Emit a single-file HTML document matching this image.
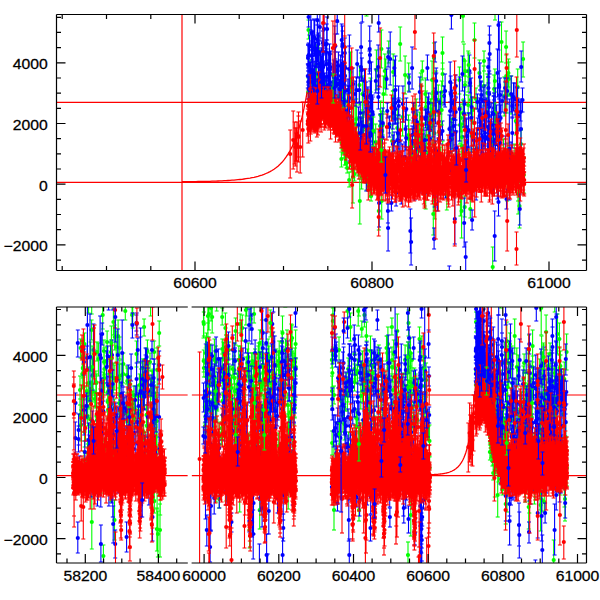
<!DOCTYPE html><html><head><meta charset="utf-8"><style>html,body{margin:0;padding:0;background:#fff;width:600px;height:600px;overflow:hidden}</style></head><body><svg width="600" height="600" viewBox="0 0 600 600" style="position:absolute;left:0;top:0">
<clipPath id="cT"><rect x="56.5" y="14.5" width="530" height="256"/></clipPath>
<clipPath id="cB1"><rect x="56.5" y="307" width="131.3" height="256"/></clipPath>
<clipPath id="cB2"><rect x="191.6" y="307" width="394.9" height="256"/></clipPath>
<g clip-path="url(#cT)" stroke="#ff0000" stroke-width="1.2" fill="none"><path d="M56.5 102.3H586.5"/><path d="M56.5 182.4H586.5"/></g>
<g clip-path="url(#cB1)" stroke="#ff0000" stroke-width="1.2" fill="none"><path d="M56.5 395H187.8"/><path d="M56.5 475.7H187.8"/></g>
<g clip-path="url(#cB2)" stroke="#ff0000" stroke-width="1.2" fill="none"><path d="M191.6 395H586.5"/><path d="M191.6 475.7H586.5"/></g>
<path d="M182 14.5V270.5" stroke="#ff0000" stroke-width="1.2"/>
<path clip-path="url(#cT)" d="M182 181.7 L184 181.7 L186 181.7 L188 181.7 L190 181.7 L192 181.6 L194 181.6 L196 181.6 L198 181.5 L200 181.5 L202 181.5 L204 181.4 L206 181.4 L208 181.3 L210 181.3 L212 181.2 L214 181.1 L216 181.1 L218 181 L220 180.9 L222 180.8 L224 180.7 L226 180.6 L228 180.5 L230 180.4 L232 180.2 L234 180.1 L236 179.9 L238 179.7 L240 179.5 L242 179.3 L244 179 L246 178.7 L248 178.4 L250 178.1 L252 177.7 L254 177.3 L256 176.8 L258 176.3 L260 175.7 L262 175.1 L264 174.4 L266 173.5 L268 172.6 L270 171.6 L272 170.5 L274 169.2 L276 167.8 L278 166.2 L280 164.3 L282 162.3 L284 159.9 L286 157.2 L288 154.2 L290 150.8 L292 146.9 L294 142.4 L296 137.3 L298 131.5 L300 124.8 L302 117.2 L304 108.4 L306 98.3 L308 86.7 L310 73.3" stroke="#ff0000" stroke-width="1.3" fill="none"/>
<path clip-path="url(#cB2)" d="M422.7 475 L423.5 475 L424.3 475 L425.2 475 L426 474.9 L426.9 474.9 L427.7 474.9 L428.6 474.9 L429.4 474.8 L430.2 474.8 L431.1 474.7 L431.9 474.7 L432.8 474.7 L433.6 474.6 L434.5 474.5 L435.3 474.5 L436.2 474.4 L437 474.4 L437.8 474.3 L438.7 474.2 L439.5 474.1 L440.4 474 L441.2 473.9 L442.1 473.8 L442.9 473.6 L443.8 473.5 L444.6 473.3 L445.4 473.2 L446.3 473 L447.1 472.8 L448 472.5 L448.8 472.3 L449.7 472 L450.5 471.7 L451.3 471.3 L452.2 471 L453 470.5 L453.9 470.1 L454.7 469.5 L455.6 469 L456.4 468.3 L457.3 467.6 L458.1 466.8 L458.9 465.9 L459.8 464.9 L460.6 463.7 L461.5 462.4 L462.3 461 L463.2 459.3 L464 457.5 L464.8 455.4 L465.7 453 L466.5 450.4 L467.4 447.3 L468.2 443.9 L469.1 439.9 L469.9 435.4 L470.8 430.3 L471.6 424.5 L472.4 417.8 L473.3 410.1 L474.1 401.2 L475 391.1 L475.8 379.4 L476.7 365.8" stroke="#ff0000" stroke-width="1.3" fill="none"/>
<defs><marker id="kg" markerWidth="8" markerHeight="4" refX="4" refY="2" markerUnits="userSpaceOnUse" orient="0" overflow="visible"><path d="M2 2h4" stroke="#00ff00" stroke-width="1.1"/></marker><marker id="kb" markerWidth="8" markerHeight="4" refX="4" refY="2" markerUnits="userSpaceOnUse" orient="0" overflow="visible"><path d="M2 2h4" stroke="#0000ff" stroke-width="1.1"/></marker><marker id="kr" markerWidth="8" markerHeight="4" refX="4" refY="2" markerUnits="userSpaceOnUse" orient="0" overflow="visible"><path d="M2 2h4" stroke="#ff0000" stroke-width="1.1"/></marker></defs>
<g clip-path="url(#cT)" fill="none"><path d="M469 150V180M483.8 66V106M362.4 76V113M425.3 78V110M311.7 72V94M325.8 76V97M420.5 137V157M434 122V143M325.4 77V113M420.8 73V99M375.7 124V160M518.2 175V214M448.6 140V165M495 1V20M491.7 130V157M417.8 132V157M425.7 169V209M366.8 113V132M370.1 108V127M380.1 115V137M392.2 125V157M328.6 61V94M405.1 56V94M457.8 152V185M470.6 86V114M481.8 120V157M414.8 105V143M506.3 55V96M439.2 114V150M511.2 76V114M508.9 62V96M397.3 109V146M356.4 99V139M465 76V95M468.2 95V115M408.5 115V154M366.5 -11V16M515.8 108V135M408.8 120V159M331.2 85V108M423.4 123V154M370.4 78V107M342.2 67V99M476 88V109M384.8 54V88M343.3 80V121M514.2 144V168M319.5 73V104M416.8 125V151M381.2 111V147M355.1 106V142M421 113V148M428.4 117V139M441.7 81V103M487.6 160V182M421.8 138V163M431.1 108V131M318.6 37V64M494.1 75V103M494.9 69V92M463.8 99V127M484 51V71M437.3 150V179M433.4 80V104M344.7 86V120M506.8 77V113M318.8 35V74M487.3 74V112M340 95V115M434.1 94V134M474.5 23V58M503.5 139V176M424.5 146V176M451.1 119V137M465.2 61V82M452 118V160M398.1 115V153M339 82V111M370.2 106V147M461.8 131V160M385.8 59V95M442.5 37V69M383.4 76V112M378.8 191V230M411.5 142V177M393.2 54V91M359.5 66V105M350.5 52V93M463 100V125M504.3 77V116M316.4 45V84M416.2 99V131M442.6 63V86M438.6 135V166M342.2 78V96M464.7 196V217M400.2 27V61M507.8 143V167M308.5 20V39M381.4 30V68M427.5 151V190M388.7 41V63M523.8 157V193M347.3 94V135M506.1 31V63M342.1 87V127M426.1 91V124M501.5 22V62M499.5 158V182M363.3 112V145M367.9 98V134M414.3 153V193M412.7 129V163M471.8 121V152M462 123V152M474.2 161V180M472.7 97V124M470.3 199V218M417.6 124V144M308.4 78V105M460 107V144M440.8 147V171M435.9 71V112M415.3 128V163M442.7 141V174M431.8 94V126M432.2 105V147M309.9 60V100M362.9 117V144M504 154V196M518 162V201M517.7 69V105M432.1 61V99M408.7 63V91M352.2 80V118M394.2 96V118M463.9 156V188M422.3 61V80M459.4 67V94M463.9 44V76M315.3 64V102M479.4 60V86M368.9 124V161M366.2 96V114M339.4 88V119M317.7 75V104M460.8 104V132M426.7 118V154M430.4 99V131M422.6 136V164M508.4 59V87M392.7 91V119M381.9 167V190M402.6 99V136M358.9 117V150M446.8 182V210M419.4 112V152M476.5 133V162M376.4 50V90M523.1 42V77M438.3 85V116M314.7 85V108M425.3 143V176M521 130V157M519.5 184V228M344.8 107V137M344.6 127V165M344.6 75V124M434.8 176V219M433.9 43V73M433.3 192V235M434.7 144V184M468.2 51V92M492.1 147V168M381.7 183V219M382.2 114V147M380.6 101V130M382.8 114V135M359.8 179V224M493 127V151M495.2 143V172M492.7 247V286M507.2 151V201M362.2 110V157M361.9 118V142M361.8 130V169M361.6 165V189M461.6 184V238M460.4 178V216M463 -10V42M352.9 150V203M352.4 159V170M351.9 160V172M339.5 111V125M364.3 163V176M366.5 174V190M368.2 180V191M347.2 163V173M358.8 163V175M342.6 123V134M341.6 138V148M349.2 172V187M362.5 159V174M345.6 152V165M344.2 146V158M358.2 164V176M346.4 157V168M368.2 169V184M354.6 167V181M345.8 129V146M366.3 162V172M339.5 122V133M342.8 144V154M350.7 132V142M366.5 166V178M341.4 152V167M371.1 191V201M343.5 112V124M340.3 119V135M342.4 132V150M370.2 181V197" stroke="#00ff00" stroke-width="1.1" marker-start="url(#kg)" marker-mid="url(#kg)" marker-end="url(#kg)"/><path d="M469 165h0M483.8 86h0M362.4 94h0M425.3 94h0M311.7 83h0M325.8 86h0M420.5 147h0M434 133h0M325.4 95h0M420.8 86h0M375.7 142h0M518.2 194h0M448.6 153h0M491.7 144h0M417.8 144h0M425.7 189h0M366.8 123h0M370.1 118h0M380.1 126h0M392.2 141h0M328.6 77h0M405.1 75h0M457.8 168h0M470.6 100h0M481.8 138h0M414.8 124h0M506.3 76h0M439.2 132h0M511.2 95h0M508.9 79h0M397.3 128h0M356.4 119h0M465 85h0M468.2 105h0M408.5 135h0M515.8 121h0M408.8 139h0M331.2 97h0M423.4 139h0M370.4 92h0M342.2 83h0M476 99h0M384.8 71h0M343.3 100h0M514.2 156h0M319.5 89h0M416.8 138h0M381.2 129h0M355.1 124h0M421 130h0M428.4 128h0M441.7 92h0M487.6 171h0M421.8 150h0M431.1 120h0M318.6 51h0M494.1 89h0M494.9 81h0M463.8 113h0M484 61h0M437.3 164h0M433.4 92h0M344.7 103h0M506.8 95h0M318.8 54h0M487.3 93h0M340 105h0M434.1 114h0M474.5 40h0M503.5 158h0M424.5 161h0M451.1 128h0M465.2 71h0M452 139h0M398.1 134h0M339 97h0M370.2 127h0M461.8 146h0M385.8 77h0M442.5 53h0M383.4 94h0M378.8 211h0M411.5 160h0M393.2 72h0M359.5 85h0M350.5 72h0M463 113h0M504.3 96h0M316.4 65h0M416.2 115h0M442.6 74h0M438.6 150h0M342.2 87h0M464.7 207h0M400.2 44h0M507.8 155h0M308.5 30h0M381.4 49h0M427.5 170h0M388.7 52h0M523.8 175h0M347.3 114h0M506.1 47h0M342.1 107h0M426.1 107h0M501.5 42h0M499.5 170h0M363.3 128h0M367.9 116h0M414.3 173h0M412.7 146h0M471.8 136h0M462 137h0M474.2 171h0M472.7 110h0M470.3 209h0M417.6 134h0M308.4 92h0M460 125h0M440.8 159h0M435.9 92h0M415.3 146h0M442.7 158h0M431.8 110h0M432.2 126h0M309.9 80h0M362.9 130h0M504 175h0M518 181h0M517.7 87h0M432.1 80h0M408.7 77h0M352.2 99h0M394.2 107h0M463.9 172h0M422.3 71h0M459.4 80h0M463.9 60h0M315.3 83h0M479.4 73h0M368.9 142h0M366.2 105h0M339.4 104h0M317.7 90h0M460.8 118h0M426.7 136h0M430.4 115h0M422.6 150h0M508.4 73h0M392.7 105h0M381.9 178h0M402.6 117h0M358.9 134h0M446.8 196h0M419.4 132h0M476.5 148h0M376.4 70h0M523.1 59h0M438.3 100h0M314.7 97h0M425.3 160h0M521 144h0M519.5 206h0M344.8 122h0M344.6 146h0M344.6 100h0M434.8 198h0M433.9 58h0M433.3 214h0M434.7 164h0M468.2 71h0M492.1 158h0M381.7 201h0M382.2 131h0M380.6 115h0M382.8 125h0M359.8 201h0M493 139h0M495.2 157h0M492.7 267h0M507.2 176h0M362.2 133h0M361.9 130h0M361.8 149h0M361.6 177h0M461.6 211h0M460.4 197h0M463 16h0M352.9 177h0M352.4 165h0M351.9 166h0M339.5 118h0M364.3 170h0M366.5 182h0M368.2 186h0M347.2 168h0M358.8 169h0M342.6 128h0M341.6 143h0M349.2 180h0M362.5 167h0M345.6 158h0M344.2 152h0M358.2 170h0M346.4 163h0M368.2 177h0M354.6 174h0M345.8 138h0M366.3 167h0M339.5 128h0M342.8 149h0M350.7 137h0M366.5 172h0M341.4 159h0M371.1 196h0M343.5 118h0M340.3 127h0M342.4 141h0M370.2 189h0" stroke="#00ff00" stroke-width="4.2" stroke-linecap="round"/><path d="M318.4 33V54M328.8 60V93M308.8 43V67M330.7 69V106M318.5 55V93M312.2 31V69M309.5 35V56M316.6 47V67M311.8 41V71M330.5 54V94M342.5 31V57M321.7 56V84M312.7 37V59M339.4 79V98M315.6 42V68M323.9 14V44M337.2 9V34M341 71V103M318.7 48V80M322.9 31V55M326.7 49V80M336 68V104M329.3 73V107M314.6 70V111M330.6 51V83M340.7 55V98M319.9 13V41M320.5 70V112M312.2 56V98M322.3 38V62M326.7 24V64M328 77V106M323.2 48V85M337.3 -1V22M321.5 66V101M317.3 25V55M328.3 52V85M328.4 64V106M308.6 77V102M315.6 72V101M318.5 36V67M322.2 67V105M340.4 64V101M329.8 69V100M314.8 66V97M326 40V64M322.1 72V113M333 64V101M326.6 63V91M317.7 21V62M338.4 52V80M324.9 73V100M310.1 77V99M320.1 52V76M330 75V109M343.7 61V101M325.6 42V61M323.3 54V79M341.7 24V56M340.6 60V102M343.9 68V106M334.7 26V67M308.3 64V99M310.6 68V97M337.3 61V80M308.1 45V68M313.1 69V107M322.6 68V104M328 81V103M345.4 47V89M310.5 62V92M308.3 44V85M329.5 44V63M313.2 70V103M319.8 75V99M345.1 81V102M318.3 67V107M342.5 47V87M320.3 70V98M335.4 66V98M308.6 6V27M310.8 -9V30M312.4 54V92M335.2 52V72M337.9 69V99M317.3 5V35M312.8 31V66M334.3 75V94M333.8 60V95M334 77V96M341.5 62V101M311.3 20V47M323.4 24V66M311.6 32V60M308 45V71M314.7 20V56M334.6 45V86M323.8 62V100M314.2 61V87M307.8 64V88M327.1 17V40M335.4 34V59M343.6 66V101M314 19V54M309.8 62V80M310.7 69V110M329.8 52V87M322.3 48V84M345 66V85M335.8 62V95M320.7 51V82M322.7 67V87M505.2 82V113M379.4 159V194M468.6 113V147M395.5 99V119M484.1 119V136M372.7 97V132M360.2 102V123M405 142V173M481.9 121V155M464.5 87V121M418.5 137V156M422.8 134V167M399.2 130V152M394.4 60V76M518.9 101V131M389.3 117V137M471.6 97V117M359.3 77V103M505.4 136V169M347.9 79V101M436.8 152V176M366.1 82V115M480 63V90M482.9 136V154M466.7 140V158M351.6 117V152M419.3 156V192M386.6 69V89M435 88V106M371.5 99V133M424.2 141V165M364 78V112M479.6 98V134M477.4 94V109M440.6 125V144M373.5 133V163M394.1 132V151M495.3 88V173M372.1 149V166M440.3 92V114M415.9 119V136M491.5 112V148M396.1 180V206M397.9 118V149M493.8 96V132M365.4 125V145M452.2 90V116M448 146V165M371.4 62V137M414.7 160V185M489.1 137V166M519 148V173M481.1 81V117M355.1 81V106M394.2 90V124M513.5 83V111M395.4 86V120M488.8 104V126M484.5 163V181M521 99V159M421.1 148V169M379.1 137V170M387.3 103V118M364.5 69V92M481 91V165M348.5 86V117M358.4 107V143M474.4 122V146M521.2 51V82M400.9 140V173M426.9 159V194M401.3 179V204M378.4 86V109M484.1 114V136M402.9 86V122M415.6 126V161M522.5 88V112M469.4 55V86M450.7 76V111M433 103V137M505.3 144V166M482.5 134V172M481.3 82V108M429.2 140V170M471.2 78V157M370.3 81V109M405.5 111V147M347.8 106V142M451.5 83V109M473.4 131V149M392.8 98V129M429 122V157M413.6 103V134M515 83V115M498 118V141M487.6 128V150M366.3 156V191M511.2 76V112M488.2 58V77M367 121V153M406.2 126V150M507.1 78V104M488.4 77V100M352.6 121V141M477.7 118V139M427.4 55V80M416.5 148V177M434.9 155V183M496.6 105V137M499.1 71V99M445.1 74V107M365.8 143V164M476.1 164V200M406.3 98V120M361.8 121V152M499.7 120V150M444 86V105M484.2 113V149M375.8 69V93M455.7 98V125M478.2 139V173M382 148V164M509.8 148V178M357.2 50V78M380.3 114V149M395.5 56V124M367.1 111V143M488.2 118V136M485 120V146M372.5 95V129M425.4 110V128M382.8 108V137M346.9 109V143M382.4 124V153M498 113V149M409.1 74V92M430.1 116V144M500.2 132V154M427.7 97V130M467.1 126V147M412.2 126V144M392.9 135V152M489.1 92V122M452.1 122V149M464 152V171M392.3 154V180M465.8 118V137M506.5 189V209M356.5 77V103M502.1 91V112M500.1 78V113M368.9 102V120M402.5 144V170M398.7 98V115M519.8 194V225M419.8 77V106M512.3 117V148M516.8 87V123M429 164V186M381.6 136V171M505.1 78V99M468.5 113V148M437.4 150V211M428.7 93V112M520.6 102V121M462.4 56V91M349.2 112V133M397.4 123V158M372.2 125V145M349.4 35V161M373.3 142V168M451.2 163V180M489.9 122V154M435.1 42V62M509.3 99V200M485.5 119V155M495.2 124V156M449.4 115V143M380 121V156M476.4 138V159M479.2 100V123M459.6 77V141M349 86V109M436.2 68V94M499.2 22V152M353 68V100M486.3 98V127M488.9 116V143M398.6 86V116M488.7 92V117M511 142V163M455.6 120V145M480.2 102V126M367.8 87V107M499.8 116V148M445.4 177V198M363.1 113V139M512.3 94V118M371.1 168V183M426 109V125M483.2 87V115M373.1 115V147M421.8 108V125M471.1 168V199M470.1 73V93M472.1 210V230M517.4 88V112M453.6 104V135M345.8 113V136M498.8 133V158M391.4 195V211M422.7 163V193M412.4 129V154M389.4 116V133M442.5 121V140M484.9 85V117M438.7 122V155M417 110V134M430.1 127V151M439 101V121M351.5 134V155M344.8 38V68M344.9 93V128M489.2 71V117M489.7 35V74M489.4 26V60M488.4 83V121M488.2 126V179M413.3 103V121M414.5 158V200M414.9 140V192M497.5 49V97M498.5 0V50M499.1 121V151M500.6 105V131M498.5 187V216M497.3 163V199M378.2 45V89M378.7 59V93M379.1 179V227M377.7 164V184M368.9 126V149M369.4 51V74M369.7 26V71M370 41V69M367.5 89V115M435.6 74V124M436.3 73V112M434.1 228V249M435 126V173M435.5 141V181M434.7 184V207M349.2 46V93M349.8 115V144M349.5 106V143M466.4 119V165M464.2 198V247M465.7 242V271M464.2 136V172M464 101V127M450.2 62V102M450.5 127V153M451.4 2V29M450.2 92V130M454.8 194V244M454.8 80V120M453.8 100V151M455.8 75V97M361.1 23V71M361.9 58V81M362.3 -13V22M361.2 118V172M361.5 148V167M360.9 53V81M491.8 103V147M494.7 211V261M493.6 141V193M494 93V122M493.9 100V124M495.5 121V167M411.1 218V265M409.7 147V187M410.4 209V253M412.1 47V89M388.1 48V67M390.2 32V85M387.9 199V223M388.1 204V251" stroke="#0000ff" stroke-width="1.1" marker-start="url(#kb)" marker-mid="url(#kb)" marker-end="url(#kb)"/><path d="M318.4 44h0M328.8 76h0M308.8 55h0M330.7 87h0M318.5 74h0M312.2 50h0M309.5 46h0M316.6 57h0M311.8 56h0M330.5 74h0M342.5 44h0M321.7 70h0M312.7 48h0M339.4 89h0M315.6 55h0M323.9 29h0M337.2 21h0M341 87h0M318.7 64h0M322.9 43h0M326.7 64h0M336 86h0M329.3 90h0M314.6 91h0M330.6 67h0M340.7 76h0M319.9 27h0M320.5 91h0M312.2 77h0M322.3 50h0M326.7 44h0M328 92h0M323.2 67h0M321.5 84h0M317.3 40h0M328.3 69h0M328.4 85h0M308.6 89h0M315.6 86h0M318.5 52h0M322.2 86h0M340.4 82h0M329.8 85h0M314.8 81h0M326 52h0M322.1 93h0M333 82h0M326.6 77h0M317.7 42h0M338.4 66h0M324.9 87h0M310.1 88h0M320.1 64h0M330 92h0M343.7 81h0M325.6 52h0M323.3 66h0M341.7 40h0M340.6 81h0M343.9 87h0M334.7 47h0M308.3 82h0M310.6 82h0M337.3 71h0M308.1 56h0M313.1 88h0M322.6 86h0M328 92h0M345.4 68h0M310.5 77h0M308.3 65h0M329.5 54h0M313.2 87h0M319.8 87h0M345.1 91h0M318.3 87h0M342.5 67h0M320.3 84h0M335.4 82h0M308.6 17h0M312.4 73h0M335.2 62h0M337.9 84h0M317.3 20h0M312.8 48h0M334.3 84h0M333.8 77h0M334 87h0M341.5 81h0M311.3 33h0M323.4 45h0M311.6 46h0M308 58h0M314.7 38h0M334.6 65h0M323.8 81h0M314.2 74h0M307.8 76h0M327.1 29h0M335.4 46h0M343.6 84h0M314 37h0M309.8 71h0M310.7 90h0M329.8 70h0M322.3 66h0M345 76h0M335.8 79h0M320.7 67h0M322.7 77h0M505.2 97h0M379.4 176h0M468.6 130h0M395.5 109h0M484.1 127h0M372.7 114h0M360.2 113h0M405 157h0M481.9 138h0M464.5 104h0M418.5 147h0M422.8 150h0M399.2 141h0M394.4 68h0M518.9 116h0M389.3 127h0M471.6 107h0M359.3 90h0M505.4 153h0M347.9 90h0M436.8 164h0M366.1 98h0M480 77h0M482.9 145h0M466.7 149h0M351.6 135h0M419.3 174h0M386.6 79h0M435 97h0M371.5 116h0M424.2 153h0M364 95h0M479.6 116h0M477.4 102h0M440.6 134h0M373.5 148h0M394.1 142h0M495.3 130h0M372.1 158h0M440.3 103h0M415.9 128h0M491.5 130h0M396.1 193h0M397.9 133h0M493.8 114h0M365.4 135h0M452.2 103h0M448 156h0M371.4 99h0M414.7 172h0M489.1 151h0M519 161h0M481.1 99h0M355.1 94h0M394.2 107h0M513.5 97h0M395.4 103h0M488.8 115h0M484.5 172h0M521 129h0M421.1 159h0M379.1 154h0M387.3 111h0M364.5 81h0M481 128h0M348.5 101h0M358.4 125h0M474.4 134h0M521.2 67h0M400.9 157h0M426.9 177h0M401.3 192h0M378.4 97h0M484.1 125h0M402.9 104h0M415.6 143h0M522.5 100h0M469.4 71h0M450.7 94h0M433 120h0M505.3 155h0M482.5 153h0M481.3 95h0M429.2 155h0M471.2 118h0M370.3 95h0M405.5 129h0M347.8 124h0M451.5 96h0M473.4 140h0M392.8 113h0M429 140h0M413.6 118h0M515 99h0M498 129h0M487.6 139h0M366.3 173h0M511.2 94h0M488.2 67h0M367 137h0M406.2 138h0M507.1 91h0M488.4 88h0M352.6 131h0M477.7 129h0M427.4 68h0M416.5 162h0M434.9 169h0M496.6 121h0M499.1 85h0M445.1 91h0M365.8 154h0M476.1 182h0M406.3 109h0M361.8 137h0M499.7 135h0M444 96h0M484.2 131h0M375.8 81h0M455.7 112h0M478.2 156h0M382 156h0M509.8 163h0M357.2 64h0M380.3 131h0M395.5 90h0M367.1 127h0M488.2 127h0M485 133h0M372.5 112h0M425.4 119h0M382.8 123h0M346.9 126h0M382.4 138h0M498 131h0M409.1 83h0M430.1 130h0M500.2 143h0M427.7 113h0M467.1 136h0M412.2 135h0M392.9 144h0M489.1 107h0M452.1 135h0M464 161h0M392.3 167h0M465.8 127h0M506.5 199h0M356.5 90h0M502.1 101h0M500.1 95h0M368.9 111h0M402.5 157h0M398.7 106h0M519.8 209h0M419.8 92h0M512.3 133h0M516.8 105h0M429 175h0M381.6 153h0M505.1 88h0M468.5 131h0M437.4 180h0M428.7 103h0M520.6 112h0M462.4 74h0M349.2 123h0M397.4 140h0M372.2 135h0M349.4 98h0M373.3 155h0M451.2 171h0M489.9 138h0M435.1 52h0M509.3 149h0M485.5 137h0M495.2 140h0M449.4 129h0M380 139h0M476.4 149h0M479.2 111h0M459.6 109h0M349 98h0M436.2 81h0M499.2 87h0M353 84h0M486.3 112h0M488.9 130h0M398.6 101h0M488.7 105h0M511 153h0M455.6 132h0M480.2 114h0M367.8 97h0M499.8 132h0M445.4 188h0M363.1 126h0M512.3 106h0M371.1 176h0M426 117h0M483.2 101h0M373.1 131h0M421.8 117h0M471.1 183h0M470.1 83h0M472.1 220h0M517.4 100h0M453.6 119h0M345.8 124h0M498.8 146h0M391.4 203h0M422.7 178h0M412.4 141h0M389.4 124h0M442.5 131h0M484.9 101h0M438.7 139h0M417 122h0M430.1 139h0M439 111h0M351.5 145h0M344.8 53h0M344.9 111h0M489.2 94h0M489.7 54h0M489.4 43h0M488.4 102h0M488.2 153h0M413.3 112h0M414.5 179h0M414.9 166h0M497.5 73h0M498.5 25h0M499.1 136h0M500.6 118h0M498.5 202h0M497.3 181h0M378.2 67h0M378.7 76h0M379.1 203h0M377.7 174h0M368.9 138h0M369.4 62h0M369.7 49h0M370 55h0M367.5 102h0M435.6 99h0M436.3 93h0M434.1 239h0M435 150h0M435.5 161h0M434.7 196h0M349.2 69h0M349.8 129h0M349.5 125h0M466.4 142h0M464.2 223h0M465.7 257h0M464.2 154h0M464 114h0M450.2 82h0M450.5 140h0M451.4 15h0M450.2 111h0M454.8 219h0M454.8 100h0M453.8 126h0M455.8 86h0M361.1 47h0M361.9 70h0M361.2 145h0M361.5 157h0M360.9 67h0M491.8 125h0M494.7 236h0M493.6 167h0M494 108h0M493.9 112h0M495.5 144h0M411.1 242h0M409.7 167h0M410.4 231h0M412.1 68h0M388.1 57h0M390.2 59h0M387.9 211h0M388.1 228h0" stroke="#0000ff" stroke-width="4.2" stroke-linecap="round"/><path d="M290.2 130V178M293.2 111V169M294.7 122V164M295.3 128V166M296.4 133V161M296.5 128V161M297 122V172M298.4 116V157M298.5 112V162M300.2 121V173M302.7 102V157M312.6 99V123M318.4 96V121M329.1 94V122M470.9 155V180M378.2 143V171M387.1 169V194M396.5 166V189M504.1 150V170M345.5 125V150M504.5 172V197M315.3 97V118M373.4 160V187M496.4 167V189M458.7 171V192M388.1 152V177M419.8 169V190M512.6 165V190M319.3 102V127M458.5 162V191M418.9 164V189M496.3 161V183M406.6 176V201M396.2 164V185M325.2 98V122M419.8 163V186M345.7 121V144M512.1 172V193M473.2 159V183M320.9 90V117M456.6 165V191M440 159V179M353.4 132V159M480.4 164V186M380.3 157V185M381.3 142V165M358.5 138V160M465.6 174V196M466.9 158V186M493.5 162V183M416.9 154V179M423.8 165V192M342.4 111V133M434.4 167V194M520.6 165V192M484.5 167V192M502.1 173V198M365.3 152V175M491.3 168V192M377.2 168V190M518.8 165V188M445.6 165V190M351.6 135V156M383.1 172V200M463.6 161V184M423.8 170V195M357.7 144V172M427.3 163V187M502.8 153V179M499.1 158V183M381.9 161V188M327.9 96V122M358.5 139V166M451.9 151V177M355.3 128V153M312.4 95V123M358.2 151V173M368.7 150V176M518.4 160V185M321 93V119M445.2 160V184M330.7 103V127M395.3 166V192M466.8 167V192M423.7 157V181M521 156V177M350.9 139V162M329.1 99V124M492.8 149V172M328.8 102V122M427.9 162V190M421.5 152V181M414.4 159V187M319.5 100V124M363.5 153V179M316.9 110V137M309.6 105V129M514.2 157V182M441.8 173V194M324.5 106V127M373.1 158V182M442.4 145V167M338.6 102V125M311.7 106V128M414.4 157V180M419.6 175V198M517 158V180M443 159V182M511.6 161V184M406.2 169V194M521.9 157V184M420 166V193M312.8 95V120M311.2 107V131M433.7 160V187M468.7 161V183M503.6 159V182M457.4 168V190M330 93V114M523.6 161V185M368.9 161V186M360.1 143V166M522.2 150V176M396.1 152V179M334 89V116M473.5 146V173M497 160V182M408.6 179V207M320.4 99V120M410.4 173V200M425.1 175V196M370.6 156V180M453.9 161V187M373 162V187M506.4 162V183M346.4 126V148M388.3 170V193M508.5 151V177M507.6 163V191M502 168V191M337.1 112V135M438.9 165V185M508.8 165V191M459.1 158V180M375.9 164V188M322 93V115M353.4 124V148M413.3 170V195M322.6 92V113M448.7 182V207M506.1 153V180M488.5 158V183M465.9 164V189M390.8 153V179M439.6 155V180M482.8 143V167M444.3 164V192M455.1 160V187M315.9 98V122M489.8 168V193M472.4 161V183M335.2 99V123M522.6 149V177M515.7 148V173M459.2 168V196M436.2 163V190M459.1 160V187M395.7 153V176M318.3 100V121M313.5 106V126M382.1 160V186M424.8 162V188M448.4 168V189M429.3 160V184M377.9 172V199M448 159V184M421.6 164V187M506.1 154V181M477.1 144V171M394.9 168V190M482.4 158V179M448.1 157V181M324.6 91V115M332.8 105V130M372.2 158V185M321.2 103V126M339.2 112V136M356.8 132V159M477.3 158V187M443.7 161V187M346.1 123V144M310.2 106V132M516.2 159V186M321 100V127M512.5 164V186M323.9 91V120M480.3 162V188M343.8 126V148M434 164V188M317.9 103V131M398 154V182M485.9 163V185M433.5 145V173M340.3 110V135M466.9 169V194M316.4 104V130M406.9 147V172M493 150V175M410.3 154V181M309 101V125M498.8 157V185M324.3 102V130M389.1 160V187M328.9 98V125M320.9 95V120M494.5 174V196M386 163V185M509.7 170V195M345.3 128V151M397.1 162V182M463.8 147V172M509.3 176V198M387.1 166V189M413.9 160V186M458.5 165V193M381.4 169V194M465 156V182M321 90V118M422.9 143V169M392.3 156V181M501.3 157V183M523.6 148V175M512.3 171V192M336.6 100V122M355.7 134V155M483 150V173M404.3 158V186M336.2 102V124M439.5 160V184M505.4 150V175M426.7 156V184M400.4 177V201M396.6 157V181M406.1 169V193M387.2 173V196M377.7 151V174M435.7 176V200M395.4 176V202M315 95V123M474.3 153V180M500.2 166V191M438.7 166V194M468.2 159V185M366.4 156V180M356 127V154M376.1 163V187M375.8 157V181M376.6 154V182M490.8 161V183M337.1 102V128M388.9 165V189M483.9 154V175M361.8 144V172M346.7 127V151M427 160V182M410.7 169V191M400.3 167V193M474.1 152V177M453.2 172V196M458.8 175V202M451.8 173V195M506 170V196M423.1 173V195M335.3 96V120M445.7 165V188M366.1 157V182M515.5 169V193M471.8 165V186M483.9 160V182M507.8 150V174M474 152V180M505.5 156V182M344.1 112V139M419.2 159V188M469.2 175V198M331.4 97V120M339.3 106V133M416.3 168V189M434.9 184V211M501.3 163V188M424 171V199M410.5 178V202M511.6 165V187M378.2 158V180M489.8 161V185M444.7 158V181M314.6 102V127M379 171V193M444.2 162V190M381.8 150V174M434.6 166V191M316.6 103V127M503.4 171V196M474.3 166V191M318.2 102V129M310.4 114V141M462.3 148V172M454.3 166V193M339.3 113V140M419 164V184M311.2 98V124M376.1 161V182M344.3 108V137M458.5 151V179M437.6 163V183M308.3 116V143M488.4 153V177M433.4 168V190M366.2 154V177M354.8 129V153M480 160V181M401.6 169V191M439 143V170M413.3 173V199M478.5 163V188M453.5 157V179M512.2 153V173M415.3 159V183M504.3 176V196M353.1 140V163M489.7 165V190M478 158V186M484.3 159V185M443.9 153V179M325.6 101V124M412.8 174V198M351.5 136V160M474.7 160V187M447 160V185M493.2 148V171M419.5 161V185M387.1 162V186M397.7 159V182M328.8 87V113M446.7 162V183M370.4 159V185M442.6 157V178M379.9 163V185M410.5 167V194M361.2 149V171M327.1 93V118M513.2 161V182M348.5 125V146M409.6 157V182M465.3 156V179M459.1 160V185M437.7 176V201M350.1 137V162M343.9 114V136M465 164V187M396.8 168V190M404.1 172V197M457.1 165V190M451.5 174V200M474.6 162V185M338.9 114V142M407.5 175V198M345.8 133V160M368.6 150V179M414.9 164V191M420.5 166V189M491.4 153V180M327.2 97V123M336.3 117V137M365 136V160M519.1 150V175M402.9 146V173M481.4 159V182M473.5 150V175M437.4 172V193M323.4 87V113M344.2 127V155M481.6 157V184M400.1 154V182M404.6 156V183M409.1 169V195M509.9 162V188M387.6 163V188M414.6 166V187M368.2 162V187M523.4 157V182M474.5 149V170M314.9 100V126M503.1 159V182M325.1 104V127M391 164V185M470.7 170V197M430.6 165V191M407.7 157V179M448.4 170V196M351.4 129V154M382.3 165V187M313.9 105V132M505 151V174M384.7 143V171M353 126V148M477.8 163V188M317.6 96V123M499.1 155V178M361.1 151V172M517.2 165V185M441 172V199M440.6 153V180M409.4 173V198M387.4 163V185M459.1 155V177M436.3 172V194M369.2 151V174M390.6 160V186M319.5 102V123M494.8 166V187M316.7 102V129M391.9 158V180M362.6 143V170M459.1 149V172M328.8 106V128M414.1 168V191M439.6 161V188M389.4 155V176M399.8 176V201M414 152V180M331.6 103V126M402.7 182V207M315.7 106V131M337.1 108V130M433.7 173V195M489.4 142V166M378.3 154V176M316.7 100V122M407.6 162V186M424.1 165V192M358.6 150V172M496.4 154V180M428.6 170V191M319 101V124M392.5 171V199M331.6 96V122M458.2 154V180M458.7 164V189M511.7 158V183M403.7 167V194M455.4 168V196M452.9 183V206M473.1 156V178M475.1 168V190M371.5 172V195M341.8 118V145M320.3 95V121M492.5 154V181M489.8 153V176M320.3 90V119M361.5 154V175M330.3 96V119M376.5 149V171M357.9 135V159M338 105V131M410.2 152V176M470.9 155V181M389.1 154V175M336.5 106V133M504.1 155V178M476.6 167V191M475.9 153V181M489.6 168V189M493.8 150V176M412.5 162V185M467.4 162V187M459.5 159V185M392.6 162V182M523.2 172V195M312.9 103V130M447.2 170V199M469 152V176M369.7 148V172M392.4 169V195M325.5 105V128M379.3 161V183M487.7 155V181M507.6 149V171M422.9 157V179M407.5 168V193M410.4 168V191M407.6 160V186M453.5 157V183M463.9 163V187M331 90V117M476.6 175V197M524 144V172M445.4 158V187M497.9 164V190M357.2 142V170M396.4 172V196M405.7 173V200M414.3 172V198M516.2 153V181M513.2 166V186M491.8 150V178M457.1 155V178M338.8 111V134M501.5 158V184M509.1 152V175M348.2 130V151M424.3 156V184M348.2 128V153M448.3 180V204M421.2 171V192M463.3 166V187M430 170V194M385.7 162V187M367.9 141V168M361.1 140V167M434 161V188M311.6 94V122M482.8 163V185M321.3 97V124M413.9 150V179M407.6 163V183M334 104V128M349.6 133V155M365.6 154V181M311.7 100V126M330 91V116M438.1 162V191M410.4 167V192M479.6 170V192M426.8 164V186M451.8 156V178M371.8 154V179M520.9 161V186M337.5 112V134M335.4 106V127M341.5 113V137M348.8 122V142M315.7 88V115M465.4 162V183M420.1 166V187M373.2 147V168M370.2 159V183M501.7 160V182M443.9 169V195M478.5 166V190M495.9 161V184M355.8 142V169M444.7 165V185M458.2 146V168M318.7 96V117M380.4 159V180M498.4 153V179M469.6 155V181M352.2 133V156M522 154V182M401.5 163V187M518.7 152V172M384.8 170V190M427.3 174V200M393.5 167V189M440 170V195M329.9 98V125M323.6 100V124M499.5 165V188M511.9 151V177M402.5 151V176M479.1 170V190M326.6 98V119M340.1 113V135M352.6 140V163M382.1 161V187M407.9 168V190M488.2 165V186M469.1 172V194M402.8 160V180M402.7 165V192M374.6 169V190M369.9 151V174M511.2 161V185M351.1 125V147M387.3 172V200M441.2 172V198M357.8 139V161M335.6 98V120M448.3 158V183M413 170V191M402.6 151V172M416.6 166V193M492.7 168V192M472.7 161V189M353.7 135V157M385.9 158V180M428.6 169V196M484.8 157V185M382.4 156V176M467.9 160V185M328.2 93V120M425.2 147V175M325.9 100V125M402.4 159V179M379.2 141V167M489.5 155V181M387.8 158V179M312.2 99V121M500 155V182M454.4 157V184M384.3 150V172M457.7 162V183M396 146V174M370.3 164V187M311.3 98V119M410.6 165V187M432.3 156V183M387.4 157V179M498.4 160V182M348.3 127V151M468.4 158V185M483.3 154V176M442.9 172V199M360.2 143V168M401.2 152V175M386.4 157V184M487.8 149V170M347.9 129V150M313.5 107V129M503 151V177M481.2 170V191M348 125V149M381 174V195M374.3 147V173M442.4 159V181M491.3 161V189M357.5 138V160M481.9 156V181M313.6 95V122M457.6 169V190M329.6 93V118M442.2 159V188M506.6 159V180M487.1 150V178M486.6 166V187M374 167V194M376.9 174V200M417.8 173V196M411.1 170V196M378.4 163V188M516.4 148V173M479.9 159V181M512 155V177M520.7 153V181M500.6 175V197M463.7 161V185M519 153V177M423.6 165V190M384.1 154V181M311.7 99V120M464.7 167V189M399.1 151V172M347.8 127V147M311.6 105V127M476 152V179M369.2 139V159M409.2 168V189M424.6 181V206M332.8 98V121M402.3 174V199M439.7 153V181M511.7 160V182M428.9 172V196M389.4 156V184M415.4 175V197M443.6 163V185M493.2 152V174M375.8 161V188M334.5 106V134M503.1 175V197M428.3 159V184M499.6 164V188M307.7 112V136M383.2 157V186M339.3 110V132M345.7 112V140M339.3 115V140M388.8 152V180M454 169V194M405.6 162V188M443.5 172V194M436.6 161V187M408.4 176V197M315.3 104V131M474.9 164V186M498.4 154V182M408.4 167V192M482.9 164V189M365 152V173M379.5 159V181M458.1 173V197M510.9 161V187M345.5 122V144M451.2 172V195M338.6 106V132M345.6 120V146M503.8 175V195M459.9 171V198M484.1 160V187M464.3 155V179M415.1 172V192M387.7 167V194M327.4 97V119M426.6 160V187M308 102V125M404.5 165V190M431.1 147V174M360 147V172M393.2 153V174M315.8 96V117M475.9 159V180M418.6 169V196M475.2 159V180M470.7 176V199M470.2 155V178M391.6 173V195M496.6 169V193M325.6 95V122M423.9 171V191M515.9 160V188M315.3 98V122M376.2 144V171M383.7 157V178M346.9 132V156M493.9 161V187M494.3 159V180M497.5 155V182M418.1 172V197M319.2 96V116M412.6 172V194M358.9 154V179M370.2 155V180M341.8 120V145M321.1 104V132M354 136V160M314.6 98V125M509.5 163V186M503.1 154V177M384.5 159V185M465.5 165V193M350 138V163M382.5 159V181M338 107V135M469.7 153V175M371.4 155V183M387.7 156V180M354.3 148V169M503.2 162V186M521.8 153V176M396.8 174V198M418.8 166V190M435.7 171V194M423.1 159V187M505.7 159V181M355.4 136V162M387.1 167V190M477.3 158V180M408.4 181V202M365 157V179M468.6 149V170M392.5 165V191M520.6 169V190M337 111V136M359 138V160M518.5 174V197M455 170V194M420.6 167V190M520.3 175V201M389.3 176V202M371.3 161V183M425.8 167V190M467.9 162V190M370.4 151V172M322.3 92V117M482.3 158V184M451.1 156V178M493 166V188M349.3 128V153M314.2 99V120M414.4 163V185M338.3 112V133M467.3 164V190M318.1 93V120M412.1 157V180M470.8 158V181M435.1 165V191M461.5 166V192M436.6 171V193M370.9 171V193M424.1 164V187M440.6 168V192M511.3 153V177M445.7 170V191M365.8 140V166M371.7 163V189M435.6 153V180M424.4 169V189M513.1 155V182M362.8 147V172M429.8 149V175M502 163V183M401.1 159V185M384 163V189M459.6 154V181M445.7 160V188M312.4 103V128M345.3 115V141M432.4 177V204M347.9 132V157M395 181V202M378.9 177V200M391.5 162V184M502.9 155V181M426.1 166V193M342.9 127V151M400.9 173V200M374.9 156V179M516.2 163V187M370.6 163V190M479.6 164V192M446.6 160V181M488.8 160V188M386.8 161V184M513 170V195M473.2 170V196M379.8 171V191M389.6 167V192M457.3 156V177M508 156V184M508.4 155V182M335.5 117V142M341 104V127M516.6 172V195M345.1 116V141M470.1 158V184M464.4 165V193M479.2 162V182M329.8 104V124M326.6 94V120M413.4 162V185M458.9 171V193M469.3 165V190M481.9 158V181M414 156V180M331.6 93V114M501.5 155V177M373.3 168V193M508.7 160V186M454.3 169V197M407.3 167V190M457.6 164V191M489.7 162V189M486.3 153V181M379.6 157V177M369.1 158V183M453.6 154V180M383.6 166V191M477.1 159V180M485.8 171V195M405.6 163V186M515.9 151V179M430.8 163V190M309 99V128M362.9 152V173M375.5 164V188M314.1 93V120M513 156V181M462.1 169V198M457.2 167V190M480.5 156V184M420 177V200M465.9 165V193M448 175V199M318.7 91V115M432.6 174V201M363.5 152V177M313.5 94V120M433.8 160V182M437.6 163V191M382.3 144V171M331.8 101V126M490.7 167V192M308.6 99V127M505.5 149V173M517.7 159V186M406.5 159V184M331.6 100V125M488.6 152V175M361.7 152V177M440.2 167V193M389.9 162V188M496.6 163V186M319.7 96V118M316.9 99V123M453.8 171V197M379 157V179M463.7 166V190M367.8 141V163M422.6 167V194M361.4 142V164M389.8 154V177M350 129V157M433.9 162V183M488.8 159V185M350.3 125V149M523.2 154V175M489.8 173V200M473.4 158V181M517.8 158V186M347.6 126V148M468.3 161V187M474.5 162V185M310.5 96V120M446.5 159V182M412.7 166V192M413.8 167V191M385.3 173V201M435.5 177V205M360.7 151V174M395.4 170V192M336.8 109V133M422.3 159V184M388.9 163V188M400.7 161V188M522.6 154V175M436.3 164V188M496.6 154V181M386.3 151V175M505.7 158V183M385.6 172V193M387.6 157V183M314.1 96V121M427.5 172V200M409.8 170V193M335.7 105V127M387.3 159V183M458.3 184V205M492.3 165V191M484.4 170V196M487.2 169V196M438.9 169V190M515 158V182M521.6 153V176M419.5 156V182M488.4 158V179M382.7 155V178M398.4 177V197M377.9 160V187M397.5 158V182M488 156V181M430.5 153V178M457.4 169V192M495.7 162V188M319.7 85V106M362.2 143V164M451.6 163V189M328 102V123M401.6 175V198M431.4 166V189M380.9 158V181M399.6 176V199M500.3 152V179M408.3 150V176M317.2 88V113M485.4 174V194M446.6 163V187M374.4 153V181M316.9 98V122M412.8 169V194M510 167V190M379.4 174V196M479.9 152V174M515.4 160V187M391.5 161V185M330.4 93V120M339.1 109V135M368.6 159V179M391.6 170V193M485.9 171V196M508.6 157V183M417.7 164V186M461.4 171V199M422.4 168V194M504.4 148V170M309 106V132M380.8 161V183M380.8 159V187M521.5 155V183M375 167V193M463.2 166V191M434.8 159V182M341.4 121V148M362.9 160V182M463.3 160V181M355.7 134V157M343.5 109V131M521.3 151V177M512.4 168V189M377.6 160V186M352.8 129V155M429 161V183M380.1 161V186M509.9 164V192M400.9 160V183M328.8 100V126M485.3 159V188M461.5 166V194M393.9 162V187M387.7 180V203M446.7 157V177M317.9 101V128M477.4 151V176M513.6 163V187M521.6 165V193M441.8 169V194M341.9 117V139M330.6 112V139M444.8 161V187M440.8 163V187M434.1 166V189M371.4 153V182M503 166V193M351.6 142V169M440.1 176V202M337.9 105V132M459.4 166V194M419.4 166V188M463 161V183M419.5 163V188M471.8 181V201M478.5 159V186M404.5 164V191M495.6 156V180M341.5 117V140M524.2 172V196M469.4 153V181M493.1 170V196M474.8 158V186M392.9 160V184M485.2 144V171M363.6 156V183M458.5 167V191M364 154V179M335.8 95V115M458.8 163V189M511.8 145V169M314.3 94V117M417.3 172V199M479.5 169V192M413.9 151V177M445.7 174V194M522.5 159V183M470.4 171V192M429.7 173V193M421 157V185M315.1 108V133M448.8 168V188M314.6 99V120M469.8 167V191M443.4 176V200M365.6 157V183M445.2 168V189M376.6 169V195M341.6 111V137M505.7 153V175M477.3 154V180M428 155V181M499.1 158V184M318.3 99V124M380.7 169V195M453.8 163V187M443.9 172V194M504.6 169V192M510.1 170V199M332.9 99V123M333.5 97V125M328.5 97V118M463.9 153V180M341.1 109V133M346.3 116V141M338.5 99V125M381.8 169V191M519.5 147V175M466.6 153V177M346.5 123V148M485.5 169V193M333.4 107V133M519.4 156V180M463.5 163V187M483.4 161V185M349.9 130V152M431.1 158V183M341.8 120V147M344.4 116V137M498.1 171V196M362.9 142V165M382.7 153V179M500.4 154V180M480 165V187M389.5 158V179M481.3 179V202M448.9 156V179M524.2 166V194M513.3 156V184M463.8 167V192M309 107V130M318.2 103V126M352 122V150M461.7 166V189M342.6 115V143M365.2 146V168M492 156V185M425.5 169V190M414.2 175V201M509.4 169V192M488.8 150V178M351.4 128V155M395.9 175V200M486.6 155V182M504.5 164V192M376.3 161V189M349.4 146V169M368.3 179V200M463.5 169V194M369.4 159V180M363.2 160V180M497.5 154V181M333.1 102V126M492.3 181V204M366 154V175M326.2 98V123M366.1 158V181M366.2 146V173M444.5 150V177M475.6 155V176M407.8 163V189M437.3 162V186M410 171V195M503.7 151V173M451.2 164V185M511 169V190M334.5 107V129M436 164V185M438.1 170V195M420.4 163V190M390.1 162V183M311 100V125M329 104V130M470.4 166V193M480.7 157V178M498.4 165V191M507.8 165V190M335.3 101V124M481.9 164V191M513.2 156V184M415.8 161V185M466.9 178V203M316.3 102V125M443.2 161V184M348 115V139M465.7 164V189M363.4 138V163M455.5 167V191M425.1 177V198M327.5 99V121M325.6 91V117M455.8 159V180M516.8 171V191M456.3 156V176M351.5 131V156M349.8 136V157M349.9 121V143M475.8 153V179M332.7 104V130M415.5 168V196M522.5 160V186M475.7 163V190M355.7 138V163M427 158V181M348.8 127V154M320.8 101V124M342.3 120V140M341.2 115V136M500.4 155V182M334.5 108V134M328.2 92V114M424.5 187V208M462.1 170V194M429.7 169V194M361.8 151V172M397.1 164V192M451.3 170V191M373.6 148V171M340.1 116V140M310.8 105V134M355.5 140V163M490.3 155V177M352.8 124V152M423.8 183V204M474.9 159V183M472.9 179V202M448.2 162V185M367.4 155V175M449 154V174M505.8 161V183M334.3 102V123M452.2 162V183M350 121V147M336.1 106V131M356.5 143V167M458.6 163V187M503.5 154V182M315.6 101V130M447.7 179V201M314.8 105V129M307.8 109V134M410.2 161V187M340.4 102V124M310.7 105V126M379.8 156V180M412.3 168V194M345.4 120V148M499.7 154V177M382.5 163V191M480 150V178M425.6 170V191M419.9 160V183M392.8 173V196M318 112V135M387 161V188M482.6 162V187M381.5 158V183M404.4 163V185M471.3 160V187M514.9 156V180M488 150V174M405.2 181V206M498.4 152V178M380.9 157V184M456.3 147V172M378.6 152V173M320.2 101V127M431.9 156V177M509.6 170V193M373.3 162V185M506.1 164V188M329.8 101V126M513.7 159V184M416.9 169V195M340.7 105V127M507.3 152V174M313.9 100V122M456.7 159V184M365.1 158V179M316.6 97V123M510.9 156V180M523.2 166V190M417.3 157V180M514 169V190M424.2 162V185M417.3 162V188M352.3 119V147M468.7 162V190M460.7 157V177M520 150V178M412.9 175V197M469.2 173V199M471 158V183M429.8 142V170M491.5 157V177M400.7 169V192M410 165V192M403.1 172V193M472.2 166V186M386.9 168V195M320.9 91V115M511.9 162V185M443.8 169V195M486 166V188M362.5 142V168M375.5 159V183M394.4 160V181M333.9 97V118M448.9 165V192M332.9 103V126M432.1 140V162M517.1 154V182M347.8 113V136M385.3 152V168M367.9 129V157M500.5 146V162M476.6 128V153M456.9 160V187M440.7 160V176M442.2 156V182M376.9 154V184M413.2 158V180M310.3 75V103M405.4 164V188M436.5 147V171M468.2 152V174M318.3 90V113M384.6 139V163M465.6 140V170M312.5 87V115M318.6 72V88M456.4 164V181M423.8 146V171M522.9 158V185M320.2 84V103M447.6 163V186M496.3 153V171M501.9 148V168M312.4 99V127M462.7 148V171M346.4 124V141M453.3 156V184M479 158V184M374.6 148V173M388.7 150V175M368 106V128M332.7 90V106M363.6 134V164M366 135V157M345.2 114V135M348.5 95V115M506.9 154V181M444.9 145V174M328.9 92V122M491.5 147V167M402.7 161V181M490.2 158V182M319.6 99V118M334.3 92V111M368.3 148V169M520.3 138V159M448.7 148V163M393.4 154V182M446.8 144V174M451.7 151V168M444 162V187M487.2 149V169M399.3 153V176M340.2 92V120M447.4 165V182M388.9 153V182M392.8 141V170M368.9 146V165M514 153V174M427.9 160V186M368.9 142V158M521.1 159V181M386.9 114V140M351.4 116V138M391.8 160V176M408.3 162V184M359.2 138V157M319 98V120M418.7 149V177M475.8 152V168M435.9 141V165M308.1 93V119M356.7 136V162M362.9 135V151M415 144V199M414.9 14V49M412.8 96V123M415.1 94V141M474.7 153V217M474.6 40V98M438.3 148V211M438.3 138V194M439 131V184M439.8 141V165M439.8 111V140M422.2 91V159M421.5 130V159M421.1 84V134M421.7 86V152M351.4 78V138M353.4 105V177M353.4 77V128M351.7 48V88M351.2 122V151M516.7 117V149M517.8 117V189M516.8 2V57M516.5 232V265M516.5 77V145M379.8 132V190M381 128V174M378.7 198V236M378.2 129V172M380.1 28V87M379.6 149V193M433.8 78V145M435.8 168V239M433.7 33V79M434.9 144V180M344.7 14V80M344.7 36V89M489.5 162V202M505.8 81V139M506.6 54V82M507.2 192V251M505.8 102V159M365.5 69V134M367.8 90V134M351.3 117V165M352.1 162V208M455.2 132V165M455 75V110M454.6 61V115M454.7 198V246M410 129V169M410.1 153V201M315.3 88V121M323.1 -5V52M324 -3V23M327 87V124M334.9 14V75M332.9 21V76M478.3 150V171M485.7 101V130M430.1 114V131M429.2 136V151M471.4 120V146M482.2 109V128M448.7 140V164M490.7 119V145M400.4 119V141M473.3 129V145M496.3 119V144M424.5 140V163M454.5 99V117M389.5 147V163M415.3 145V165M448 135V153M496.9 112V141M418.3 124V149M517.4 145V163M464.9 115V145M403.6 93V122M391.4 95V121M438.3 113V133M501.9 128V145M439.1 161V188M428.5 135V162M397.4 147V166M508.1 124V146M437.6 159V181M438.7 142V168M421 134V151M417.2 124V147M415 130V152M496.1 151V179M498.4 128V153M415.3 124V143M474.5 108V138M517.4 98V125M479.6 128V150M490.2 123V149M500.9 123V140M410.8 135V159M365.5 143V165M498.2 119V134M349.9 116V140" stroke="#ff0000" stroke-width="1.1" marker-start="url(#kr)" marker-mid="url(#kr)" marker-end="url(#kr)"/><path d="M290.2 154h0M293.2 140h0M294.7 143h0M295.3 147h0M296.4 147h0M296.5 144h0M297 147h0M298.4 136h0M298.5 137h0M300.2 147h0M302.7 130h0M312.6 111h0M318.4 109h0M329.1 108h0M470.9 167h0M378.2 157h0M387.1 181h0M396.5 178h0M504.1 160h0M345.5 138h0M504.5 184h0M315.3 108h0M373.4 173h0M496.4 178h0M458.7 181h0M388.1 164h0M419.8 180h0M512.6 178h0M319.3 115h0M458.5 176h0M418.9 177h0M496.3 172h0M406.6 188h0M396.2 174h0M325.2 110h0M419.8 174h0M345.7 132h0M512.1 182h0M473.2 171h0M320.9 104h0M456.6 178h0M440 169h0M353.4 145h0M480.4 175h0M380.3 171h0M381.3 154h0M358.5 149h0M465.6 185h0M466.9 172h0M493.5 172h0M416.9 166h0M423.8 179h0M342.4 122h0M434.4 181h0M520.6 178h0M484.5 180h0M502.1 186h0M365.3 163h0M491.3 180h0M377.2 179h0M518.8 176h0M445.6 178h0M351.6 145h0M383.1 186h0M463.6 172h0M423.8 182h0M357.7 158h0M427.3 175h0M502.8 166h0M499.1 171h0M381.9 174h0M327.9 109h0M358.5 152h0M451.9 164h0M355.3 140h0M312.4 109h0M358.2 162h0M368.7 163h0M518.4 173h0M321 106h0M445.2 172h0M330.7 115h0M395.3 179h0M466.8 179h0M423.7 169h0M521 166h0M350.9 151h0M329.1 112h0M492.8 161h0M328.8 112h0M427.9 176h0M421.5 166h0M414.4 173h0M319.5 112h0M363.5 166h0M316.9 123h0M309.6 117h0M514.2 169h0M441.8 183h0M324.5 117h0M373.1 170h0M442.4 156h0M338.6 114h0M311.7 117h0M414.4 168h0M419.6 186h0M517 169h0M443 171h0M511.6 172h0M406.2 182h0M521.9 170h0M420 179h0M312.8 107h0M311.2 119h0M433.7 174h0M468.7 172h0M503.6 170h0M457.4 179h0M330 103h0M523.6 173h0M368.9 173h0M360.1 155h0M522.2 163h0M396.1 165h0M334 102h0M473.5 160h0M497 171h0M408.6 193h0M320.4 110h0M410.4 186h0M425.1 185h0M370.6 168h0M453.9 174h0M373 174h0M506.4 172h0M346.4 137h0M388.3 181h0M508.5 164h0M507.6 177h0M502 180h0M337.1 124h0M438.9 175h0M508.8 178h0M459.1 169h0M375.9 176h0M322 104h0M353.4 136h0M413.3 182h0M322.6 102h0M448.7 194h0M506.1 166h0M488.5 171h0M465.9 177h0M390.8 166h0M439.6 167h0M482.8 155h0M444.3 178h0M455.1 173h0M315.9 110h0M489.8 180h0M472.4 172h0M335.2 111h0M522.6 163h0M515.7 160h0M459.2 182h0M436.2 177h0M459.1 174h0M395.7 165h0M318.3 110h0M313.5 116h0M382.1 173h0M424.8 175h0M448.4 178h0M429.3 172h0M377.9 186h0M448 172h0M421.6 176h0M506.1 168h0M477.1 157h0M394.9 179h0M482.4 169h0M448.1 169h0M324.6 103h0M332.8 118h0M372.2 172h0M321.2 114h0M339.2 124h0M356.8 145h0M477.3 172h0M443.7 174h0M346.1 134h0M310.2 119h0M516.2 173h0M321 113h0M512.5 175h0M323.9 105h0M480.3 175h0M343.8 137h0M434 176h0M317.9 117h0M398 168h0M485.9 174h0M433.5 159h0M340.3 122h0M466.9 182h0M316.4 117h0M406.9 159h0M493 162h0M410.3 168h0M309 113h0M498.8 171h0M324.3 116h0M389.1 174h0M328.9 112h0M320.9 107h0M494.5 185h0M386 174h0M509.7 182h0M345.3 139h0M397.1 172h0M463.8 159h0M509.3 187h0M387.1 177h0M413.9 173h0M458.5 179h0M381.4 181h0M465 169h0M321 104h0M422.9 156h0M392.3 169h0M501.3 170h0M523.6 162h0M512.3 181h0M336.6 111h0M355.7 144h0M483 162h0M404.3 172h0M336.2 113h0M439.5 172h0M505.4 162h0M426.7 170h0M400.4 189h0M396.6 169h0M406.1 181h0M387.2 185h0M377.7 162h0M435.7 188h0M395.4 189h0M315 109h0M474.3 167h0M500.2 179h0M438.7 180h0M468.2 172h0M366.4 168h0M356 140h0M376.1 175h0M375.8 169h0M376.6 168h0M490.8 172h0M337.1 115h0M388.9 177h0M483.9 165h0M361.8 158h0M346.7 139h0M427 171h0M410.7 180h0M400.3 180h0M474.1 164h0M453.2 184h0M458.8 188h0M451.8 184h0M506 183h0M423.1 184h0M335.3 108h0M445.7 176h0M366.1 169h0M515.5 181h0M471.8 176h0M483.9 171h0M507.8 162h0M474 166h0M505.5 169h0M344.1 126h0M419.2 174h0M469.2 186h0M331.4 109h0M339.3 120h0M416.3 178h0M434.9 197h0M501.3 175h0M424 185h0M410.5 190h0M511.6 176h0M378.2 169h0M489.8 173h0M444.7 170h0M314.6 114h0M379 182h0M444.2 176h0M381.8 162h0M434.6 178h0M316.6 115h0M503.4 184h0M474.3 178h0M318.2 115h0M310.4 128h0M462.3 160h0M454.3 179h0M339.3 126h0M419 174h0M311.2 111h0M376.1 171h0M344.3 122h0M458.5 165h0M437.6 173h0M308.3 129h0M488.4 165h0M433.4 179h0M366.2 166h0M354.8 141h0M480 171h0M401.6 180h0M439 157h0M413.3 186h0M478.5 176h0M453.5 168h0M512.2 163h0M415.3 171h0M504.3 186h0M353.1 152h0M489.7 177h0M478 172h0M484.3 172h0M443.9 166h0M325.6 112h0M412.8 186h0M351.5 148h0M474.7 174h0M447 173h0M493.2 159h0M419.5 173h0M387.1 174h0M397.7 171h0M328.8 100h0M446.7 172h0M370.4 172h0M442.6 168h0M379.9 174h0M410.5 180h0M361.2 160h0M327.1 106h0M513.2 171h0M348.5 135h0M409.6 170h0M465.3 167h0M459.1 172h0M437.7 188h0M350.1 150h0M343.9 125h0M465 176h0M396.8 179h0M404.1 185h0M457.1 177h0M451.5 187h0M474.6 173h0M338.9 128h0M407.5 187h0M345.8 146h0M368.6 164h0M414.9 178h0M420.5 177h0M491.4 166h0M327.2 110h0M336.3 127h0M365 148h0M519.1 162h0M402.9 159h0M481.4 170h0M473.5 162h0M437.4 182h0M323.4 100h0M344.2 141h0M481.6 171h0M400.1 168h0M404.6 169h0M409.1 182h0M509.9 175h0M387.6 176h0M414.6 177h0M368.2 175h0M523.4 169h0M474.5 160h0M314.9 113h0M503.1 170h0M325.1 116h0M391 175h0M470.7 184h0M430.6 178h0M407.7 168h0M448.4 183h0M351.4 142h0M382.3 176h0M313.9 118h0M505 163h0M384.7 157h0M353 137h0M477.8 175h0M317.6 110h0M499.1 167h0M361.1 161h0M517.2 175h0M441 186h0M440.6 167h0M409.4 186h0M387.4 174h0M459.1 166h0M436.3 183h0M369.2 162h0M390.6 173h0M319.5 112h0M494.8 176h0M316.7 116h0M391.9 169h0M362.6 157h0M459.1 160h0M328.8 117h0M414.1 180h0M439.6 175h0M389.4 165h0M399.8 189h0M414 166h0M331.6 114h0M402.7 195h0M315.7 119h0M337.1 119h0M433.7 184h0M489.4 154h0M378.3 165h0M316.7 111h0M407.6 174h0M424.1 179h0M358.6 161h0M496.4 167h0M428.6 181h0M319 113h0M392.5 185h0M331.6 109h0M458.2 167h0M458.7 176h0M511.7 171h0M403.7 181h0M455.4 182h0M452.9 195h0M473.1 167h0M475.1 179h0M371.5 184h0M341.8 132h0M320.3 108h0M492.5 167h0M489.8 165h0M320.3 105h0M361.5 165h0M330.3 107h0M376.5 160h0M357.9 147h0M338 118h0M410.2 164h0M470.9 168h0M389.1 165h0M336.5 120h0M504.1 167h0M476.6 179h0M475.9 167h0M489.6 178h0M493.8 163h0M412.5 174h0M467.4 175h0M459.5 172h0M392.6 172h0M523.2 183h0M312.9 117h0M447.2 185h0M469 164h0M369.7 160h0M392.4 182h0M325.5 117h0M379.3 172h0M487.7 168h0M507.6 160h0M422.9 168h0M407.5 180h0M410.4 180h0M407.6 173h0M453.5 170h0M463.9 175h0M331 103h0M476.6 186h0M524 158h0M445.4 172h0M497.9 177h0M357.2 156h0M396.4 184h0M405.7 186h0M414.3 185h0M516.2 167h0M513.2 176h0M491.8 164h0M457.1 167h0M338.8 123h0M501.5 171h0M509.1 164h0M348.2 141h0M424.3 170h0M348.2 140h0M448.3 192h0M421.2 181h0M463.3 176h0M430 182h0M385.7 175h0M367.9 154h0M361.1 153h0M434 174h0M311.6 108h0M482.8 174h0M321.3 110h0M413.9 164h0M407.6 173h0M334 116h0M349.6 144h0M365.6 168h0M311.7 113h0M330 103h0M438.1 177h0M410.4 179h0M479.6 181h0M426.8 175h0M451.8 167h0M371.8 167h0M520.9 173h0M337.5 123h0M335.4 117h0M341.5 125h0M348.8 132h0M315.7 101h0M465.4 173h0M420.1 177h0M373.2 158h0M370.2 171h0M501.7 171h0M443.9 182h0M478.5 178h0M495.9 172h0M355.8 156h0M444.7 175h0M458.2 157h0M318.7 107h0M380.4 169h0M498.4 166h0M469.6 168h0M352.2 144h0M522 168h0M401.5 175h0M518.7 162h0M384.8 180h0M427.3 187h0M393.5 178h0M440 183h0M329.9 111h0M323.6 112h0M499.5 177h0M511.9 164h0M402.5 164h0M479.1 180h0M326.6 108h0M340.1 124h0M352.6 151h0M382.1 174h0M407.9 179h0M488.2 175h0M469.1 183h0M402.8 170h0M402.7 178h0M374.6 179h0M369.9 163h0M511.2 173h0M351.1 136h0M387.3 186h0M441.2 185h0M357.8 150h0M335.6 109h0M448.3 170h0M413 181h0M402.6 161h0M416.6 180h0M492.7 180h0M472.7 175h0M353.7 146h0M385.9 169h0M428.6 182h0M484.8 171h0M382.4 166h0M467.9 172h0M328.2 106h0M425.2 161h0M325.9 112h0M402.4 169h0M379.2 154h0M489.5 168h0M387.8 169h0M312.2 110h0M500 168h0M454.4 170h0M384.3 161h0M457.7 173h0M396 160h0M370.3 175h0M311.3 108h0M410.6 176h0M432.3 169h0M387.4 168h0M498.4 171h0M348.3 139h0M468.4 171h0M483.3 165h0M442.9 185h0M360.2 156h0M401.2 163h0M386.4 170h0M487.8 159h0M347.9 140h0M313.5 118h0M503 164h0M481.2 180h0M348 137h0M381 184h0M374.3 160h0M442.4 170h0M491.3 175h0M357.5 149h0M481.9 169h0M313.6 108h0M457.6 180h0M329.6 106h0M442.2 174h0M506.6 170h0M487.1 164h0M486.6 177h0M374 181h0M376.9 187h0M417.8 185h0M411.1 183h0M378.4 175h0M516.4 160h0M479.9 170h0M512 166h0M520.7 167h0M500.6 186h0M463.7 173h0M519 165h0M423.6 177h0M384.1 167h0M311.7 110h0M464.7 178h0M399.1 162h0M347.8 137h0M311.6 116h0M476 165h0M369.2 149h0M409.2 179h0M424.6 193h0M332.8 109h0M402.3 186h0M439.7 167h0M511.7 171h0M428.9 184h0M389.4 170h0M415.4 186h0M443.6 174h0M493.2 163h0M375.8 175h0M334.5 120h0M503.1 186h0M428.3 171h0M499.6 176h0M307.7 124h0M383.2 171h0M339.3 121h0M345.7 126h0M339.3 128h0M388.8 166h0M454 181h0M405.6 175h0M443.5 183h0M436.6 174h0M408.4 187h0M315.3 117h0M474.9 175h0M498.4 168h0M408.4 180h0M482.9 177h0M365 162h0M379.5 170h0M458.1 185h0M510.9 174h0M345.5 133h0M451.2 184h0M338.6 119h0M345.6 133h0M503.8 185h0M459.9 185h0M484.1 173h0M464.3 167h0M415.1 182h0M387.7 180h0M327.4 108h0M426.6 173h0M308 114h0M404.5 178h0M431.1 161h0M360 160h0M393.2 164h0M315.8 106h0M475.9 170h0M418.6 183h0M475.2 169h0M470.7 188h0M470.2 166h0M391.6 184h0M496.6 181h0M325.6 109h0M423.9 181h0M515.9 174h0M315.3 110h0M376.2 158h0M383.7 168h0M346.9 144h0M493.9 174h0M494.3 170h0M497.5 168h0M418.1 185h0M319.2 106h0M412.6 183h0M358.9 167h0M370.2 167h0M341.8 132h0M321.1 118h0M354 148h0M314.6 111h0M509.5 175h0M503.1 165h0M384.5 172h0M465.5 179h0M350 151h0M382.5 170h0M338 121h0M469.7 164h0M371.4 169h0M387.7 168h0M354.3 158h0M503.2 174h0M521.8 165h0M396.8 186h0M418.8 178h0M435.7 183h0M423.1 173h0M505.7 170h0M355.4 149h0M387.1 179h0M477.3 169h0M408.4 192h0M365 168h0M468.6 160h0M392.5 178h0M520.6 180h0M337 123h0M359 149h0M518.5 186h0M455 182h0M420.6 178h0M520.3 188h0M389.3 189h0M371.3 172h0M425.8 178h0M467.9 176h0M370.4 162h0M322.3 104h0M482.3 171h0M451.1 167h0M493 177h0M349.3 140h0M314.2 110h0M414.4 174h0M338.3 122h0M467.3 177h0M318.1 107h0M412.1 168h0M470.8 169h0M435.1 178h0M461.5 179h0M436.6 182h0M370.9 182h0M424.1 176h0M440.6 180h0M511.3 165h0M445.7 181h0M365.8 153h0M371.7 176h0M435.6 167h0M424.4 179h0M513.1 169h0M362.8 160h0M429.8 162h0M502 173h0M401.1 172h0M384 176h0M459.6 167h0M445.7 174h0M312.4 116h0M345.3 128h0M432.4 191h0M347.9 144h0M395 192h0M378.9 189h0M391.5 173h0M502.9 168h0M426.1 179h0M342.9 139h0M400.9 187h0M374.9 168h0M516.2 175h0M370.6 177h0M479.6 178h0M446.6 171h0M488.8 174h0M386.8 172h0M513 182h0M473.2 183h0M379.8 181h0M389.6 180h0M457.3 167h0M508 170h0M508.4 168h0M335.5 130h0M341 115h0M516.6 184h0M345.1 128h0M470.1 171h0M464.4 179h0M479.2 172h0M329.8 114h0M326.6 107h0M413.4 174h0M458.9 182h0M469.3 178h0M481.9 169h0M414 168h0M331.6 103h0M501.5 166h0M373.3 180h0M508.7 173h0M454.3 183h0M407.3 179h0M457.6 177h0M489.7 175h0M486.3 167h0M379.6 167h0M369.1 171h0M453.6 167h0M383.6 179h0M477.1 170h0M485.8 183h0M405.6 174h0M515.9 165h0M430.8 176h0M309 113h0M362.9 163h0M375.5 176h0M314.1 107h0M513 168h0M462.1 183h0M457.2 178h0M480.5 170h0M420 188h0M465.9 179h0M448 187h0M318.7 103h0M432.6 187h0M363.5 164h0M313.5 107h0M433.8 171h0M437.6 177h0M382.3 158h0M331.8 114h0M490.7 179h0M308.6 113h0M505.5 161h0M517.7 173h0M406.5 171h0M331.6 113h0M488.6 164h0M361.7 165h0M440.2 180h0M389.9 175h0M496.6 174h0M319.7 107h0M316.9 111h0M453.8 184h0M379 168h0M463.7 178h0M367.8 152h0M422.6 181h0M361.4 153h0M389.8 165h0M350 143h0M433.9 172h0M488.8 172h0M350.3 137h0M523.2 165h0M489.8 187h0M473.4 170h0M517.8 172h0M347.6 137h0M468.3 174h0M474.5 174h0M310.5 108h0M446.5 171h0M412.7 179h0M413.8 179h0M385.3 187h0M435.5 191h0M360.7 163h0M395.4 181h0M336.8 121h0M422.3 172h0M388.9 176h0M400.7 175h0M522.6 164h0M436.3 176h0M496.6 168h0M386.3 163h0M505.7 171h0M385.6 182h0M387.6 170h0M314.1 109h0M427.5 186h0M409.8 181h0M335.7 116h0M387.3 171h0M458.3 195h0M492.3 178h0M484.4 183h0M487.2 183h0M438.9 179h0M515 170h0M521.6 165h0M419.5 169h0M488.4 169h0M382.7 167h0M398.4 187h0M377.9 174h0M397.5 170h0M488 169h0M430.5 166h0M457.4 180h0M495.7 175h0M319.7 95h0M362.2 154h0M451.6 176h0M328 112h0M401.6 187h0M431.4 177h0M380.9 170h0M399.6 187h0M500.3 165h0M408.3 163h0M317.2 101h0M485.4 184h0M446.6 175h0M374.4 167h0M316.9 110h0M412.8 182h0M510 178h0M379.4 185h0M479.9 163h0M515.4 174h0M391.5 173h0M330.4 106h0M339.1 122h0M368.6 169h0M391.6 181h0M485.9 184h0M508.6 170h0M417.7 175h0M461.4 185h0M422.4 181h0M504.4 159h0M309 119h0M380.8 172h0M380.8 173h0M521.5 169h0M375 180h0M463.2 179h0M434.8 171h0M341.4 134h0M362.9 171h0M463.3 171h0M355.7 146h0M343.5 120h0M521.3 164h0M512.4 179h0M377.6 173h0M352.8 142h0M429 172h0M380.1 173h0M509.9 178h0M400.9 171h0M328.8 113h0M485.3 174h0M461.5 180h0M393.9 174h0M387.7 191h0M446.7 167h0M317.9 115h0M477.4 164h0M513.6 175h0M521.6 179h0M441.8 182h0M341.9 128h0M330.6 126h0M444.8 174h0M440.8 175h0M434.1 178h0M371.4 167h0M503 180h0M351.6 156h0M440.1 189h0M337.9 119h0M459.4 180h0M419.4 177h0M463 172h0M419.5 176h0M471.8 191h0M478.5 173h0M404.5 178h0M495.6 168h0M341.5 129h0M524.2 184h0M469.4 167h0M493.1 183h0M474.8 172h0M392.9 172h0M485.2 158h0M363.6 170h0M458.5 179h0M364 166h0M335.8 105h0M458.8 176h0M511.8 157h0M314.3 106h0M417.3 186h0M479.5 180h0M413.9 164h0M445.7 184h0M522.5 171h0M470.4 182h0M429.7 183h0M421 171h0M315.1 121h0M448.8 178h0M314.6 109h0M469.8 179h0M443.4 188h0M365.6 170h0M445.2 179h0M376.6 182h0M341.6 124h0M505.7 164h0M477.3 167h0M428 168h0M499.1 171h0M318.3 111h0M380.7 182h0M453.8 175h0M443.9 183h0M504.6 180h0M510.1 184h0M332.9 111h0M333.5 111h0M328.5 108h0M463.9 166h0M341.1 121h0M346.3 129h0M338.5 112h0M381.8 180h0M519.5 161h0M466.6 165h0M346.5 135h0M485.5 181h0M333.4 120h0M519.4 168h0M463.5 175h0M483.4 173h0M349.9 141h0M431.1 171h0M341.8 133h0M344.4 126h0M498.1 183h0M362.9 154h0M382.7 166h0M500.4 167h0M480 176h0M389.5 168h0M481.3 191h0M448.9 168h0M524.2 180h0M513.3 170h0M463.8 180h0M309 118h0M318.2 115h0M352 136h0M461.7 177h0M342.6 129h0M365.2 157h0M492 171h0M425.5 180h0M414.2 188h0M509.4 181h0M488.8 164h0M351.4 141h0M395.9 187h0M486.6 169h0M504.5 178h0M376.3 175h0M349.4 157h0M368.3 190h0M463.5 182h0M369.4 170h0M363.2 170h0M497.5 167h0M333.1 114h0M492.3 193h0M366 164h0M326.2 111h0M366.1 169h0M366.2 160h0M444.5 163h0M475.6 165h0M407.8 176h0M437.3 174h0M410 183h0M503.7 162h0M451.2 174h0M511 180h0M334.5 118h0M436 174h0M438.1 182h0M420.4 177h0M390.1 173h0M311 112h0M329 117h0M470.4 179h0M480.7 167h0M498.4 178h0M507.8 178h0M335.3 112h0M481.9 177h0M513.2 170h0M415.8 173h0M466.9 190h0M316.3 114h0M443.2 172h0M348 127h0M465.7 176h0M363.4 150h0M455.5 179h0M425.1 188h0M327.5 110h0M325.6 104h0M455.8 169h0M516.8 181h0M456.3 166h0M351.5 143h0M349.8 146h0M349.9 132h0M475.8 166h0M332.7 117h0M415.5 182h0M522.5 173h0M475.7 176h0M355.7 151h0M427 169h0M348.8 140h0M320.8 112h0M342.3 130h0M341.2 125h0M500.4 169h0M334.5 121h0M328.2 103h0M424.5 198h0M462.1 182h0M429.7 181h0M361.8 162h0M397.1 178h0M451.3 181h0M373.6 160h0M340.1 128h0M310.8 119h0M355.5 151h0M490.3 166h0M352.8 138h0M423.8 193h0M474.9 171h0M472.9 191h0M448.2 173h0M367.4 165h0M449 164h0M505.8 172h0M334.3 112h0M452.2 173h0M350 134h0M336.1 119h0M356.5 155h0M458.6 175h0M503.5 168h0M315.6 116h0M447.7 190h0M314.8 117h0M307.8 121h0M410.2 174h0M340.4 113h0M310.7 116h0M379.8 168h0M412.3 181h0M345.4 134h0M499.7 165h0M382.5 177h0M480 164h0M425.6 180h0M419.9 171h0M392.8 185h0M318 124h0M387 174h0M482.6 175h0M381.5 170h0M404.4 174h0M471.3 173h0M514.9 168h0M488 162h0M405.2 194h0M498.4 165h0M380.9 171h0M456.3 160h0M378.6 162h0M320.2 114h0M431.9 167h0M509.6 182h0M373.3 174h0M506.1 176h0M329.8 113h0M513.7 172h0M416.9 182h0M340.7 116h0M507.3 163h0M313.9 111h0M456.7 172h0M365.1 169h0M316.6 110h0M510.9 168h0M523.2 178h0M417.3 168h0M514 180h0M424.2 174h0M417.3 175h0M352.3 133h0M468.7 176h0M460.7 167h0M520 164h0M412.9 186h0M469.2 186h0M471 171h0M429.8 156h0M491.5 167h0M400.7 181h0M410 179h0M403.1 183h0M472.2 176h0M386.9 182h0M320.9 103h0M511.9 174h0M443.8 182h0M486 177h0M362.5 155h0M375.5 171h0M394.4 171h0M333.9 108h0M448.9 179h0M332.9 115h0M432.1 151h0M517.1 168h0M347.8 124h0M385.3 160h0M367.9 143h0M500.5 154h0M476.6 141h0M456.9 173h0M440.7 168h0M442.2 169h0M376.9 169h0M413.2 169h0M310.3 89h0M405.4 176h0M436.5 159h0M468.2 163h0M318.3 101h0M384.6 151h0M465.6 155h0M312.5 101h0M318.6 80h0M456.4 172h0M423.8 159h0M522.9 172h0M320.2 94h0M447.6 174h0M496.3 162h0M501.9 158h0M312.4 113h0M462.7 160h0M346.4 133h0M453.3 170h0M479 171h0M374.6 160h0M388.7 162h0M368 117h0M332.7 98h0M363.6 149h0M366 146h0M345.2 124h0M348.5 105h0M506.9 168h0M444.9 160h0M328.9 107h0M491.5 157h0M402.7 171h0M490.2 170h0M319.6 108h0M334.3 101h0M368.3 158h0M520.3 148h0M448.7 155h0M393.4 168h0M446.8 159h0M451.7 160h0M444 174h0M487.2 159h0M399.3 165h0M340.2 106h0M447.4 173h0M388.9 168h0M392.8 156h0M368.9 155h0M514 163h0M427.9 173h0M368.9 150h0M521.1 170h0M386.9 127h0M351.4 127h0M391.8 168h0M408.3 173h0M359.2 147h0M319 109h0M418.7 163h0M475.8 160h0M435.9 153h0M308.1 106h0M356.7 149h0M362.9 143h0M415 171h0M414.9 32h0M412.8 109h0M415.1 117h0M474.7 185h0M474.6 69h0M438.3 179h0M438.3 166h0M439 158h0M439.8 153h0M439.8 126h0M422.2 125h0M421.5 144h0M421.1 109h0M421.7 119h0M351.4 108h0M353.4 141h0M353.4 102h0M351.7 68h0M351.2 137h0M516.7 133h0M517.8 153h0M516.8 30h0M516.5 249h0M516.5 111h0M379.8 161h0M381 151h0M378.7 217h0M378.2 150h0M380.1 58h0M379.6 171h0M433.8 112h0M435.8 204h0M433.7 56h0M434.9 162h0M344.7 47h0M344.7 63h0M489.5 182h0M505.8 110h0M506.6 68h0M507.2 221h0M505.8 130h0M365.5 102h0M367.8 112h0M351.3 141h0M352.1 185h0M455.2 149h0M455 93h0M454.6 88h0M454.7 222h0M410 149h0M410.1 177h0M315.3 105h0M323.1 23h0M327 105h0M334.9 45h0M332.9 48h0M478.3 161h0M485.7 116h0M430.1 123h0M429.2 144h0M471.4 133h0M482.2 118h0M448.7 152h0M490.7 132h0M400.4 130h0M473.3 137h0M496.3 132h0M424.5 151h0M454.5 108h0M389.5 155h0M415.3 155h0M448 144h0M496.9 126h0M418.3 136h0M517.4 154h0M464.9 130h0M403.6 108h0M391.4 108h0M438.3 123h0M501.9 136h0M439.1 174h0M428.5 148h0M397.4 157h0M508.1 135h0M437.6 170h0M438.7 155h0M421 143h0M417.2 135h0M415 141h0M496.1 165h0M498.4 140h0M415.3 134h0M474.5 123h0M517.4 112h0M479.6 139h0M490.2 136h0M500.9 131h0M410.8 147h0M365.5 154h0M498.2 126h0M349.9 128h0" stroke="#ff0000" stroke-width="4.2" stroke-linecap="round"/><path d="M381.3 139V162M468.7 53V77M494.8 103V123M441.7 96V125M333.2 74V103M373.4 117V146" stroke="#00ff00" stroke-width="1.1" marker-start="url(#kg)" marker-mid="url(#kg)" marker-end="url(#kg)"/><path d="M381.3 150h0M468.7 65h0M494.8 113h0M441.7 110h0M333.2 88h0M373.4 131h0" stroke="#00ff00" stroke-width="4.2" stroke-linecap="round"/><path d="M321.5 66V98M317.3 79V104M343.5 63V104M312.8 62V89M334.3 78V98M342.4 26V66M493.5 125V142M425 130V151M360.3 117V150M385.4 157V193M493.6 96V132M370.3 124V141M456.3 131V165M466.1 159V182M366.3 108V144M378.7 14V32M370.3 118V152M449.3 266V295" stroke="#0000ff" stroke-width="1.1" marker-start="url(#kb)" marker-mid="url(#kb)" marker-end="url(#kb)"/><path d="M321.5 82h0M317.3 91h0M343.5 84h0M312.8 76h0M334.3 88h0M342.4 46h0M493.5 134h0M425 140h0M360.3 133h0M385.4 175h0M493.6 114h0M370.3 133h0M456.3 148h0M466.1 170h0M366.3 126h0M378.7 23h0M370.3 135h0" stroke="#0000ff" stroke-width="4.2" stroke-linecap="round"/></g>
<g clip-path="url(#cB1)" fill="none"><path d="M84.1 451V468M84.9 405V430M137.6 409V436M128.5 403V434M130.7 445V469M111.9 419V439M147 414V437M144.5 359V390M152.8 370V389M107.8 384V400M87.4 392V419M83.7 375V400M140.3 405V423M95.9 382V408M91.1 427V456M133.9 386V405M144.7 437V471M87.5 439V468M82.8 359V378M143.7 422V442M126.1 405V422M143.6 375V407M103.9 340V362M106.6 347V374M155.6 409V425M104.4 360V378M118.1 320V353M91.5 381V398M114.5 399V418M123.6 403V423M86.4 289V306M119.9 396V427M140 410V426M84.6 418V447M152.6 383V408M140.9 369V400M132.2 392V408M154.2 401V422M153.4 386V412M125.3 302V320M119.4 423V441M105.6 428V451M139.7 374V397M105 439V471M134.6 396V421M154.8 388V404M119.2 388V417M150.5 428V459M90.5 420V445M130.6 434V458M94.8 391V407M101.3 437V465M122 364V385M110.9 340V364M155.8 427V446M90.6 342V371M111.6 388V421M107.5 444V463M154.2 341V364M119.8 360V393M109.7 359V388M102.7 300V329M116.2 331V363M92.7 383V402M116.1 441V473M108.1 400V420M148.4 364V391M83.2 340V372M99.9 433V455M100.2 389V409M80 376V405M123.7 398V426M80.6 339V358M112.4 437V458M128.1 428V451M113.4 309V335M114.8 365V390M147.2 373V390M132.1 307V324M109.7 406V424M126.9 366V384M154.4 400V429M82.3 359V389M108.4 383V399M83 343V369M150.6 286V316M127.3 368V393M110.6 363V387M122.8 452V482M84.5 333V356M114.7 325V350M110.5 461V491M151.5 432V452M139.4 422V441M144.4 381V409M137.8 385V407M142.7 359V378M140.6 363V392M132.7 300V328M147.4 340V363M145.8 370V397M132.5 407V427M104.2 348V375M119 364V395M144.1 319V336M88.4 367V399M92.5 357V384M141 424V454M151.9 371V396M87.7 444V477M130 376V392M150.5 378V408M123.3 353V375M86.7 383V399M88.6 282V313M120.9 425V441M146.5 405V425M110.7 365V385M132.1 391V417M90 391V408M96.4 406V426M110.7 477V502M81 410V441M96.9 407V433M123.2 364V383M91.7 297V314M90.3 409V428M106.5 461V488M113.7 448V472M92.4 368V384M154.3 489V513M107.1 331V353M111 453V482M98.4 343V376M101 472V493M95.3 429V462M134.1 407V429M153.4 369V394M112.4 435V454M97.6 418V444M98.3 445V469M152.6 461V482M140.8 362V391M128 429V451M146.4 348V379M87.7 407V426M111.1 346V369M98.1 430V455M152.5 429V455M140.7 460V494M153.3 388V405M91.6 320V340M90 382V402M154.3 385V400M83.5 356V377M136.5 341V367M112.1 376V397M129.7 407V440M82.5 341V358M119.7 337V359M99.2 403V422M150 353V371M95.9 371V393M107.7 387V418M97 342V361M80.1 399V431M104.6 364V393M102.6 381V399M142 380V410M96.4 374V393M88.3 461V478M151.2 417V443M113.2 363V393M111.2 413V445M103.2 372V395M82.4 397V417M153.6 463V502M159.8 452V493M160 504V557M160.2 476V515M115.3 467V489M114.5 500V540M115 441V481M157.1 447V472M157.9 511V557M157.1 465V509M156.9 508V551M157.2 348V393M156.9 397V445M103.4 545V567M103 441V461M91.8 496V549" stroke="#00ff00" stroke-width="1.1" marker-start="url(#kg)" marker-mid="url(#kg)" marker-end="url(#kg)"/><path d="M84.1 460h0M84.9 418h0M137.6 422h0M128.5 418h0M130.7 457h0M111.9 429h0M147 426h0M144.5 374h0M152.8 380h0M107.8 392h0M87.4 406h0M83.7 387h0M140.3 414h0M95.9 395h0M91.1 441h0M133.9 395h0M144.7 454h0M87.5 453h0M82.8 368h0M143.7 432h0M126.1 413h0M143.6 391h0M103.9 351h0M106.6 361h0M155.6 417h0M104.4 369h0M118.1 336h0M91.5 389h0M114.5 408h0M123.6 413h0M119.9 411h0M140 418h0M84.6 432h0M152.6 396h0M140.9 385h0M132.2 400h0M154.2 412h0M153.4 399h0M125.3 311h0M119.4 432h0M105.6 439h0M139.7 385h0M105 455h0M134.6 409h0M154.8 396h0M119.2 403h0M150.5 444h0M90.5 432h0M130.6 446h0M94.8 399h0M101.3 451h0M122 375h0M110.9 352h0M155.8 437h0M90.6 357h0M111.6 404h0M107.5 454h0M154.2 352h0M119.8 376h0M109.7 374h0M102.7 315h0M116.2 347h0M92.7 392h0M116.1 457h0M108.1 410h0M148.4 377h0M83.2 356h0M99.9 444h0M100.2 399h0M80 390h0M123.7 412h0M80.6 348h0M112.4 447h0M128.1 440h0M113.4 322h0M114.8 378h0M147.2 381h0M132.1 315h0M109.7 415h0M126.9 375h0M154.4 415h0M82.3 374h0M108.4 391h0M83 356h0M127.3 381h0M110.6 375h0M122.8 467h0M84.5 344h0M114.7 337h0M110.5 476h0M151.5 442h0M139.4 432h0M144.4 395h0M137.8 396h0M142.7 368h0M140.6 378h0M132.7 314h0M147.4 351h0M145.8 383h0M132.5 417h0M104.2 362h0M119 379h0M144.1 327h0M88.4 383h0M92.5 370h0M141 439h0M151.9 384h0M87.7 461h0M130 384h0M150.5 393h0M123.3 364h0M86.7 391h0M120.9 433h0M146.5 415h0M110.7 375h0M132.1 404h0M90 400h0M96.4 416h0M110.7 490h0M81 425h0M96.9 420h0M123.2 374h0M91.7 305h0M90.3 419h0M106.5 474h0M113.7 460h0M92.4 376h0M154.3 501h0M107.1 342h0M111 467h0M98.4 359h0M101 482h0M95.3 445h0M134.1 418h0M153.4 382h0M112.4 445h0M97.6 431h0M98.3 457h0M152.6 471h0M140.8 376h0M128 440h0M146.4 364h0M87.7 416h0M111.1 357h0M98.1 442h0M152.5 442h0M140.7 477h0M153.3 396h0M91.6 330h0M90 392h0M154.3 393h0M83.5 367h0M136.5 354h0M112.1 387h0M129.7 423h0M82.5 350h0M119.7 348h0M99.2 412h0M150 362h0M95.9 382h0M107.7 402h0M97 352h0M80.1 415h0M104.6 378h0M102.6 390h0M142 395h0M96.4 383h0M88.3 470h0M151.2 430h0M113.2 378h0M111.2 429h0M103.2 383h0M82.4 407h0M153.6 482h0M159.8 472h0M160 530h0M160.2 495h0M115.3 478h0M114.5 520h0M115 461h0M157.1 460h0M157.9 534h0M157.1 487h0M156.9 529h0M157.2 370h0M156.9 421h0M103.4 556h0M103 451h0M91.8 522h0" stroke="#00ff00" stroke-width="4.2" stroke-linecap="round"/><path d="M136.4 315V331M130.1 387V410M84 396V424M153.6 386V420M130.9 432V463M110.6 342V373M147.2 375V405M159.9 437V462M152.5 419V449M145.6 355V389M154.2 359V480M137.8 338V362M123.7 433V460M121.1 382V409M137 412V432M159.2 351V380M86.8 396V416M156.5 449V479M120.9 409V426M103.3 401V420M78.5 426V452M102.5 422V445M147.8 361V472M92.8 359V390M140.5 337V450M117.8 407V475M98 429V448M148.9 479V505M96.2 429V446M135.3 386V414M124.9 397V419M151.1 375V396M79.5 456V472M147.5 437V464M97.5 421V506M106.7 351V383M141.6 411V439M144.2 386V409M97.9 413V440M143.5 463V494M89.4 435V457M148.3 379V403M120.1 400V418M124 444V469M152.5 492V541M131.1 354V381M101.1 433V459M88.5 423V456M81.9 469V489M126.6 522V552M77.9 464V492M152.9 382V437M156 399V432M115.8 403V428M152 341V359M107.6 346V366M108.6 294V310M96.2 430V446M132.4 313V338M87.4 281V369M128.2 456V477M145.5 348V372M121.2 383V404M133.7 433V465M136.7 313V335M75.3 422V454M96.5 456V484M108.9 436V506M101.5 437V453M147.9 368V389M91.1 425V497M102.2 323V345M131.3 439V469M78.6 414V445M100.1 316V394M83.9 349V375M84.8 441V464M127.7 427V445M126.2 428V459M87.1 346V370M92.4 411V431M112.6 370V397M101.8 378V404M140.6 328V453M122.2 443V462M111.6 479V503M144.7 435V458M153.6 364V393M109.7 377V405M84.3 406V435M75.5 393V413M134.2 423V443M108 376V394M126.7 396V427M159.1 379V454M144.1 380V410M136.6 363V395M152.1 414V433M135.8 432V480M101.2 391V415M128.3 365V389M86.3 393V418M142.8 367V392M115.2 530V558M138.5 393V419M138.1 421V466M113.1 396V443M113.2 506V543M113.5 420V450M113.1 283V310M112 340V370M112.8 464V517M123 420V456M123.2 392V415M122.7 459V480M122.7 429V461M77.8 522V553M77.8 330V357M143 361V409M100.8 454V507M100.9 432V480M100.9 525V562M100 421V455M101 334V383M117.8 329V380M117.4 441V485M118.1 470V493M117.8 457V490M94.3 458V486M93.5 324V376M110.1 387V429M111.4 390V430" stroke="#0000ff" stroke-width="1.1" marker-start="url(#kb)" marker-mid="url(#kb)" marker-end="url(#kb)"/><path d="M136.4 323h0M130.1 398h0M84 410h0M153.6 403h0M130.9 448h0M110.6 357h0M147.2 390h0M159.9 449h0M152.5 434h0M145.6 372h0M154.2 419h0M137.8 350h0M123.7 447h0M121.1 396h0M137 422h0M159.2 365h0M86.8 406h0M156.5 464h0M120.9 417h0M103.3 411h0M78.5 439h0M102.5 434h0M147.8 417h0M92.8 375h0M140.5 393h0M117.8 441h0M98 439h0M148.9 492h0M96.2 437h0M135.3 400h0M124.9 408h0M151.1 385h0M79.5 464h0M147.5 451h0M97.5 464h0M106.7 367h0M141.6 425h0M144.2 397h0M97.9 427h0M143.5 478h0M89.4 446h0M148.3 391h0M120.1 409h0M124 456h0M152.5 517h0M131.1 368h0M101.1 446h0M88.5 440h0M81.9 479h0M126.6 537h0M77.9 478h0M152.9 409h0M156 416h0M115.8 416h0M152 350h0M107.6 356h0M96.2 438h0M132.4 325h0M87.4 325h0M128.2 466h0M145.5 360h0M121.2 394h0M133.7 449h0M136.7 324h0M75.3 438h0M96.5 470h0M108.9 471h0M101.5 445h0M147.9 379h0M91.1 461h0M102.2 334h0M131.3 454h0M78.6 430h0M100.1 355h0M83.9 362h0M84.8 452h0M127.7 436h0M126.2 444h0M87.1 358h0M92.4 421h0M112.6 384h0M101.8 391h0M140.6 391h0M122.2 452h0M111.6 491h0M144.7 446h0M153.6 378h0M109.7 391h0M84.3 421h0M75.5 403h0M134.2 433h0M108 385h0M126.7 411h0M159.1 417h0M144.1 395h0M136.6 379h0M152.1 423h0M135.8 456h0M101.2 403h0M128.3 377h0M86.3 406h0M142.8 379h0M115.2 544h0M138.5 406h0M138.1 444h0M113.1 419h0M113.2 524h0M113.5 435h0M112 355h0M112.8 490h0M123 438h0M123.2 404h0M122.7 469h0M122.7 445h0M77.8 538h0M77.8 343h0M143 385h0M100.8 480h0M100.9 456h0M100.9 544h0M100 438h0M101 358h0M117.8 355h0M117.4 463h0M118.1 482h0M117.8 473h0M94.3 472h0M93.5 350h0M110.1 408h0M111.4 410h0" stroke="#0000ff" stroke-width="4.2" stroke-linecap="round"/><path d="M120 467V487M128.6 467V485M115.3 451V473M108.2 467V484M127.4 468V488M162.2 456V479M130.1 468V487M140.1 454V477M89.9 470V487M160.6 453V474M162.5 463V485M123 461V481M130.7 465V490M162.6 470V487M156.3 472V488M141.1 468V489M97.1 459V483M88.9 461V477M98.5 471V496M162.1 479V497M157.6 459V480M156.6 458V476M84.8 458V478M79.8 464V480M143.6 467V490M131.8 458V477M104.4 470V490M93.7 461V478M98.3 480V500M133.4 467V484M102.6 463V485M155.1 464V481M145.1 462V478M83.2 464V485M92.7 457V474M92.2 462V481M126.7 466V489M74.6 459V482M158.4 460V485M121.6 458V477M102.4 470V485M79.1 457V476M76.8 458V481M102.5 468V486M154.7 450V475M111 470V488M93.5 461V482M99 470V489M126.9 471V488M95.6 475V493M83.4 472V491M120.2 458V481M86.6 465V484M108.8 461V484M120.7 466V485M160.4 464V483M130.7 465V486M109 476V493M75.5 468V484M132.2 474V493M115.3 462V485M144.6 481V501M75.4 474V495M126.3 462V482M142.9 469V485M132.7 460V483M97.9 446V471M104.3 470V488M146.1 472V490M129.3 468V486M95.8 463V480M134 461V485M91.7 459V479M79.6 462V478M76 460V476M160.8 451V468M134.7 466V486M139.7 453V478M141.2 472V488M155.5 467V484M97 459V479M132.4 472V492M159.3 457V483M96.7 459V483M123.7 455V479M142.3 485V503M127.7 468V492M95.8 464V490M113.7 473V490M120.8 458V482M163.8 471V496M98.2 470V492M123 469V495M137.8 471V488M152.9 464V480M137.6 466V488M98.5 481V497M84.5 466V485M84.6 460V481M124.4 456V475M122.3 468V489M130.3 474V491M125.5 478V499M151.1 470V488M162.4 459V477M79.9 464V481M127.5 459V481M150.2 463V479M75.1 464V484M164.8 458V481M131.2 466V489M92.3 470V492M158.9 461V486M136.5 461V485M76.6 469V490M121.1 475V492M158.2 462V478M73.7 459V483M93.9 465V485M77 465V484M76.5 458V483M122.3 459V478M105.8 467V492M134.8 470V487M161.5 462V486M82 456V482M125.4 464V482M88.5 469V486M93.9 471V493M74.6 461V485M154.8 461V479M95.5 479V496M83.9 474V495M154.5 464V484M120.6 466V488M91.5 469V489M77.1 454V479M119.8 464V485M143.9 461V483M163.6 470V486M95.1 468V492M128 466V488M150.6 452V474M137.1 463V484M97.2 467V488M152.7 456V478M86.7 466V490M83.1 475V497M94.1 465V483M116.1 450V474M143 467V483M78.9 472V494M101.2 464V483M128.6 457V478M161.4 472V496M149 472V493M136.1 455V475M108 462V488M145.7 476V493M74.4 472V492M136.7 455V480M105.6 473V490M117 461V485M147 477V493M161.3 460V478M154.6 466V487M139 466V487M134.2 458V476M120.4 461V481M86.5 463V486M73.1 468V486M82.3 462V488M87.9 453V476M112.8 473V492M74.5 465V484M96.1 469V493M108 466V483M125.2 464V487M145.8 466V487M82.5 466V482M164.5 474V493M135.3 462V482M111.9 475V493M91.4 465V487M147.9 460V485M149.3 462V484M156.5 454V474M77.3 471V492M107.8 471V494M126.5 466V486M160.4 476V500M91.3 471V489M162.8 452V473M151.5 467V489M135.7 458V481M91 459V478M87.6 473V491M154.8 462V484M97.5 465V487M103.1 462V487M146.1 480V498M116.6 454V477M148.9 465V488M75.3 460V477M93.3 466V488M125.2 478V498M118.9 454V475M101.6 470V492M77.2 467V486M121.2 476V493M102.5 468V483M104.1 445V465M120 467V488M114.7 471V487M84.3 476V494M79.9 463V479M85.7 477V502M73 462V485M111.5 470V492M114.4 472V496M97.5 464V488M76.9 469V490M113.1 465V482M128.6 465V488M142.5 463V483M153.3 468V489M95.7 474V494M99.9 464V481M77 468V488M157.7 458V480M164.4 449V473M77.7 464V484M101.3 463V479M76.1 465V486M87.4 456V473M160.8 457V480M84.9 471V490M91.9 469V491M132.7 469V494M133.2 470V491M80.1 474V493M87.6 467V491M108.5 464V482M131.1 465V486M155.7 467V488M161.2 474V493M98 474V493M75 476V495M112 461V484M87.5 462V478M143.4 466V491M118.8 462V487M94 463V484M108.3 462V483M124.7 470V488M87.6 484V500M114.7 464V488M152.2 462V482M85.1 469V492M106.6 459V484M141.7 452V477M107.9 459V477M123.7 469V494M115.9 463V487M116.2 469V490M126.4 465V485M102.9 471V490M81.2 473V492M107.2 469V493M125.4 466V482M118.6 471V491M82.3 472V490M115.5 467V483M128.2 461V481M97.2 474V492M125.4 452V472M92.8 470V495M126 452V477M99.5 472V492M102.8 453V472M146.6 466V482M101.6 470V488M119.4 468V493M129.2 466V485M84.8 460V483M139.1 470V488M81.9 475V497M161.3 452V473M95.4 467V491M111.1 467V491M131.1 468V489M142.8 477V496M138.8 458V480M162.7 462V481M139.3 467V487M135.9 474V495M143.2 466V489M113 464V489M73.1 467V488M142.9 460V481M138.1 459V481M135.6 469V485M91.4 468V487M105.3 476V494M161.1 474V492M117.5 461V486M83 464V485M81 464V488M114 461V478M119.7 472V489M97.4 471V493M157.8 472V493M127.4 453V477M129.5 471V495M157.3 463V482M98.7 470V488M151.8 459V479M123.8 472V489M164.7 458V483M145.7 467V488M127.8 473V490M118.2 458V480M106.7 461V486M118.1 460V479M73.8 460V480M136.4 453V468M94.3 472V494M132.7 467V490M118.9 463V480M134.2 459V478M96.4 465V483M160.1 462V480M75.1 461V483M89.9 451V471M75.9 462V483M136.9 476V494M103.8 474V494M114.2 464V489M131.7 458V478M81.5 460V484M90.3 464V482M108.9 475V492M147.4 466V483M104.3 465V485M114.8 476V494M149 470V494M74.6 466V483M127.7 462V484M121.6 467V485M159.2 472V489M132.7 468V484M78 472V495M75.2 471V491M108.9 471V496M161 462V484M161.7 475V491M148.4 467V493M124.8 473V493M147.6 464V483M102.2 459V482M76.8 459V480M79.3 466V483M94.6 458V480M113.4 458V483M124.8 469V492M144.9 464V482M82.4 468V488M160.5 456V472M125.9 456V479M110.7 472V492M107.4 464V484M100.8 452V474M138.1 453V478M98.9 467V487M100 462V480M156 464V489M131.8 470V490M73.7 470V494M73.9 462V482M114.1 467V489M127 470V488M121.2 463V485M147.2 464V480M113.5 472V489M80.5 470V488M106 459V476M146.5 473V496M111.3 473V498M161.4 454V478M74.9 462V483M157.8 457V479M125.9 473V495M143.6 451V474M91.9 470V488M136.1 465V486M144.3 466V482M82.9 469V495M107.4 471V489M124.4 477V493M113.6 470V486M159.5 464V486M110.6 463V488M151.2 467V485M77 471V494M151.1 456V478M116.3 452V478M81.3 459V484M99.9 470V488M143.2 463V484M89 472V490M140.5 460V479M96.3 466V490M99 471V490M118.9 466V485M108.9 467V488M123.4 458V482M129.4 466V488M110.2 468V489M110.4 466V488M89.7 475V494M86.4 467V487M126.7 466V487M151.1 476V499M77.3 467V491M83.7 471V488M147.1 464V487M159 459V483M106.1 479V503M76.5 471V491M160.3 462V484M75.9 474V492M124.5 460V483M123.5 463V485M146.9 460V481M147.4 469V495M85.9 462V478M162.3 474V499M99.2 470V495M135 466V481M75.9 471V490M130.3 471V492M161.3 462V481M123.9 453V471M124.5 461V480M88.1 458V482M103.2 456V478M107.7 457V474M119.6 460V485M76.4 471V488M94.5 470V491M73.2 462V488M137.3 472V494M89.1 463V485M151.8 468V489M78.1 464V488M131.4 461V479M140 462V485M147.9 474V497M144.7 461V486M126.6 471V490M161 474V492M131.3 462V478M98.3 476V494M156.4 471V489M108 454V474M74.2 465V485M150.5 456V478M80.6 461V479M115.1 455V476M84.1 460V480M103.4 477V497M141.4 469V490M106.4 466V486M149.8 466V490M147.5 448V470M137.8 455V477M157.3 469V487M136.4 459V478M162.1 471V489M158.2 459V476M87.8 477V495M110.4 456V480M135.7 457V481M119.7 467V488M128.5 469V492M76.2 462V480M141.7 466V485M156.3 459V484M160.2 467V488M74.7 452V470M160.6 459V479M90.2 464V483M138 467V485M141.7 474V490M118.1 454V479M133.6 467V489M151.5 455V471M86 470V493M73.2 454V479M131.4 459V475M88.6 472V498M108.4 466V485M147 472V492M124.3 459V480M110.7 464V486M117 472V487M108.3 461V486M112.1 451V477M139.8 461V480M153.9 468V492M115.7 468V487M102.5 461V482M88.3 459V480M139 459V482M87 465V482M82 462V481M131.3 465V480M150.7 474V489M106.9 464V489M75 467V490M75.2 456V476M111.8 464V488M138.7 461V485M151.5 477V502M138.7 476V492M115.8 469V489M75 471V493M164.1 466V482M130.6 474V496M158.1 468V488M163.5 469V491M153.9 455V476M95 480V504M159 472V496M80.1 464V483M144.9 457V482M120.7 460V481M114.5 468V486M91 463V478M136.2 467V487M164.7 473V496M106.3 465V482M130.7 458V483M111.6 461V480M76.7 458V482M100 472V495M137 463V485M143.6 454V479M161.8 461V487M128.8 468V493M136.8 463V480M125 462V478M80.5 462V479M154.9 474V491M123.1 462V482M112 462V487M159.2 476V496M119.4 452V477M153.4 451V474M164.5 457V473M90.8 467V491M73.4 480V495M148.1 481V498M149 473V492M145.7 465V488M117.9 469V490M119.6 470V492M88.8 459V477M78.2 460V485M157.3 468V485M79.1 470V491M159 462V478M141.4 467V483M119.9 447V472M150.6 470V493M89.1 465V490M158.4 465V486M127.5 461V476M132.8 465V487M132.6 466V483M97.3 456V473M133.9 466V482M110.7 455V471M160 468V485M92.2 455V480M83.4 466V486M99.7 467V488M93.1 472V488M151.5 468V486M88 469V493M91.3 456V478M74.7 468V486M156.8 466V488M100 461V480M128 468V485M74.3 459V482M95.2 464V488M157.7 470V491M114 467V490M126.3 467V483M80.7 464V484M82.1 469V492M108 474V495M155.8 464V482M156.2 466V489M113.8 467V484M146.8 463V480M127.2 456V479M110.2 463V484M75.8 474V500M156.4 455V477M118.5 473V492M162.2 468V489M85.3 469V486M83.5 464V482M116.9 473V491M150.8 468V488M93.2 475V492M122.2 466V482M121.9 466V491M130.6 463V481M112.5 465V490M140.8 462V486M76 465V481M101.1 456V478M76.2 459V477M91.1 466V485M146.1 455V475M133.8 469V492M96.5 468V485M87.9 466V485M111.5 464V484M157.8 465V482M114 463V480M144.1 467V484M116 477V494M84 469V495M96.2 457V482M129.7 464V480M95.8 469V485M161.9 457V477M102.1 456V481M152.9 467V487M77.9 462V478M115.4 457V479M148.9 459V481M154.5 458V475M153.2 457V478M111.9 457V479M157.3 462V478M102.1 460V484M160.6 464V486M138.5 450V468M152.8 458V481M113.3 468V490M99 465V485M128.3 480V502M148.1 462V485M143 464V480M135.8 479V501M97.1 469V489M86.5 480V500M76.8 454V473M136.4 464V486M104 469V488M155.2 463V484M73.5 465V487M152.9 468V489M112.6 471V496M154.3 468V492M97.1 463V484M136.1 474V490M101 473V491M79.1 469V489M83.6 466V488M97.1 465V489M129.1 461V484M90 472V487M114.6 463V484M127.2 469V489M108.2 474V490M101.8 460V485M154.8 467V484M84 473V498M94.2 466V490M99.5 465V482M152 462V484M81.6 473V489M131.2 468V488M74.1 462V485M127.3 475V492M115.4 468V488M98 467V492M92 469V493M82.8 468V487M108.6 464V488M83.3 466V490M146.8 456V482M155.4 460V484M110.2 476V500M91.1 458V480M92.7 457V486M93.6 429V459M94.2 464V484M92.4 434V469M94.1 439V468M94.4 451V486M94.2 464V491M93.5 465V484M92.1 443V472M91.3 451V483M92 439V473M92.3 441V477M92.3 464V484M93 446V476M92.5 453V480M92.9 433V455M92.5 450V474M91.2 453V487M94.4 447V479M91.7 449V473M92.6 433V457M93.7 446V466M92.2 463V481M94 433V458M93.8 446V477M94.2 457V485M93.1 406V438M93.2 463V499M94.2 460V485M92.4 430V449M94.5 466V494M92.4 458V489M93.4 443V474M94.1 424V452M100.9 443V473M98.5 432V468M98.8 432V468M100.5 400V430M99 453V484M100.2 413V442M98.6 452V475M100.3 448V475M100 431V462M99.4 415V450M99.5 431V466M101.2 466V496M98.6 450V470M100 437V472M99.8 407V442M99.9 382V407M98.8 452V484M98.9 449V485M100.8 414V446M99.6 424V447M99.8 412V446M99.4 422V453M100.6 407V439M99.5 447V470M99.7 395V431M99.5 403V427M99.3 398V430M99.1 427V456M99.6 399V433M100.2 422V451M101.5 455V479M98.7 429V457M100.9 442V478M100.4 460V488M99.6 404V431M99.7 463V486M99.6 393V422M99.1 420V442M99.6 448V467M101 464V485M101.4 452V484M100.9 429V455M100.5 419V448M100.2 441V472M99.8 458V491M102.6 462V487M99.4 443V470M100.1 434V466M99.5 407V442M111.6 419V443M110 454V489M108.2 461V494M110.2 425V446M113.6 460V489M109.2 419V454M110.6 398V427M111.8 450V476M111.4 441V465M111.5 467V492M109.9 447V475M110 453V473M111.2 453V486M109.5 431V457M110.8 442V476M109.9 454V485M109.8 449V480M109.7 446V475M110.7 432V463M111.5 450V484M109.2 418V442M110.6 415V436M108.7 462V491M108.5 456V476M109.3 436V462M110.8 446V470M110.6 402V439M109.4 433V459M110.1 460V483M111.4 416V436M110.5 472V494M111.5 463V498M111.4 415V441M109 434V459M112.1 450V486M111.1 444V474M109.5 418V452M110.1 417V436M110.9 456V489M109.4 454V474M112.1 415V435M109.1 449V473M110.9 448V469M110.3 404V423M109.6 409V432M111.4 453V486M110.5 414V450M111.7 453V489M111.7 437V470M111.6 454V476M109.7 463V491M111.4 424V452M107.3 469V492M109.9 397V424M111.7 427V446M109.6 415V435M110.9 459V490M110.2 381V415M111.1 437V457M110.3 388V411M109.8 461V491M110.5 463V494M109.8 436V456M119.4 428V460M120.2 443V469M122.7 463V483M120.2 430V461M120.6 446V473M120.5 449V476M122.2 418V441M120.6 447V482M123.4 458V487M123.5 468V495M119.6 446V477M119.7 466V489M120.3 411V443M122.9 443V463M119.7 419V455M120.9 408V433M119 456V490M120.9 456V493M120.8 457V481M122 417V443M120.9 395V422M120.9 418V442M120.3 430V461M120.6 460V491M120.4 458V481M120.2 457V481M120.6 450V471M122.5 425V450M119.4 463V484M120.7 463V486M119.2 458V489M121.7 464V497M121.4 462V485M120.2 467V502M117.7 454V473M121 458V489M120.8 425V460M120.5 437V455M121.7 422V445M120.3 435V465M122.9 449V472M121.2 460V488M122.6 453V475M121.1 426V457M121.9 425V453M121 408V436M121.2 424V454M120.1 437V462M123.8 456V493M121.3 453V479M120.9 446V473M118.6 454V473M121.2 425V455M121.5 439V463M121.1 456V476M120 452V484M129.3 444V469M130.1 380V400M130.7 441V472M129.2 462V497M130.7 414V448M130.4 441V467M129 394V429M129.6 459V478M130.7 442V463M129 437V472M129.5 421V455M127.8 465V490M129.8 408V438M130.2 455V488M130.3 437V469M130.4 428V461M131.6 452V478M128.1 436V465M128.3 435V463M129.9 416V448M130.3 434V463M128.8 406V434M130.8 417V452M130.3 458V487M128.9 418V450M130.4 463V487M130.8 428V450M129.5 415V438M132.3 463V496M130.2 441V471M131.6 430V452M127.6 470V491M132.1 461V495M128.9 438V467M127.9 451V482M127.2 462V493M130.6 398V422M129.1 406V439M128.1 437V459M129 451V476M129.7 422V454M130.7 448V480M132.9 450V482M129.5 457V488M129.7 462V491M131.9 458V487M130 385V413M129.7 426V461M129 449V479M129.6 420V444M130.2 384V406M129.1 456V475M129.4 396V431M127.1 460V491M128.7 422V446M129.1 443V477M129.6 425V460M129.2 453V474M128 448V479M129.9 393V415M130.5 451V487M129.3 401V437M129.1 461V484M139.1 451V486M142 466V490M141.4 445V470M137.2 469V491M138.4 467V499M140.3 443V464M140.2 460V486M140.7 457V489M139.3 456V488M140.6 429V460M139.1 435V460M140.7 447V479M139 453V487M139.9 436V460M140.7 453V487M140.9 431V452M141 456V485M142.5 459V483M141.4 460V483M140 469V491M138.5 456V475M139.5 444V464M138.4 451V474M137.2 464V484M139.6 461V488M142.2 464V492M143.6 462V495M136.6 455V488M137.3 454V483M141.6 464V494M136 462V483M140.7 461V493M135.4 471V494M141.4 458V494M140.9 441V461M140.1 458V477M136.4 459V494M143.2 461V484M141.2 444V474M140.7 463V484M136.5 467V491M140.7 436V463M151.4 459V481M150.7 412V443M150.8 406V427M150.8 404V425M151.4 434V462M151.4 443V474M151.1 452V473M151.1 405V426M150.4 453V478M150.6 412V441M151.5 459V482M152 457V483M152 463V483M152.4 448V475M150.4 454V490M150.8 453V488M149.2 456V482M152.2 456V489M152 461V492M150.9 425V460M151.3 440V469M151.9 425V451M151.3 454V479M151.2 402V435M148.5 462V492M150.7 436V456M151.4 436V465M151.1 430V464M150.2 459V484M150.6 423V459M149.5 460V480M150.7 471V494M150.7 411V439M151 407V427M149.9 455V491M160.1 434V467M161.8 449V467M160.9 433V464M162.3 456V490M159.9 443V473M159.6 450V485M160.5 452V477M162.3 451V487M161.9 449V476M160.1 463V491M161.6 459V479M160.8 447V469M162 451V477M160.2 458V477M161.8 461V482M161.9 446V475M160.5 470V500M161.3 431V453M160.4 436V469M161.1 419V452M161.4 451V470M159.9 465V495M160.9 458V483M160.1 430V461M160.8 447V478M160.5 456V478M158.9 460V491M160.7 440V462M121.9 490V510M121.2 520V540M120.4 470V492M120.6 469V490M120.1 467V486M121.4 476V502M120.4 499V523M121 473V492M122.2 469V494M120.7 502V522M120.1 478V500M121 504V526M121.6 478V505M122.5 467V503M120.9 460V496M121.5 466V492M120.8 504V538M120.8 477V512M122.3 463V488M120.9 487V517M120.8 459V495M129.4 471V502M130 473V493M130.6 470V490M130.4 473V504M129.9 497V532M130.6 482V517M130.5 478V510M131.1 461V495M128.8 469V500M129.7 488V516M130.4 467V498M129.2 458V490M128.9 465V485M130.5 469V495M128.7 467V495M129.6 485V509M130.9 470V497M130.2 473V501M129.9 533V561M129.8 506V537M129.5 515V548M129.6 513V532M129.9 493V525M129.3 493V512M129 480V498M130.8 463V498M130.1 511V534M130.1 476V506M140.1 509V528M140.1 464V495M140.3 488V515M140 499V522M139.5 489V511M140.4 503V531M139.7 488V508M139.4 501V521M140 473V505M140.1 482V510M140.7 474V497M140.3 488V515M139.3 477V500M141.1 478V505M140.3 467V501M140 495V518M140.7 493V516M139.8 502V524M139.7 478V514M139.7 503V538M140.5 471V506M151.6 487V516M152.4 493V528M152.1 470V502M151.1 468V490M151.3 478V506M151.8 474V498M151.9 508V542M152.2 476V510M151.2 468V495M150.9 470V492M151.2 484V518M151.9 459V488M152 479V513M151.6 477V507M151.2 487V520M151.8 514V534M151.3 490V508M152.2 484V509M152.5 468V497M151.4 488V519M151.4 465V486M105.6 458V481M136.2 457V482M145.4 440V475M148.1 397V430M139.8 443V470M152.7 464V484M114.1 444V476M123.3 430V451M155.6 449V485M128.2 426V455M145.4 439V473M152.7 455V482M97.7 442V467M123.9 420V455M143.9 464V485M122.9 451V479M94.6 427V458M90.7 458V485M118.9 442V475M94.3 460V485M116.4 431V466M130.2 440V460M99.2 400V426M107.6 442V466M155.2 458V487M132.7 421V447M89.4 450V485M88.6 447V473M114 441V464M122.3 421V443M131.9 455V490M100.5 435V461M95.7 424V446M154.2 458V491M91.5 435V470M110.7 447V466M149.4 453V474M108.4 442V464M141.7 399V431M126.8 426V448M132.1 452V483M124.4 420V440M91.3 453V473M150.5 447V469M150.4 447V475M91.3 430V463M132.4 456V481M149.8 435V459M122.8 432V451M109.7 460V481M99.9 459V485M143.1 407V437M104.4 459V490M111.5 437V465M155 450V469M116.4 444V479M103.9 438V466M129.7 460V487M138.4 458V486M140.2 441V462M145.3 436V465M102.3 437V456M143.1 457V475M156.4 465V484M142.4 452V487M133.3 434V454M104.9 412V444M105.1 434V459M153.3 431V454M136.7 453V478M110.6 454V479M124.1 426V447M90.9 450V479M145.2 432V453M104.8 448V477M141.5 438V472M155.5 435V458M106.4 454V477M104.1 444V480M98.9 424V447M131.2 421V444M124.3 433V469M140.4 423V459M107 416V450M133.8 439V474M110.3 427V451M143.3 445V469M99.7 420V445M143.3 458V478M140.1 432V468M100.9 410V441M152.4 430V454M87.5 448V469M89.6 451V483M97.4 432V468M141.1 454V482M155.5 450V483M154.3 455V483M148.3 428V462M132 437V458M110 440V472M147.3 441V474M130.8 416V450M114.1 443V477M148 459V485M95.3 448V475M128 446V476M100.7 428V461M106.6 442V477M106.2 423V442M136.1 456V489M127.6 454V476M125.7 440V477M151.1 457V480M152.6 444V474M106.2 457V487M109.9 462V483M118.3 422V455M150 460V491M103.4 457V477M113.9 441V477M116.6 406V438M88.7 458V487M94.4 447V469M93.2 424V443M91.2 424V452M118.2 456V484M92.6 448V478M118.3 433V453M148.7 454V477M142.9 454V486M153.7 428V449M151.4 434V455M147.1 451V476M94.2 457V485M148.1 430V452M130.3 448V483M141.5 438V466M119.8 443V470M142.7 459V491M147.3 462V481M132 452V484M136.6 456V478M145.2 451V480M100.6 440V473M138 429V456M125.2 436V469M90.7 459V490M120.1 450V471M153.7 461V481M91.9 451V486M135.9 410V443M125.9 449V484M151.7 455V486M87.5 457V482M124.6 453V479M115.8 443V467M128.5 445V466M114.6 402V426M130.1 411V447M95.7 424V448M108.7 423V443M132.9 399V434M142.6 430V457M149.3 450V475M119.6 435V460M122.4 397V432M145.4 448V475M137.1 449V481M100.5 461V486M90.2 446V509M84.3 352V395M83.3 474V539M83.8 360V432M83.4 329V364M98.1 418V460M98.5 407V445M97.9 412V462M103 446V477M103.4 380V434M103.9 440V470M81.2 491V521M81.3 385V451M152.5 307V340M97.2 411V466M96.7 452V480M97.3 463V488M96.7 393V435M115.5 532V598M115.5 436V497M115.6 433V500M115.1 293V328M74 454V516M73.9 377V450M73.8 371V402M74.1 459V527M94 328V379M94.6 325V384M94 451V509M111.8 345V370M81.9 341V360M147.7 361V394M161.5 441V461M73.9 384V418M162.4 365V389M114.2 413V442M145.1 360V390M108.6 448V481M136.9 308V337M108.4 409V430M82 335V358M116.5 363V398M94.9 445V466M111.8 420V443M119.8 419V446M147.4 373V405M122.3 446V469M86.8 354V386M157 387V415M116.6 362V393M127.2 387V420M159.2 356V384M158.2 347V369M109.8 359V384M85.4 415V441M101.5 419V452M139.7 418V439M103.3 397V430M91.1 388V420" stroke="#ff0000" stroke-width="1.1" marker-start="url(#kr)" marker-mid="url(#kr)" marker-end="url(#kr)"/><path d="M120 477h0M128.6 476h0M115.3 462h0M108.2 476h0M127.4 478h0M162.2 467h0M130.1 478h0M140.1 466h0M89.9 478h0M160.6 463h0M162.5 474h0M123 471h0M130.7 478h0M162.6 478h0M156.3 480h0M141.1 479h0M97.1 471h0M88.9 469h0M98.5 484h0M162.1 488h0M157.6 470h0M156.6 467h0M84.8 468h0M79.8 472h0M143.6 478h0M131.8 468h0M104.4 480h0M93.7 470h0M98.3 490h0M133.4 476h0M102.6 474h0M155.1 472h0M145.1 470h0M83.2 474h0M92.7 465h0M92.2 472h0M126.7 478h0M74.6 471h0M158.4 472h0M121.6 467h0M102.4 478h0M79.1 466h0M76.8 470h0M102.5 477h0M154.7 463h0M111 479h0M93.5 472h0M99 480h0M126.9 479h0M95.6 484h0M83.4 482h0M120.2 469h0M86.6 474h0M108.8 472h0M120.7 476h0M160.4 473h0M130.7 475h0M109 484h0M75.5 476h0M132.2 483h0M115.3 474h0M144.6 491h0M75.4 484h0M126.3 472h0M142.9 477h0M132.7 472h0M97.9 459h0M104.3 479h0M146.1 481h0M129.3 477h0M95.8 471h0M134 473h0M91.7 469h0M79.6 470h0M76 468h0M160.8 459h0M134.7 476h0M139.7 466h0M141.2 480h0M155.5 476h0M97 469h0M132.4 482h0M159.3 470h0M96.7 471h0M123.7 467h0M142.3 494h0M127.7 480h0M95.8 477h0M113.7 482h0M120.8 470h0M163.8 483h0M98.2 481h0M123 482h0M137.8 480h0M152.9 472h0M137.6 477h0M98.5 489h0M84.5 475h0M84.6 470h0M124.4 466h0M122.3 478h0M130.3 482h0M125.5 488h0M151.1 479h0M162.4 468h0M79.9 473h0M127.5 470h0M150.2 471h0M75.1 474h0M164.8 469h0M131.2 478h0M92.3 481h0M158.9 474h0M136.5 473h0M76.6 480h0M121.1 484h0M158.2 470h0M73.7 471h0M93.9 475h0M77 474h0M76.5 470h0M122.3 469h0M105.8 480h0M134.8 479h0M161.5 474h0M82 469h0M125.4 473h0M88.5 478h0M93.9 482h0M74.6 473h0M154.8 470h0M95.5 487h0M83.9 484h0M154.5 474h0M120.6 477h0M91.5 479h0M77.1 467h0M119.8 474h0M143.9 472h0M163.6 478h0M95.1 480h0M128 477h0M150.6 463h0M137.1 473h0M97.2 477h0M152.7 467h0M86.7 478h0M83.1 486h0M94.1 474h0M116.1 462h0M143 475h0M78.9 483h0M101.2 473h0M128.6 468h0M161.4 484h0M149 483h0M136.1 465h0M108 475h0M145.7 484h0M74.4 482h0M136.7 467h0M105.6 482h0M117 473h0M147 485h0M161.3 469h0M154.6 477h0M139 476h0M134.2 467h0M120.4 471h0M86.5 475h0M73.1 477h0M82.3 475h0M87.9 465h0M112.8 483h0M74.5 475h0M96.1 481h0M108 475h0M125.2 475h0M145.8 476h0M82.5 474h0M164.5 484h0M135.3 472h0M111.9 484h0M91.4 476h0M147.9 473h0M149.3 473h0M156.5 464h0M77.3 481h0M107.8 483h0M126.5 476h0M160.4 488h0M91.3 480h0M162.8 462h0M151.5 478h0M135.7 469h0M91 468h0M87.6 482h0M154.8 473h0M97.5 476h0M103.1 475h0M146.1 489h0M116.6 465h0M148.9 477h0M75.3 469h0M93.3 477h0M125.2 488h0M118.9 464h0M101.6 481h0M77.2 476h0M121.2 484h0M102.5 475h0M104.1 455h0M120 477h0M114.7 479h0M84.3 485h0M79.9 471h0M85.7 489h0M73 473h0M111.5 481h0M114.4 484h0M97.5 476h0M76.9 480h0M113.1 473h0M128.6 477h0M142.5 473h0M153.3 479h0M95.7 484h0M99.9 472h0M77 478h0M157.7 469h0M164.4 461h0M77.7 474h0M101.3 471h0M76.1 476h0M87.4 464h0M160.8 468h0M84.9 480h0M91.9 480h0M132.7 482h0M133.2 480h0M80.1 483h0M87.6 479h0M108.5 473h0M131.1 476h0M155.7 478h0M161.2 483h0M98 483h0M75 486h0M112 472h0M87.5 470h0M143.4 478h0M118.8 475h0M94 474h0M108.3 473h0M124.7 479h0M87.6 492h0M114.7 476h0M152.2 472h0M85.1 481h0M106.6 472h0M141.7 465h0M107.9 468h0M123.7 481h0M115.9 475h0M116.2 479h0M126.4 475h0M102.9 481h0M81.2 483h0M107.2 481h0M125.4 474h0M118.6 481h0M82.3 481h0M115.5 475h0M128.2 471h0M97.2 483h0M125.4 462h0M92.8 482h0M126 464h0M99.5 482h0M102.8 462h0M146.6 474h0M101.6 479h0M119.4 481h0M129.2 475h0M84.8 471h0M139.1 479h0M81.9 486h0M161.3 462h0M95.4 479h0M111.1 479h0M131.1 479h0M142.8 486h0M138.8 469h0M162.7 471h0M139.3 477h0M135.9 485h0M143.2 478h0M113 476h0M73.1 477h0M142.9 470h0M138.1 470h0M135.6 477h0M91.4 477h0M105.3 485h0M161.1 483h0M117.5 473h0M83 474h0M81 476h0M114 470h0M119.7 480h0M97.4 482h0M157.8 483h0M127.4 465h0M129.5 483h0M157.3 472h0M98.7 479h0M151.8 469h0M123.8 481h0M164.7 471h0M145.7 477h0M127.8 482h0M118.2 469h0M106.7 473h0M118.1 470h0M73.8 470h0M136.4 461h0M94.3 483h0M132.7 478h0M118.9 472h0M134.2 468h0M96.4 474h0M160.1 471h0M75.1 472h0M89.9 461h0M75.9 473h0M136.9 485h0M103.8 484h0M114.2 477h0M131.7 468h0M81.5 472h0M90.3 473h0M108.9 483h0M147.4 475h0M104.3 475h0M114.8 485h0M149 482h0M74.6 475h0M127.7 473h0M121.6 476h0M159.2 480h0M132.7 476h0M78 484h0M75.2 481h0M108.9 483h0M161 473h0M161.7 483h0M148.4 480h0M124.8 483h0M147.6 474h0M102.2 471h0M76.8 469h0M79.3 475h0M94.6 469h0M113.4 470h0M124.8 480h0M144.9 473h0M82.4 478h0M160.5 464h0M125.9 468h0M110.7 482h0M107.4 474h0M100.8 463h0M138.1 466h0M98.9 477h0M100 471h0M156 476h0M131.8 480h0M73.7 482h0M73.9 472h0M114.1 478h0M127 479h0M121.2 474h0M147.2 472h0M113.5 481h0M80.5 479h0M106 468h0M146.5 484h0M111.3 486h0M161.4 466h0M74.9 473h0M157.8 468h0M125.9 484h0M143.6 463h0M91.9 479h0M136.1 476h0M144.3 474h0M82.9 482h0M107.4 480h0M124.4 485h0M113.6 478h0M159.5 475h0M110.6 476h0M151.2 476h0M77 483h0M151.1 467h0M116.3 465h0M81.3 471h0M99.9 479h0M143.2 473h0M89 481h0M140.5 470h0M96.3 478h0M99 480h0M118.9 476h0M108.9 477h0M123.4 470h0M129.4 477h0M110.2 478h0M110.4 477h0M89.7 485h0M86.4 477h0M126.7 476h0M151.1 487h0M77.3 479h0M83.7 480h0M147.1 476h0M159 471h0M106.1 491h0M76.5 481h0M160.3 473h0M75.9 483h0M124.5 471h0M123.5 474h0M146.9 470h0M147.4 482h0M85.9 470h0M162.3 486h0M99.2 482h0M135 474h0M75.9 481h0M130.3 481h0M161.3 472h0M123.9 462h0M124.5 471h0M88.1 470h0M103.2 467h0M107.7 465h0M119.6 473h0M76.4 479h0M94.5 480h0M73.2 475h0M137.3 483h0M89.1 474h0M151.8 478h0M78.1 476h0M131.4 470h0M140 473h0M147.9 486h0M144.7 474h0M126.6 481h0M161 483h0M131.3 470h0M98.3 485h0M156.4 480h0M108 464h0M74.2 475h0M150.5 467h0M80.6 470h0M115.1 465h0M84.1 470h0M103.4 487h0M141.4 479h0M106.4 476h0M149.8 478h0M147.5 459h0M137.8 466h0M157.3 478h0M136.4 469h0M162.1 480h0M158.2 468h0M87.8 486h0M110.4 468h0M135.7 469h0M119.7 478h0M128.5 481h0M76.2 471h0M141.7 475h0M156.3 472h0M160.2 478h0M74.7 461h0M160.6 469h0M90.2 473h0M138 476h0M141.7 482h0M118.1 466h0M133.6 478h0M151.5 463h0M86 482h0M73.2 466h0M131.4 467h0M88.6 485h0M108.4 476h0M147 482h0M124.3 470h0M110.7 475h0M117 479h0M108.3 473h0M112.1 464h0M139.8 471h0M153.9 480h0M115.7 478h0M102.5 471h0M88.3 470h0M139 471h0M87 474h0M82 471h0M131.3 472h0M150.7 481h0M106.9 476h0M75 478h0M75.2 466h0M111.8 476h0M138.7 473h0M151.5 489h0M138.7 484h0M115.8 479h0M75 482h0M164.1 474h0M130.6 485h0M158.1 478h0M163.5 480h0M153.9 466h0M95 492h0M159 484h0M80.1 473h0M144.9 469h0M120.7 470h0M114.5 477h0M91 471h0M136.2 477h0M164.7 485h0M106.3 474h0M130.7 471h0M111.6 471h0M76.7 470h0M100 483h0M137 474h0M143.6 467h0M161.8 474h0M128.8 481h0M136.8 472h0M125 470h0M80.5 470h0M154.9 483h0M123.1 472h0M112 475h0M159.2 486h0M119.4 465h0M153.4 462h0M164.5 465h0M90.8 479h0M73.4 488h0M148.1 490h0M149 483h0M145.7 477h0M117.9 479h0M119.6 481h0M88.8 468h0M78.2 472h0M157.3 477h0M79.1 480h0M159 470h0M141.4 475h0M119.9 460h0M150.6 481h0M89.1 478h0M158.4 476h0M127.5 469h0M132.8 476h0M132.6 474h0M97.3 465h0M133.9 474h0M110.7 463h0M160 476h0M92.2 468h0M83.4 476h0M99.7 477h0M93.1 480h0M151.5 477h0M88 481h0M91.3 467h0M74.7 477h0M156.8 477h0M100 471h0M128 477h0M74.3 471h0M95.2 476h0M157.7 481h0M114 478h0M126.3 475h0M80.7 474h0M82.1 481h0M108 485h0M155.8 473h0M156.2 477h0M113.8 475h0M146.8 472h0M127.2 467h0M110.2 473h0M75.8 487h0M156.4 466h0M118.5 483h0M162.2 478h0M85.3 478h0M83.5 473h0M116.9 482h0M150.8 478h0M93.2 483h0M122.2 474h0M121.9 478h0M130.6 472h0M112.5 478h0M140.8 474h0M76 473h0M101.1 467h0M76.2 468h0M91.1 475h0M146.1 465h0M133.8 481h0M96.5 477h0M87.9 475h0M111.5 474h0M157.8 473h0M114 472h0M144.1 475h0M116 486h0M84 482h0M96.2 470h0M129.7 472h0M95.8 477h0M161.9 467h0M102.1 468h0M152.9 477h0M77.9 470h0M115.4 468h0M148.9 470h0M154.5 467h0M153.2 467h0M111.9 468h0M157.3 470h0M102.1 472h0M160.6 475h0M138.5 459h0M152.8 470h0M113.3 479h0M99 475h0M128.3 491h0M148.1 474h0M143 472h0M135.8 490h0M97.1 479h0M86.5 490h0M76.8 463h0M136.4 475h0M104 478h0M155.2 473h0M73.5 476h0M152.9 479h0M112.6 483h0M154.3 480h0M97.1 474h0M136.1 482h0M101 482h0M79.1 479h0M83.6 477h0M97.1 477h0M129.1 472h0M90 479h0M114.6 473h0M127.2 479h0M108.2 482h0M101.8 472h0M154.8 476h0M84 485h0M94.2 478h0M99.5 473h0M152 473h0M81.6 481h0M131.2 478h0M74.1 474h0M127.3 483h0M115.4 478h0M98 479h0M92 481h0M82.8 478h0M108.6 476h0M83.3 478h0M146.8 469h0M155.4 472h0M110.2 488h0M91.1 469h0M92.7 472h0M93.6 444h0M94.2 474h0M92.4 451h0M94.1 454h0M94.4 469h0M94.2 477h0M93.5 474h0M92.1 457h0M91.3 467h0M92 456h0M92.3 459h0M92.3 474h0M93 461h0M92.5 466h0M92.9 444h0M92.5 462h0M91.2 470h0M94.4 463h0M91.7 461h0M92.6 445h0M93.7 456h0M92.2 472h0M94 446h0M93.8 461h0M94.2 471h0M93.1 422h0M93.2 481h0M94.2 472h0M92.4 440h0M94.5 480h0M92.4 473h0M93.4 459h0M94.1 438h0M100.9 458h0M98.5 450h0M98.8 450h0M100.5 415h0M99 469h0M100.2 428h0M98.6 463h0M100.3 462h0M100 447h0M99.4 432h0M99.5 449h0M101.2 481h0M98.6 460h0M100 454h0M99.8 425h0M99.9 394h0M98.8 468h0M98.9 467h0M100.8 430h0M99.6 435h0M99.8 429h0M99.4 438h0M100.6 423h0M99.5 459h0M99.7 413h0M99.5 415h0M99.3 414h0M99.1 441h0M99.6 416h0M100.2 437h0M101.5 467h0M98.7 443h0M100.9 460h0M100.4 474h0M99.6 418h0M99.7 474h0M99.6 408h0M99.1 431h0M99.6 458h0M101 474h0M101.4 468h0M100.9 442h0M100.5 434h0M100.2 456h0M99.8 474h0M102.6 475h0M99.4 456h0M100.1 450h0M99.5 424h0M111.6 431h0M110 472h0M108.2 477h0M110.2 435h0M113.6 474h0M109.2 436h0M110.6 413h0M111.8 463h0M111.4 453h0M111.5 480h0M109.9 461h0M110 463h0M111.2 469h0M109.5 444h0M110.8 459h0M109.9 470h0M109.8 464h0M109.7 461h0M110.7 448h0M111.5 467h0M109.2 430h0M110.6 426h0M108.7 477h0M108.5 466h0M109.3 449h0M110.8 458h0M110.6 420h0M109.4 446h0M110.1 471h0M111.4 426h0M110.5 483h0M111.5 480h0M111.4 428h0M109 446h0M112.1 468h0M111.1 459h0M109.5 435h0M110.1 426h0M110.9 472h0M109.4 464h0M112.1 425h0M109.1 461h0M110.9 458h0M110.3 414h0M109.6 421h0M111.4 470h0M110.5 432h0M111.7 471h0M111.7 454h0M111.6 465h0M109.7 477h0M111.4 438h0M107.3 481h0M109.9 410h0M111.7 437h0M109.6 425h0M110.9 474h0M110.2 398h0M111.1 447h0M110.3 400h0M109.8 476h0M110.5 479h0M109.8 446h0M119.4 444h0M120.2 456h0M122.7 473h0M120.2 446h0M120.6 460h0M120.5 463h0M122.2 429h0M120.6 465h0M123.4 472h0M123.5 482h0M119.6 462h0M119.7 478h0M120.3 427h0M122.9 453h0M119.7 437h0M120.9 420h0M119 473h0M120.9 475h0M120.8 469h0M122 430h0M120.9 409h0M120.9 430h0M120.3 446h0M120.6 475h0M120.4 470h0M120.2 469h0M120.6 460h0M122.5 438h0M119.4 473h0M120.7 475h0M119.2 474h0M121.7 480h0M121.4 474h0M120.2 484h0M117.7 463h0M121 474h0M120.8 442h0M120.5 446h0M121.7 434h0M120.3 450h0M122.9 460h0M121.2 474h0M122.6 464h0M121.1 441h0M121.9 439h0M121 422h0M121.2 439h0M120.1 449h0M123.8 474h0M121.3 466h0M120.9 459h0M118.6 463h0M121.2 440h0M121.5 451h0M121.1 466h0M120 468h0M129.3 456h0M130.1 390h0M130.7 456h0M129.2 479h0M130.7 431h0M130.4 454h0M129 412h0M129.6 468h0M130.7 452h0M129 455h0M129.5 438h0M127.8 478h0M129.8 423h0M130.2 471h0M130.3 453h0M130.4 445h0M131.6 465h0M128.1 450h0M128.3 449h0M129.9 432h0M130.3 449h0M128.8 420h0M130.8 434h0M130.3 473h0M128.9 434h0M130.4 475h0M130.8 439h0M129.5 426h0M132.3 479h0M130.2 456h0M131.6 441h0M127.6 481h0M132.1 478h0M128.9 453h0M127.9 467h0M127.2 478h0M130.6 410h0M129.1 422h0M128.1 448h0M129 463h0M129.7 438h0M130.7 464h0M132.9 466h0M129.5 472h0M129.7 476h0M131.9 473h0M130 399h0M129.7 443h0M129 464h0M129.6 432h0M130.2 395h0M129.1 465h0M129.4 413h0M127.1 475h0M128.7 434h0M129.1 460h0M129.6 442h0M129.2 463h0M128 463h0M129.9 404h0M130.5 469h0M129.3 419h0M129.1 473h0M139.1 468h0M142 478h0M141.4 458h0M137.2 480h0M138.4 483h0M140.3 454h0M140.2 473h0M140.7 473h0M139.3 472h0M140.6 444h0M139.1 447h0M140.7 463h0M139 470h0M139.9 448h0M140.7 470h0M140.9 442h0M141 470h0M142.5 471h0M141.4 472h0M140 480h0M138.5 466h0M139.5 454h0M138.4 463h0M137.2 474h0M139.6 474h0M142.2 478h0M143.6 479h0M136.6 472h0M137.3 468h0M141.6 479h0M136 473h0M140.7 477h0M135.4 482h0M141.4 476h0M140.9 451h0M140.1 467h0M136.4 476h0M143.2 473h0M141.2 459h0M140.7 474h0M136.5 479h0M140.7 450h0M151.4 470h0M150.7 427h0M150.8 416h0M150.8 414h0M151.4 448h0M151.4 459h0M151.1 463h0M151.1 416h0M150.4 465h0M150.6 427h0M151.5 471h0M152 470h0M152 473h0M152.4 462h0M150.4 472h0M150.8 471h0M149.2 469h0M152.2 472h0M152 477h0M150.9 442h0M151.3 455h0M151.9 438h0M151.3 467h0M151.2 418h0M148.5 477h0M150.7 446h0M151.4 450h0M151.1 447h0M150.2 472h0M150.6 441h0M149.5 470h0M150.7 483h0M150.7 425h0M151 417h0M149.9 473h0M160.1 451h0M161.8 458h0M160.9 449h0M162.3 473h0M159.9 458h0M159.6 468h0M160.5 465h0M162.3 469h0M161.9 463h0M160.1 477h0M161.6 469h0M160.8 458h0M162 464h0M160.2 468h0M161.8 472h0M161.9 460h0M160.5 485h0M161.3 442h0M160.4 452h0M161.1 435h0M161.4 461h0M159.9 480h0M160.9 471h0M160.1 445h0M160.8 462h0M160.5 467h0M158.9 476h0M160.7 451h0M121.9 500h0M121.2 530h0M120.4 481h0M120.6 480h0M120.1 476h0M121.4 489h0M120.4 511h0M121 482h0M122.2 481h0M120.7 512h0M120.1 489h0M121 515h0M121.6 491h0M122.5 485h0M120.9 478h0M121.5 479h0M120.8 521h0M120.8 495h0M122.3 475h0M120.9 502h0M120.8 477h0M129.4 487h0M130 483h0M130.6 480h0M130.4 489h0M129.9 515h0M130.6 500h0M130.5 494h0M131.1 478h0M128.8 484h0M129.7 502h0M130.4 483h0M129.2 474h0M128.9 475h0M130.5 482h0M128.7 481h0M129.6 497h0M130.9 484h0M130.2 487h0M129.9 547h0M129.8 521h0M129.5 531h0M129.6 523h0M129.9 509h0M129.3 502h0M129 489h0M130.8 481h0M130.1 523h0M130.1 491h0M140.1 518h0M140.1 479h0M140.3 502h0M140 511h0M139.5 500h0M140.4 517h0M139.7 498h0M139.4 511h0M140 489h0M140.1 496h0M140.7 485h0M140.3 502h0M139.3 489h0M141.1 491h0M140.3 484h0M140 507h0M140.7 505h0M139.8 513h0M139.7 496h0M139.7 521h0M140.5 489h0M151.6 501h0M152.4 511h0M152.1 486h0M151.1 479h0M151.3 492h0M151.8 486h0M151.9 525h0M152.2 493h0M151.2 481h0M150.9 481h0M151.2 501h0M151.9 474h0M152 496h0M151.6 492h0M151.2 503h0M151.8 524h0M151.3 499h0M152.2 497h0M152.5 483h0M151.4 503h0M151.4 475h0M105.6 470h0M136.2 469h0M145.4 458h0M148.1 413h0M139.8 456h0M152.7 474h0M114.1 460h0M123.3 440h0M155.6 467h0M128.2 441h0M145.4 456h0M152.7 469h0M97.7 454h0M123.9 438h0M143.9 475h0M122.9 465h0M94.6 442h0M90.7 472h0M118.9 458h0M94.3 472h0M116.4 449h0M130.2 450h0M99.2 413h0M107.6 454h0M155.2 472h0M132.7 434h0M89.4 468h0M88.6 460h0M114 452h0M122.3 432h0M131.9 473h0M100.5 448h0M95.7 435h0M154.2 474h0M91.5 453h0M110.7 457h0M149.4 463h0M108.4 453h0M141.7 415h0M126.8 437h0M132.1 468h0M124.4 430h0M91.3 463h0M150.5 458h0M150.4 461h0M91.3 446h0M132.4 469h0M149.8 447h0M122.8 442h0M109.7 471h0M99.9 472h0M143.1 422h0M104.4 475h0M111.5 451h0M155 460h0M116.4 461h0M103.9 452h0M129.7 473h0M138.4 472h0M140.2 452h0M145.3 450h0M102.3 447h0M143.1 466h0M156.4 475h0M142.4 470h0M133.3 444h0M104.9 428h0M105.1 446h0M153.3 443h0M136.7 465h0M110.6 466h0M124.1 436h0M90.9 464h0M145.2 443h0M104.8 463h0M141.5 455h0M155.5 447h0M106.4 466h0M104.1 462h0M98.9 435h0M131.2 433h0M124.3 451h0M140.4 441h0M107 433h0M133.8 456h0M110.3 439h0M143.3 457h0M99.7 432h0M143.3 468h0M140.1 450h0M100.9 425h0M152.4 442h0M87.5 459h0M89.6 467h0M97.4 450h0M141.1 468h0M155.5 467h0M154.3 469h0M148.3 445h0M132 448h0M110 456h0M147.3 458h0M130.8 433h0M114.1 460h0M148 472h0M95.3 462h0M128 461h0M100.7 445h0M106.6 460h0M106.2 433h0M136.1 473h0M127.6 465h0M125.7 459h0M151.1 469h0M152.6 459h0M106.2 472h0M109.9 472h0M118.3 439h0M150 475h0M103.4 467h0M113.9 459h0M116.6 422h0M88.7 472h0M94.4 458h0M93.2 433h0M91.2 438h0M118.2 470h0M92.6 463h0M118.3 443h0M148.7 466h0M142.9 470h0M153.7 439h0M151.4 445h0M147.1 464h0M94.2 471h0M148.1 441h0M130.3 466h0M141.5 452h0M119.8 456h0M142.7 475h0M147.3 471h0M132 468h0M136.6 467h0M145.2 465h0M100.6 457h0M138 442h0M125.2 453h0M90.7 474h0M120.1 461h0M153.7 471h0M91.9 468h0M135.9 427h0M125.9 466h0M151.7 471h0M87.5 470h0M124.6 466h0M115.8 455h0M128.5 455h0M114.6 414h0M130.1 429h0M95.7 436h0M108.7 433h0M132.9 416h0M142.6 443h0M149.3 463h0M119.6 448h0M122.4 415h0M145.4 462h0M137.1 465h0M100.5 473h0M90.2 477h0M84.3 373h0M83.3 507h0M83.8 396h0M83.4 347h0M98.1 439h0M98.5 426h0M97.9 437h0M103 461h0M103.4 407h0M103.9 455h0M81.2 506h0M81.3 418h0M152.5 324h0M97.2 438h0M96.7 466h0M97.3 475h0M96.7 414h0M115.5 565h0M115.5 466h0M115.6 467h0M115.1 310h0M74 485h0M73.9 414h0M73.8 386h0M74.1 493h0M94 354h0M94.6 354h0M94 480h0M111.8 358h0M81.9 351h0M147.7 378h0M161.5 451h0M73.9 401h0M162.4 377h0M114.2 427h0M145.1 375h0M108.6 464h0M136.9 323h0M108.4 419h0M82 347h0M116.5 381h0M94.9 455h0M111.8 431h0M119.8 433h0M147.4 389h0M122.3 457h0M86.8 370h0M157 401h0M116.6 378h0M127.2 403h0M159.2 370h0M158.2 358h0M109.8 371h0M85.4 428h0M101.5 436h0M139.7 428h0M103.3 414h0M91.1 404h0" stroke="#ff0000" stroke-width="4.2" stroke-linecap="round"/><path d="M111.4 326V359M128.7 407V424M159.2 321V346M92.1 346V389" stroke="#00ff00" stroke-width="1.1" marker-start="url(#kg)" marker-mid="url(#kg)" marker-end="url(#kg)"/><path d="M111.4 343h0M128.7 415h0M159.2 333h0M92.1 367h0" stroke="#00ff00" stroke-width="4.2" stroke-linecap="round"/><path d="M145.4 368V393M123 387V419M146.6 349V365M90 314V401M129.3 409V425M122.2 320V386M115.3 292V342M142.2 483V517M116.7 414V448M93.6 427V454" stroke="#0000ff" stroke-width="1.1" marker-start="url(#kb)" marker-mid="url(#kb)" marker-end="url(#kb)"/><path d="M145.4 381h0M123 403h0M146.6 357h0M90 357h0M129.3 417h0M122.2 353h0M115.3 317h0M142.2 500h0M116.7 431h0M93.6 441h0" stroke="#0000ff" stroke-width="4.2" stroke-linecap="round"/></g>
<g clip-path="url(#cB2)" fill="none"><path d="M223 417V440M291.6 365V390M221.3 429V445M291.3 324V356M263.2 429V447M225.4 313V343M282.4 343V359M237.5 424V448M226 335V358M295 348V375M234.8 389V419M294.7 398V418M233 417V433M261.9 345V361M217.2 385V411M236.2 401V432M270.1 375V392M282.1 331V354M287.6 345V376M292.1 325V352M234 343V359M205 417V436M259.8 330V357M203.7 350V372M255 349V382M259.8 393V426M203.9 359V377M252.8 388V406M261.9 404V422M261.3 405V424M205.6 337V369M283.1 381V410M285.4 371V397M239 359V378M227.4 374V400M237.8 381V410M256.1 385V409M238.8 346V373M268.9 355V377M261.9 320V342M208.9 391V412M261.4 424V456M260.3 412V429M276.3 349V382M236 403V427M209 297V330M258.1 409V436M289.9 412V443M270 420V447M213.4 391V408M279.9 357V385M212.1 461V483M234.6 377V405M282.5 316V349M205.7 348V377M254.4 390V407M215.8 382V398M215.1 385V407M294.6 387V417M222.3 354V383M273.6 362V390M225.5 369V393M278.7 355V376M250.6 308V330M237 414V435M249 435V468M251.7 353V378M292.4 351V368M226.3 474V501M228.6 354V384M215.2 426V444M278.3 433V458M254 353V375M254.1 305V323M255.7 425V457M287.8 356V378M295.6 330V359M244.4 403V424M252.2 353V369M226.1 376V394M285.4 452V475M247.4 349V377M252.3 383V414M268.4 394V425M215.9 346V379M284.7 382V414M213.6 436V469M223.3 416V433M275.5 398V420M228.8 342V359M256.4 438V463M203.5 306V338M256.9 392V424M239.2 397V431M237.8 388V419M260.5 373V396M241.9 445V461M216.7 399V420M206.5 333V360M204.8 391V423M213.1 405V434M248 359V381M222.2 308V325M264.6 395V414M270.4 416V448M207.9 368V391M221.8 415V440M228 426V452M280.6 371V400M294 400V425M237.4 374V407M268.1 362V395M249.7 364V389M267.5 362V394M236.8 385V418M227.1 336V358M243.9 379V412M225.4 347V371M244.9 387V420M243.8 425V442M262.5 374V391M233.8 408V427M285.3 279V307M206.5 396V420M253.7 385V409M222.5 393V409M230.5 425V442M292.7 439V465M248.3 343V372M234.5 370V387M293.1 371V403M206.1 404V434M265.9 371V393M293.8 353V379M229.9 366V394M268.6 390V412M270.3 386V418M245.9 295V325M291.6 397V420M228 358V389M242.3 315V341M262.6 344V368M290.8 406V430M255.1 386V402M225.5 376V405M273.9 358V388M232 407V431M224.1 399V425M234.4 393V423M262.6 349V381M207.9 482V501M258.6 367V385M209.4 393V411M244.1 384V417M210.4 362V387M211.6 399V415M290.5 402V422M222.8 366V388M271.6 362V391M253.6 368V388M263.5 359V386M272.8 333V359M212.6 403V433M240.2 314V333M211 294V321M219.2 491V508M215.9 474V502M216.7 285V311M234 356V384M285.5 339V362M229.9 367V397M263 461V490M295.8 358V376M278.3 351V370M246.1 357V382M283.8 383V407M264.4 380V412M223.4 342V361M258.5 343V365M251.5 455V477M212.2 301V333M214.6 442V460M240.5 346V368M251 376V406M269 346V373M268.1 339V370M210.6 344V364M287 330V358M262.5 452V476M288 350V369M219 422V444M256.5 453V469M289.6 365V390M246.7 298V316M279.2 341V363M239.3 359V384M263.1 485V506M293.2 478V511M287.8 393V417M261.9 415V437M214.6 351V366M232.8 359V378M248.6 433V464M258.7 434V451M273.3 417V436M222.3 339V359M272.1 372V394M235.6 318V345M258.2 346V371M266 453V473M282.8 404V428M208.9 337V362M207 372V401M259.7 368V396M212.9 392V410M212.9 370V395M227 342V364M261.8 379V395M215.3 390V422M229.7 379V412M237.4 373V394M207.9 294V337M208 465V486M207.9 280V323M207.6 453V480M214.5 382V409M213.6 449V476M214.4 419V456M214.4 339V381M288.5 414V442M288.2 465V509M288.3 405V455M249.6 511V548M250.2 441V493M260.4 473V498M260.4 431V482M259.7 491V529M239.7 457V512M398.1 454V482M363.6 424V455M374.7 416V432M360.8 384V409M380.1 410V426M331.9 352V368M426.1 363V397M366.4 322V350M332.1 431V455M392 352V382M403.3 436V458M424.6 372V399M387.9 327V360M373.7 351V368M415.7 374V394M403.3 394V411M344.4 407V440M419.5 327V352M399.7 409V435M397.3 314V347M372.3 367V392M396.8 383V405M339 337V363M345.4 381V411M387.2 336V370M420.4 391V411M384 462V492M365.8 419V443M373.5 420V436M346.1 373V392M427.2 471V493M403.1 373V398M363.8 365V393M364.4 303V327M334 386V404M372.4 366V390M369.2 361V390M362.4 381V402M414.3 368V387M358.2 296V326M362.4 351V377M350.5 313V341M411.5 408V438M405.1 345V375M341 389V413M368.2 403V429M388.5 368V387M382.1 361V389M332.8 308V335M384.8 388V414M410.3 396V429M374 406V436M367.1 389V413M361.8 321V337M408.5 310V336M354.5 373V391M355.5 425V450M400.1 391V406M355.7 365V383M421.8 336V360M356.7 439V469M353.9 274V307M365.4 366V384M363 368V395M423 396V426M418.5 378V407M357.5 359V384M422.6 427V451M367.8 387V411M360.2 354V378M348.2 358V381M332 376V406M384.2 425V454M354.4 359V379M415.1 378V408M343 399V432M408.2 380V397M386.5 336V361M409.2 345V367M347.4 378V411M424.7 392V417M369.7 388V408M404.5 432V448M410.3 381V413M392.7 402V417M370.5 336V366M394.7 444V464M347.9 382V402M382.9 412V443M380.9 430V461M411.1 370V402M411.5 395V417M396.5 367V398M366.7 363V382M398.8 364V392M429.5 425V457M362.5 420V450M391.9 318V335M413.3 402V432M364.5 372V393M407.4 374V399M367.9 372V402M423.3 448V475M378.8 345V363M382.5 415V434M369.5 386V419M359.5 423V443M397.4 437V463M332.4 359V387M366.1 387V417M349.4 361V385M366.6 341V360M429.6 456V481M392 347V374M356.1 409V427M414.3 419V436M365.5 442V461M398.7 416V434M378.7 350V369M347.5 295V326M384.2 372V405M411.9 353V368M333 305V326M378 376V406M428.4 412V440M420.6 374V401M332.9 347V363M357.2 411V428M388.1 365V391M348.6 432V458M409.8 366V399M354.5 345V364M417.6 413V428M381.6 377V410M368.3 435V467M389.4 423V450M334 489V530M333.9 445V474M359.3 472V501M358.9 261V316M359 499V521M393 376V404M392.6 405V457M393 411V442M393.7 340V369M425.8 480V500M426.1 393V428M408.5 420V443M408 542V567M407.8 346V398M410.8 493V536M410.5 338V369M410.2 433V456M410.9 416V436M543.8 443V474M550 359V399M498.8 368V406M525.3 370V403M477.4 365V387M483.3 369V389M523.3 430V450M529 415V436M483.2 369V405M523.4 366V392M504.4 417V453M564.5 468V507M535.1 433V459M554.7 293V312M553.3 423V451M522.1 425V450M525.5 462V502M500.6 406V425M502 400V420M506.2 408V430M511.3 418V450M484.5 353V386M516.8 348V387M539 445V478M544.4 379V407M549.1 413V450M520.9 398V436M559.5 348V389M531.2 407V443M561.6 369V407M560.6 355V389M513.5 402V439M496.3 392V432M542.1 369V387M543.4 387V408M518.2 408V447M500.5 281V308M563.5 400V428M518.4 413V452M485.6 378V401M524.5 416V447M502.1 370V400M490.3 359V392M546.7 380V402M508.2 346V381M490.7 372V413M562.8 437V462M480.7 366V397M521.7 418V444M506.7 404V440M495.7 398V435M523.5 406V441M526.6 410V432M532.2 374V396M551.6 453V476M523.8 431V457M527.8 401V424M480.3 329V357M554.3 368V396M554.7 362V384M541.5 392V420M550.1 343V364M530.4 443V472M528.7 373V397M491.3 378V413M559.7 370V406M480.4 327V366M551.5 367V405M489.3 387V408M529 387V427M546.1 315V350M558.3 432V470M525 439V470M536.2 412V430M542.1 354V374M536.6 410V453M513.8 408V447M488.9 375V404M502.1 399V440M540.7 424V453M508.6 352V388M532.6 330V362M507.6 369V405M505.7 485V524M519.5 435V471M511.8 346V384M497.6 358V398M493.7 344V385M541.2 393V418M558.6 370V408M479.4 337V377M521.5 392V424M532.6 356V378M530.9 428V459M490.2 370V389M541.9 490V511M514.7 319V354M560.1 436V460M476 312V332M506.8 322V361M526.2 444V483M509.9 333V355M566.9 450V486M492.4 386V428M559.4 323V355M490.2 380V420M525.7 383V417M557.5 314V354M556.6 451V475M499.2 404V438M501.1 390V427M520.7 446V486M520 422V456M544.9 414V445M540.8 415V445M545.9 455V474M545.3 390V417M544.3 493V512M522 417V437M476 371V398M539.9 400V437M531.9 440V464M529.8 364V405M521.1 421V457M532.6 434V467M528.1 387V418M528.2 398V440M476.6 352V393M499 410V437M558.5 447V489M564.4 455V495M564.3 362V397M528.2 353V392M518.3 355V384M494.5 372V411M512.2 389V411M541.6 449V481M524.1 354V373M539.7 359V386M541.6 336V369M478.9 356V395M548.1 353V379M501.5 416V454M500.4 389V407M489.1 381V412M479.9 368V397M540.3 397V425M525.9 411V448M527.4 392V424M524.2 429V457M560.4 351V380M511.5 383V412M507 460V483M515.7 391V429M497.3 410V443M534.4 476V504M522.8 405V445M546.9 426V455M504.7 342V383M566.6 334V370M530.8 378V409M478.7 378V401M525.3 436V470M565.7 423V450M565 477V521M491.3 399V430M491.3 419V458M491.3 368V417M529.3 470V513M529 335V365M528.7 485V529M529.3 437V478M543.4 343V385M553.5 440V462M506.9 476V512M507.1 407V441M506.5 393V423M507.4 407V428M497.7 472V517M553.9 420V444M554.8 436V465M553.7 540V580M559.9 444V495M498.7 403V450M498.6 411V435M498.5 423V462M498.4 458V482M540.6 478V531M540.1 471V510M541.2 282V335M494.8 443V497M494.6 452V464M494.3 453V465M489.1 404V418M499.6 456V469M500.5 467V483M501.2 473V485M492.4 456V466M497.3 456V469M490.4 415V427M490 431V441M493.2 465V480M498.8 452V467M491.7 445V458M491.1 439V451M497 457V469M492 451V461M501.2 462V478M495.5 460V474M491.8 422V439M500.4 455V465M489.1 415V426M490.5 437V448M493.8 425V435M500.5 459V472M489.9 445V460M502.4 484V495M490.8 405V417M489.5 412V428M490.3 425V443M502 474V490" stroke="#00ff00" stroke-width="1.1" marker-start="url(#kg)" marker-mid="url(#kg)" marker-end="url(#kg)"/><path d="M223 429h0M291.6 378h0M221.3 437h0M291.3 340h0M263.2 438h0M225.4 328h0M282.4 351h0M237.5 436h0M226 347h0M295 362h0M234.8 404h0M294.7 408h0M233 425h0M261.9 353h0M217.2 398h0M236.2 417h0M270.1 383h0M282.1 342h0M287.6 361h0M292.1 338h0M234 351h0M205 426h0M259.8 343h0M203.7 361h0M255 366h0M259.8 410h0M203.9 368h0M252.8 397h0M261.9 413h0M261.3 414h0M205.6 353h0M283.1 396h0M285.4 384h0M239 368h0M227.4 387h0M237.8 395h0M256.1 397h0M238.8 360h0M268.9 366h0M261.9 331h0M208.9 401h0M261.4 440h0M260.3 421h0M276.3 365h0M236 415h0M209 314h0M258.1 422h0M289.9 427h0M270 433h0M213.4 400h0M279.9 371h0M212.1 472h0M234.6 391h0M282.5 333h0M205.7 363h0M254.4 398h0M215.8 390h0M215.1 396h0M294.6 402h0M222.3 368h0M273.6 376h0M225.5 381h0M278.7 366h0M250.6 319h0M237 424h0M249 452h0M251.7 365h0M292.4 360h0M226.3 487h0M228.6 369h0M215.2 435h0M278.3 446h0M254 364h0M254.1 314h0M255.7 441h0M287.8 367h0M295.6 344h0M244.4 414h0M252.2 361h0M226.1 385h0M285.4 464h0M247.4 363h0M252.3 399h0M268.4 409h0M215.9 362h0M284.7 398h0M213.6 452h0M223.3 424h0M275.5 409h0M228.8 350h0M256.4 450h0M203.5 322h0M256.9 408h0M239.2 414h0M237.8 404h0M260.5 385h0M241.9 453h0M216.7 409h0M206.5 346h0M204.8 407h0M213.1 420h0M248 370h0M222.2 317h0M264.6 404h0M270.4 432h0M207.9 380h0M221.8 428h0M228 439h0M280.6 385h0M294 412h0M237.4 391h0M268.1 379h0M249.7 377h0M267.5 378h0M236.8 402h0M227.1 347h0M243.9 395h0M225.4 359h0M244.9 404h0M243.8 434h0M262.5 382h0M233.8 417h0M206.5 408h0M253.7 397h0M222.5 401h0M230.5 433h0M292.7 452h0M248.3 357h0M234.5 378h0M293.1 387h0M206.1 419h0M265.9 382h0M293.8 366h0M229.9 380h0M268.6 401h0M270.3 402h0M245.9 310h0M291.6 409h0M228 373h0M242.3 328h0M262.6 356h0M290.8 418h0M255.1 394h0M225.5 390h0M273.9 373h0M232 419h0M224.1 412h0M234.4 408h0M262.6 365h0M207.9 491h0M258.6 376h0M209.4 402h0M244.1 400h0M210.4 375h0M211.6 407h0M290.5 412h0M222.8 377h0M271.6 377h0M253.6 378h0M263.5 372h0M272.8 346h0M212.6 418h0M240.2 324h0M211 308h0M219.2 499h0M215.9 488h0M234 370h0M285.5 350h0M229.9 382h0M263 475h0M295.8 367h0M278.3 361h0M246.1 369h0M283.8 395h0M264.4 396h0M223.4 352h0M258.5 354h0M251.5 466h0M212.2 317h0M214.6 451h0M240.5 357h0M251 391h0M269 359h0M268.1 355h0M210.6 354h0M287 344h0M262.5 464h0M288 359h0M219 433h0M256.5 461h0M289.6 377h0M246.7 307h0M279.2 352h0M239.3 371h0M263.1 496h0M293.2 494h0M287.8 405h0M261.9 426h0M214.6 359h0M232.8 369h0M248.6 449h0M258.7 442h0M273.3 427h0M222.3 349h0M272.1 383h0M235.6 331h0M258.2 358h0M266 463h0M282.8 416h0M208.9 349h0M207 386h0M259.7 382h0M212.9 401h0M212.9 383h0M227 353h0M261.8 387h0M215.3 406h0M229.7 395h0M237.4 384h0M207.9 316h0M208 475h0M207.6 466h0M214.5 395h0M213.6 462h0M214.4 437h0M214.4 360h0M288.5 428h0M288.2 487h0M288.3 430h0M249.6 530h0M250.2 467h0M260.4 485h0M260.4 457h0M259.7 510h0M239.7 485h0M398.1 468h0M363.6 439h0M374.7 424h0M360.8 396h0M380.1 418h0M331.9 360h0M426.1 380h0M366.4 336h0M332.1 443h0M392 367h0M403.3 447h0M424.6 386h0M387.9 344h0M373.7 360h0M415.7 384h0M403.3 402h0M344.4 424h0M419.5 339h0M399.7 422h0M397.3 331h0M372.3 379h0M396.8 394h0M339 350h0M345.4 396h0M387.2 353h0M420.4 401h0M384 477h0M365.8 431h0M373.5 428h0M346.1 383h0M427.2 482h0M403.1 385h0M363.8 379h0M364.4 315h0M334 395h0M372.4 378h0M369.2 375h0M362.4 391h0M414.3 378h0M358.2 311h0M362.4 364h0M350.5 327h0M411.5 423h0M405.1 360h0M341 401h0M368.2 416h0M388.5 378h0M382.1 375h0M332.8 321h0M384.8 401h0M410.3 413h0M374 421h0M367.1 401h0M361.8 329h0M408.5 323h0M354.5 382h0M355.5 438h0M400.1 398h0M355.7 374h0M421.8 348h0M356.7 454h0M365.4 375h0M363 381h0M423 411h0M418.5 392h0M357.5 371h0M422.6 439h0M367.8 399h0M360.2 366h0M348.2 369h0M332 391h0M384.2 440h0M354.4 369h0M415.1 393h0M343 416h0M408.2 389h0M386.5 348h0M409.2 356h0M347.4 395h0M424.7 405h0M369.7 398h0M404.5 440h0M410.3 397h0M392.7 409h0M370.5 351h0M394.7 454h0M347.9 392h0M382.9 428h0M380.9 446h0M411.1 386h0M411.5 406h0M396.5 382h0M366.7 372h0M398.8 378h0M429.5 441h0M362.5 435h0M391.9 327h0M413.3 417h0M364.5 383h0M407.4 386h0M367.9 387h0M423.3 462h0M378.8 354h0M382.5 425h0M369.5 402h0M359.5 433h0M397.4 450h0M332.4 373h0M366.1 402h0M349.4 373h0M366.6 350h0M429.6 468h0M392 360h0M356.1 418h0M414.3 428h0M365.5 452h0M398.7 425h0M378.7 360h0M347.5 311h0M384.2 388h0M411.9 360h0M333 315h0M378 391h0M428.4 426h0M420.6 387h0M332.9 355h0M357.2 419h0M388.1 378h0M348.6 445h0M409.8 382h0M354.5 354h0M417.6 420h0M381.6 394h0M368.3 451h0M389.4 437h0M334 510h0M333.9 460h0M359.3 487h0M359 510h0M393 390h0M392.6 431h0M393 427h0M393.7 354h0M425.8 490h0M426.1 410h0M408.5 432h0M408 555h0M407.8 372h0M410.8 515h0M410.5 353h0M410.2 444h0M410.9 426h0M543.8 459h0M550 379h0M498.8 387h0M525.3 387h0M477.4 376h0M483.3 379h0M523.3 440h0M529 426h0M483.2 387h0M523.4 379h0M504.4 435h0M564.5 488h0M535.1 446h0M553.3 437h0M522.1 437h0M525.5 482h0M500.6 416h0M502 410h0M506.2 419h0M511.3 434h0M484.5 370h0M516.8 367h0M539 462h0M544.4 393h0M549.1 431h0M520.9 417h0M559.5 368h0M531.2 425h0M561.6 388h0M560.6 372h0M513.5 420h0M496.3 412h0M542.1 378h0M543.4 398h0M518.2 428h0M563.5 414h0M518.4 432h0M485.6 389h0M524.5 432h0M502.1 385h0M490.3 375h0M546.7 391h0M508.2 363h0M490.7 393h0M562.8 449h0M480.7 381h0M521.7 431h0M506.7 422h0M495.7 417h0M523.5 423h0M526.6 421h0M532.2 385h0M551.6 464h0M523.8 444h0M527.8 413h0M480.3 343h0M554.3 382h0M554.7 373h0M541.5 406h0M550.1 354h0M530.4 458h0M528.7 385h0M491.3 395h0M559.7 388h0M480.4 347h0M551.5 386h0M489.3 398h0M529 407h0M546.1 332h0M558.3 451h0M525 454h0M536.2 421h0M542.1 364h0M536.6 432h0M513.8 427h0M488.9 389h0M502.1 419h0M540.7 439h0M508.6 370h0M532.6 346h0M507.6 387h0M505.7 504h0M519.5 453h0M511.8 365h0M497.6 378h0M493.7 365h0M541.2 405h0M558.6 389h0M479.4 357h0M521.5 408h0M532.6 367h0M530.9 444h0M490.2 380h0M541.9 500h0M514.7 336h0M560.1 448h0M476 322h0M506.8 341h0M526.2 464h0M509.9 344h0M566.9 468h0M492.4 407h0M559.4 339h0M490.2 400h0M525.7 400h0M557.5 334h0M556.6 463h0M499.2 421h0M501.1 409h0M520.7 466h0M520 439h0M544.9 429h0M540.8 430h0M545.9 464h0M545.3 403h0M544.3 502h0M522 427h0M476 385h0M539.9 418h0M531.9 452h0M529.8 385h0M521.1 439h0M532.6 451h0M528.1 403h0M528.2 419h0M476.6 372h0M499 423h0M558.5 468h0M564.4 475h0M564.3 379h0M528.2 373h0M518.3 370h0M494.5 392h0M512.2 400h0M541.6 465h0M524.1 363h0M539.7 373h0M541.6 353h0M478.9 376h0M548.1 366h0M501.5 435h0M500.4 398h0M489.1 396h0M479.9 383h0M540.3 411h0M525.9 429h0M527.4 408h0M524.2 443h0M560.4 366h0M511.5 398h0M507 472h0M515.7 410h0M497.3 427h0M534.4 490h0M522.8 425h0M546.9 441h0M504.7 363h0M566.6 352h0M530.8 393h0M478.7 389h0M525.3 453h0M565.7 437h0M565 499h0M491.3 415h0M491.3 439h0M491.3 393h0M529.3 491h0M529 350h0M528.7 507h0M529.3 457h0M543.4 364h0M553.5 451h0M506.9 494h0M507.1 424h0M506.5 408h0M507.4 418h0M497.7 495h0M553.9 432h0M554.8 450h0M553.7 560h0M559.9 469h0M498.7 426h0M498.6 423h0M498.5 442h0M498.4 470h0M540.6 505h0M540.1 491h0M541.2 308h0M494.8 470h0M494.6 458h0M494.3 459h0M489.1 411h0M499.6 463h0M500.5 475h0M501.2 479h0M492.4 461h0M497.3 462h0M490.4 421h0M490 436h0M493.2 473h0M498.8 460h0M491.7 451h0M491.1 445h0M497 463h0M492 456h0M501.2 470h0M495.5 467h0M491.8 431h0M500.4 460h0M489.1 420h0M490.5 442h0M493.8 430h0M500.5 465h0M489.9 452h0M502.4 489h0M490.8 411h0M489.5 420h0M490.3 434h0M502 482h0" stroke="#00ff00" stroke-width="4.2" stroke-linecap="round"/><path d="M290.8 420V445M295.5 358V379M260 352V381M211.2 353V386M224.7 424V441M285.3 362V388M246.4 411V426M268.4 412V430M219.9 358V386M234.8 343V359M248.9 371V403M257.4 410V431M224.8 384V408M218.3 349V369M283.2 372V405M281.6 346V377M267.2 397V429M250.7 450V476M273.4 290V312M232.6 420V441M295.5 298V327M216.1 337V366M253.5 471V534M246.7 405V438M224.6 353V377M232.3 443V475M272.3 313V336M271.8 395V412M284.1 353V369M290.9 349V371M205.8 344V439M240.4 351V377M207.8 401V418M205.6 401V432M218.7 382V405M274.3 385V417M252.1 506V537M226.1 477V505M260.3 447V474M293.8 422V451M293.9 380V410M285.9 350V380M232.8 335V365M283.3 367V384M226.3 397V416M295.1 367V400M214.9 438V469M240.9 435V454M223.6 367V392M260.2 406V431M275.3 374V395M273.9 426V450M262.8 332V364M244.7 368V385M264.6 402V424M209.4 379V406M214.4 364V390M262.5 411V427M212.3 404V433M292.4 450V467M266.6 349V381M210.6 420V530M273.9 381V408M249.1 309V341M214.2 482V514M254.4 401V432M226.9 454V485M213.2 368V386M257.9 437V467M250.9 380V402M266.3 393V411M210.8 430V458M251.8 314V344M243 348V370M230.9 402V420M235 348V374M226.4 374V395M277.5 484V513M240.9 374V398M220.9 358V381M241 355V379M238.1 393V425M245.6 328V353M294.7 396V413M256.9 446V475M257.5 433V462M225.6 401V423M281.9 388V404M237.4 389V409M289.3 374V401M222.7 406V423M274.4 366V390M251.1 285V316M259.6 460V480M282.6 347V375M252.5 485V504M292.6 480V505M229 443V468M217.2 391V407M257.2 395V419M225.5 401V421M282 341V457M274.6 352V378M282.5 379V412M243.1 407V428M244.7 411V432M251.2 366V396M269.7 388V418M212.1 345V367M229.7 380V401M294 394V423M273.2 332V352M232.6 398V419M289.1 445V466M219.2 440V456M277.1 406V426M288.9 374V401M203.6 383V412M228.7 364V385M248.5 353V371M268 379V408M208.4 346V377M269.5 360V382M243.3 466V488M278.2 378V400M275.1 438V469M219 370V397M249.4 510V532M224.3 373V405M274.7 336V367M235.5 464V486M243.3 394V424M239.2 419V440M267.4 353V372M288.1 364V380M208.2 416V445M230.8 418V442M282.2 338V368M290.4 447V471M215.8 395V422M255.1 340V367M288.7 354V385M260.3 402V421M281.9 401V417M241 401V462M207.3 342V414M295.7 369V397M257.2 388V419M270.7 389V453M238.8 371V397M228.4 332V360M223.7 389V417M218 384V404M217.6 372V401M235.8 453V481M231.5 513V532M239.3 376V404M212.7 370V435M258.9 407V422M287.6 341V357M242.6 377V406M213.1 393V417M203.4 427V444M280.1 375V405M240.5 393V410M290 422V452M266.2 333V353M287.5 449V470M219.3 444V508M255.7 429V450M277.7 387V420M262.9 408V450M262.1 405V433M262.6 308V358M262.1 488V527M266.1 296V345M267.6 554V583M266.6 534V575M253.2 510V559M253.7 402V456M253.8 453V477M210.3 401V435M211 480V531M210.1 531V562M209.5 461V494M282.6 538V572M283.6 396V437M283.2 470V520M283.3 514V541M282.7 386V438M260.2 485V511M260 470V500M259.4 544V595M205.8 402V437M206.8 515V546M205.5 477V519M206.1 382V410M268.8 488V534M269 429V477M388.2 335V392M374 396V424M346.1 418V435M345.1 421V444M365.4 437V462M336.3 342V360M332.3 388V410M421.6 299V318M336.5 456V481M409.8 408V435M335.6 345V367M366.7 342V366M365.3 417V437M391.9 399V419M332.4 337V364M383.2 437V455M403.7 413V434M410.2 417V444M419.9 391V411M411.5 451V470M428.6 330V358M415.6 417V436M340.8 360V389M398.6 417V434M385.8 400V421M400.7 434V467M337.5 494V511M359.8 365V381M424 431V463M340.5 380V400M367.2 474V505M425.6 430V461M399.3 357V382M366.1 362V452M355.2 431V459M364 298V322M401.2 386V418M423.4 453V473M375.6 432V458M348.3 438V455M352.4 370V403M342.7 395V415M343.6 347V378M401.7 422V454M415.3 379V402M379.9 348V373M409.7 447V475M331.9 479V495M425.3 392V413M389.5 348V379M390.9 380V409M348 409V426M415.5 370V401M371.6 350V380M359.6 485V516M398.7 397V424M368.3 442V468M399.9 398V415M340.4 423V454M332.3 399V420M345.3 432V462M357.8 392V413M350.1 413V440M398.8 424V455M395.2 397V419M400.6 415V444M354.5 401V417M402.8 388V406M375 371V394M382.2 419V445M374 411V428M401.4 414V440M413.5 464V496M344 376V407M353.3 435V458M359.1 459V484M425.1 444V468M351.3 374V392M429.2 407V423M383.7 381V402M395.1 304V401M363.2 403V436M413.7 440V461M420.7 370V403M351.6 346V371M392.5 421V450M414.8 522V545M368 358V392M415 410V426M403.7 445V469M349.4 344V366M403.8 493V523M403.1 481V499M413.4 371V394M428.9 367V386M371.4 371V452M374 339V368M389.7 376V398M339.3 380V397M421.2 414V441M401.2 363V394M382 369V400M339.2 419V447M400.8 426V458M405.7 412V438M387.3 415V448M375.8 430V463M376.3 374V407M384 364V390M406.4 397V419M375 341V377M381.2 358V377M343 352V384M347.5 318V338M385.1 375V409M335.2 415V442M387 378V405M347.4 465V488M396 412V445M339.9 406V437M420.1 373V401M402.7 395V420M370.2 418V435M379.7 444V464M396.4 331V358M356.7 486V507M423.5 491V509M403.1 392V417M346.1 377V396M424.7 450V478M413 464V482M366.2 389V419M427.7 409V437M410.7 390V413M401.9 374V390M366.1 345V377M417.2 379V409M383.1 399V419M424.7 306V407M384.7 476V494M349.3 301V317M337.7 408V437M419.7 343V376M347 436V452M339.4 362V381M377.1 347V365M373.3 378V395M413.7 337V359M378.5 380V414M335.8 334V361M362.7 367V391M354.2 325V352M403.4 399V516M406.4 440V471M338.9 369V395M411.1 420V444M402.9 431V453M409.1 327V348M367.5 380V401M401.2 430V451M425.1 349V394M360.7 435V456M377.4 310V330M389.9 508V527M420.4 368V388M395.1 461V494M375.6 363V394M346 372V394M395.8 374V401M386.4 450V471M366.4 345V374M394.8 403V421M336.1 422V449M334.5 296V360M420.3 341V372M405.8 359V380M392.5 445V470M359 402V426M414.2 380V406M371.5 360V391M350.6 378V459M411.2 433V456M389.5 435V467M367.2 410V436M411 410V436M348.7 369V392M401.5 384V413M361.1 361V385M335.9 446V476M397.6 433V451M411.9 464V487M405.3 355V374M398.4 399V419M387.4 417V435M423.3 408V431M425 456V486M402 440V466M357.7 383V412M389.7 405V507M359.6 346V362M401.9 460V482M336.4 441V464M338.1 367V388M352.8 397V424M377.9 425V443M342.4 403V421M355 335V355M367.6 390V414M415 385V403M344.3 404V435M397.6 402V418M340.5 366V382M411.4 427V457M333.7 415V447M364.6 409V434M357.7 448V468M401.3 344V423M354.7 345V375M408.3 342V373M395 428V450M410.3 461V482M424.4 421V479M422 407V431M421.2 397V421M341.5 466V498M345.6 457V491M349.3 539V570M349 457V500M348.8 499V541M421.8 520V561M405.8 385V437M405.8 430V461M406.4 450V500M405.7 467V508M370.5 515V541M370.7 480V514M369.8 439V472M422.2 507V526M421.3 519V553M420.8 365V405M421.1 450V500M421.4 477V524M421.4 513V544M421.7 548V582M421.3 433V453M420.7 526V578M420.3 486V526M420.4 356V395M420.8 502V547M408.5 506V533M407.8 399V427M408.4 416V448M407.9 296V330M480.2 325V347M484.6 353V385M476.2 336V360M485.4 361V399M480.3 347V386M477.6 323V361M476.4 328V348M479.5 339V360M477.4 333V363M485.3 347V387M490.4 323V350M481.6 348V377M477.8 330V351M489.1 371V391M479 334V360M482.5 306V336M488.1 301V326M489.7 364V396M480.3 341V373M482.1 324V347M483.7 342V372M487.6 361V397M484.8 366V400M478.6 363V404M485.3 344V376M489.6 348V390M480.8 305V333M481.1 362V405M477.6 348V391M481.9 331V354M483.7 316V356M484.3 370V399M482.2 340V378M488.2 291V315M481.5 359V394M479.7 317V347M484.4 345V377M484.4 356V398M476.1 370V394M479 365V394M480.2 328V360M481.8 359V398M489.5 356V393M485 362V393M478.7 358V389M483.4 332V356M481.7 365V406M486.4 356V393M483.7 355V384M479.9 313V354M488.7 345V372M483 366V393M476.7 369V392M480.9 345V368M485.1 367V402M490.9 353V394M483.2 334V354M482.3 346V371M490.1 316V348M489.6 353V395M491 360V398M487.1 319V360M475.9 356V392M476.9 360V390M488.2 354V373M475.9 337V360M478 361V400M482 361V397M484.2 374V396M491.6 340V382M476.9 355V384M475.9 336V378M484.9 336V356M478 363V396M480.8 368V392M491.5 374V394M480.2 360V400M490.4 340V380M481 363V390M487.4 358V391M476.1 298V319M477 283V323M477.7 346V385M487.3 345V364M488.4 361V392M479.7 298V327M477.8 323V358M486.9 368V387M486.7 353V387M486.8 370V389M490 354V394M477.2 312V339M482.3 316V358M477.3 324V353M475.8 338V363M478.7 312V349M487.1 337V379M482.5 355V392M478.4 353V380M475.7 357V381M483.9 309V332M487.4 326V351M490.8 359V394M478.3 312V346M476.6 354V373M477 362V403M485 345V380M481.8 340V376M491.4 359V377M487.6 355V388M481.2 344V375M482 360V379M559 374V406M506 452V487M543.6 406V440M512.7 392V412M550.1 412V429M503.1 389V425M497.9 395V416M516.7 435V466M549.2 413V448M541.9 379V414M522.5 430V450M524.2 427V460M514.3 423V445M512.3 353V369M564.8 394V423M510.1 410V430M544.8 390V410M497.5 370V396M559.1 429V462M492.7 372V394M530.1 445V469M500.3 375V407M548.4 356V382M549.6 429V447M542.8 433V451M494.2 410V445M522.8 449V485M509 362V382M529.4 381V399M502.6 391V426M524.9 434V458M499.5 371V405M548.2 390V427M547.3 387V402M531.8 418V437M503.4 426V457M512.2 425V445M554.9 380V466M502.9 442V459M531.6 385V407M521.3 412V429M553.2 405V441M513 473V500M513.8 411V442M554.2 388V425M500 418V438M536.7 382V409M534.9 439V459M502.5 355V430M520.8 453V478M552.2 430V459M564.9 441V466M548.9 373V410M495.7 374V399M512.2 383V417M562.5 376V404M512.7 379V412M552.1 397V419M550.3 456V475M565.7 392V452M523.6 441V462M505.8 430V464M509.3 396V411M499.7 362V385M548.8 383V458M492.9 379V410M497.1 399V436M546 415V439M565.8 344V375M515 433V466M526 452V487M515.2 472V498M505.5 379V402M550.1 407V429M515.9 379V415M521.2 419V454M566.3 381V404M543.9 347V379M536 369V404M528.6 396V430M559.1 437V459M549.5 427V465M549 375V400M526.9 433V463M544.7 370V450M502.1 374V401M517 404V440M492.6 399V435M536.4 375V402M545.6 424V442M511.6 390V422M526.9 415V450M520.4 396V427M563.2 375V408M556 411V434M551.6 421V444M500.4 449V484M561.6 369V405M551.8 350V369M500.7 414V446M517.3 419V443M559.8 371V397M551.9 370V392M494.6 414V434M547.4 411V432M526.2 348V373M521.6 441V470M529.4 448V477M555.4 397V430M556.5 363V391M533.6 367V400M500.2 436V457M546.7 457V493M517.3 391V413M498.5 414V445M556.7 413V443M533.2 379V398M550.2 405V442M504.4 362V385M538.1 391V418M547.6 432V467M507 441V457M560.9 441V471M496.6 342V371M506.3 407V442M512.7 348V417M500.7 404V436M551.9 411V429M550.5 413V439M503 388V422M525.3 403V421M507.4 401V430M492.2 402V436M507.2 417V446M556 406V442M518.5 367V385M527.3 409V437M556.9 425V447M526.3 389V423M543 419V440M519.8 419V437M511.6 428V446M552.2 385V415M536.6 415V442M541.6 445V464M511.4 447V473M542.4 410V430M559.6 483V502M496.3 370V396M557.7 383V405M556.8 370V406M501.5 394V413M515.7 437V463M514.1 391V408M565.2 488V518M523 370V399M562 410V441M563.9 380V416M526.9 457V480M506.9 429V464M559 370V391M543.5 406V441M530.4 443V504M526.8 386V405M565.5 395V414M541 349V384M493.2 405V426M513.5 416V451M502.9 418V438M493.3 327V454M503.4 435V461M536.2 456V473M552.6 415V447M529.4 334V354M560.7 392V493M550.7 412V449M554.8 417V449M535.5 408V436M506.2 414V449M546.9 431V453M548 392V416M539.8 370V434M493.1 379V401M529.9 361V386M556.5 314V445M494.8 360V393M551 391V420M552.1 409V436M514.1 378V409M552 385V410M561.5 435V456M538.1 413V438M548.5 395V419M501.1 380V400M556.8 409V441M533.8 470V492M499.1 406V432M562 386V411M502.4 461V477M525.6 401V418M549.7 380V407M503.3 408V440M523.8 401V418M544.6 461V492M544.2 366V385M545.1 503V523M564.2 381V405M537.3 397V428M491.8 405V429M556.3 426V451M511 489V505M524.2 456V487M519.9 422V447M510.2 408V426M532.6 414V433M550.5 378V410M531 415V448M521.8 403V427M527.3 420V444M531.1 394V414M494.2 427V448M491.3 330V361M491.4 386V421M552.3 363V410M552.5 327V366M552.4 319V353M551.9 376V414M551.9 419V472M520.2 395V414M520.7 451V493M520.9 433V486M555.8 341V390M556.2 292V342M556.5 414V444M557.1 398V424M556.2 480V510M555.7 456V492M505.4 338V382M505.6 352V385M505.8 472V521M505.2 457V477M501.5 419V442M501.7 344V366M501.9 319V364M502 333V361M500.9 382V408M529.6 367V417M529.9 366V405M529 522V543M529.4 419V466M529.6 434V474M529.3 478V501M493.2 339V385M493.4 408V437M493.3 399V436M542.6 412V459M541.7 491V541M542.3 535V565M541.7 429V465M541.6 394V419M535.8 355V395M535.9 420V446M536.3 294V321M535.8 384V423M537.7 487V538M537.8 372V413M537.3 393V444M538.2 368V389M498.2 315V364M498.6 351V374M498.7 279V315M498.3 411V465M498.4 441V460M498.1 345V374M553.4 396V440M554.6 504V555M554.1 434V486M554.3 386V415M554.3 392V417M554.9 414V460M519.3 512V558M518.7 440V481M519 503V546M519.7 339V381M509.6 341V359M510.5 324V378M509.5 492V516M509.6 498V545" stroke="#0000ff" stroke-width="1.1" marker-start="url(#kb)" marker-mid="url(#kb)" marker-end="url(#kb)"/><path d="M290.8 433h0M295.5 369h0M260 367h0M211.2 369h0M224.7 433h0M285.3 375h0M246.4 419h0M268.4 421h0M219.9 372h0M234.8 351h0M248.9 387h0M257.4 420h0M224.8 396h0M218.3 359h0M283.2 389h0M281.6 362h0M267.2 413h0M250.7 463h0M232.6 431h0M295.5 313h0M216.1 351h0M253.5 503h0M246.7 421h0M224.6 365h0M232.3 459h0M272.3 324h0M271.8 404h0M284.1 361h0M290.9 360h0M205.8 391h0M240.4 364h0M207.8 409h0M205.6 416h0M218.7 394h0M274.3 401h0M252.1 522h0M226.1 491h0M260.3 460h0M293.8 437h0M293.9 395h0M285.9 365h0M232.8 350h0M283.3 375h0M226.3 407h0M295.1 383h0M214.9 454h0M240.9 445h0M223.6 380h0M260.2 419h0M275.3 384h0M273.9 438h0M262.8 348h0M244.7 376h0M264.6 413h0M209.4 393h0M214.4 377h0M262.5 419h0M212.3 418h0M292.4 458h0M266.6 365h0M210.6 475h0M273.9 394h0M249.1 325h0M214.2 498h0M254.4 417h0M226.9 470h0M213.2 377h0M257.9 452h0M250.9 391h0M266.3 402h0M210.8 444h0M251.8 329h0M243 359h0M230.9 411h0M235 361h0M226.4 384h0M277.5 498h0M240.9 386h0M220.9 369h0M241 367h0M238.1 409h0M245.6 341h0M294.7 405h0M256.9 461h0M257.5 448h0M225.6 412h0M281.9 396h0M237.4 399h0M289.3 388h0M222.7 415h0M274.4 378h0M259.6 470h0M282.6 361h0M252.5 494h0M292.6 492h0M229 455h0M217.2 399h0M257.2 407h0M225.5 411h0M282 399h0M274.6 365h0M282.5 396h0M243.1 417h0M244.7 421h0M251.2 381h0M269.7 403h0M212.1 356h0M229.7 391h0M294 409h0M273.2 342h0M232.6 409h0M289.1 456h0M219.2 448h0M277.1 416h0M288.9 388h0M203.6 398h0M228.7 375h0M248.5 362h0M268 393h0M208.4 361h0M269.5 371h0M243.3 477h0M278.2 389h0M275.1 453h0M219 383h0M249.4 521h0M224.3 389h0M274.7 351h0M235.5 475h0M243.3 409h0M239.2 430h0M267.4 362h0M288.1 372h0M208.2 431h0M230.8 430h0M282.2 353h0M290.4 459h0M215.8 408h0M255.1 353h0M288.7 369h0M260.3 411h0M281.9 409h0M241 432h0M207.3 378h0M295.7 383h0M257.2 403h0M270.7 421h0M238.8 384h0M228.4 346h0M223.7 403h0M218 394h0M217.6 386h0M235.8 467h0M231.5 522h0M239.3 390h0M212.7 403h0M258.9 415h0M287.6 349h0M242.6 391h0M213.1 405h0M203.4 436h0M280.1 390h0M240.5 401h0M290 437h0M266.2 343h0M287.5 459h0M219.3 476h0M255.7 440h0M277.7 403h0M262.9 429h0M262.1 419h0M262.6 333h0M262.1 508h0M266.1 320h0M266.6 555h0M253.2 534h0M253.7 429h0M253.8 465h0M210.3 418h0M211 506h0M210.1 547h0M209.5 478h0M282.6 555h0M283.6 416h0M283.2 495h0M283.3 528h0M282.7 412h0M260.2 498h0M260 485h0M205.8 419h0M206.8 530h0M205.5 498h0M206.1 396h0M268.8 511h0M269 453h0M388.2 363h0M374 410h0M346.1 426h0M345.1 433h0M365.4 449h0M336.3 351h0M332.3 399h0M421.6 309h0M336.5 468h0M409.8 422h0M335.6 356h0M366.7 354h0M365.3 427h0M391.9 409h0M332.4 350h0M383.2 446h0M403.7 424h0M410.2 430h0M419.9 401h0M411.5 460h0M428.6 344h0M415.6 427h0M340.8 374h0M398.6 426h0M385.8 410h0M400.7 450h0M337.5 503h0M359.8 373h0M424 447h0M340.5 390h0M367.2 489h0M425.6 445h0M399.3 370h0M366.1 407h0M355.2 445h0M364 310h0M401.2 402h0M423.4 463h0M375.6 445h0M348.3 447h0M352.4 387h0M342.7 405h0M343.6 363h0M401.7 438h0M415.3 390h0M379.9 360h0M409.7 461h0M331.9 487h0M425.3 403h0M389.5 363h0M390.9 395h0M348 417h0M415.5 385h0M371.6 365h0M359.6 500h0M398.7 411h0M368.3 455h0M399.9 406h0M340.4 438h0M332.3 409h0M345.3 447h0M357.8 402h0M350.1 426h0M398.8 439h0M395.2 408h0M400.6 429h0M354.5 409h0M402.8 397h0M375 383h0M382.2 432h0M374 419h0M401.4 427h0M413.5 480h0M344 391h0M353.3 446h0M359.1 472h0M425.1 456h0M351.3 383h0M429.2 415h0M383.7 391h0M395.1 352h0M363.2 420h0M413.7 450h0M420.7 386h0M351.6 358h0M392.5 436h0M414.8 533h0M368 375h0M415 418h0M403.7 457h0M349.4 355h0M403.8 508h0M403.1 490h0M413.4 383h0M428.9 376h0M371.4 412h0M374 353h0M389.7 387h0M339.3 388h0M421.2 427h0M401.2 378h0M382 385h0M339.2 433h0M400.8 442h0M405.7 425h0M387.3 432h0M375.8 447h0M376.3 391h0M384 377h0M406.4 408h0M375 359h0M381.2 367h0M343 368h0M347.5 328h0M385.1 392h0M335.2 428h0M387 391h0M347.4 476h0M396 429h0M339.9 422h0M420.1 387h0M402.7 407h0M370.2 426h0M379.7 454h0M396.4 344h0M356.7 497h0M423.5 500h0M403.1 405h0M346.1 387h0M424.7 464h0M413 473h0M366.2 404h0M427.7 423h0M410.7 401h0M401.9 382h0M366.1 361h0M417.2 394h0M383.1 409h0M424.7 357h0M384.7 485h0M349.3 309h0M337.7 423h0M419.7 360h0M347 444h0M339.4 372h0M377.1 356h0M373.3 387h0M413.7 348h0M378.5 397h0M335.8 348h0M362.7 379h0M354.2 339h0M403.4 458h0M406.4 455h0M338.9 382h0M411.1 432h0M402.9 442h0M409.1 338h0M367.5 390h0M401.2 440h0M425.1 371h0M360.7 445h0M377.4 320h0M389.9 517h0M420.4 378h0M395.1 478h0M375.6 379h0M346 383h0M395.8 387h0M386.4 461h0M366.4 360h0M394.8 412h0M336.1 435h0M334.5 328h0M420.3 357h0M405.8 370h0M392.5 457h0M359 414h0M414.2 393h0M371.5 375h0M350.6 419h0M411.2 444h0M389.5 451h0M367.2 423h0M411 423h0M348.7 381h0M401.5 398h0M361.1 373h0M335.9 461h0M397.6 442h0M411.9 476h0M405.3 364h0M398.4 409h0M387.4 426h0M423.3 419h0M425 471h0M402 453h0M357.7 397h0M389.7 456h0M359.6 354h0M401.9 471h0M336.4 453h0M338.1 378h0M352.8 411h0M377.9 434h0M342.4 412h0M355 345h0M367.6 402h0M415 394h0M344.3 419h0M397.6 410h0M340.5 374h0M411.4 442h0M333.7 431h0M364.6 421h0M357.7 458h0M401.3 383h0M354.7 360h0M408.3 357h0M395 439h0M410.3 472h0M424.4 450h0M422 419h0M421.2 409h0M341.5 482h0M345.6 474h0M349.3 555h0M349 478h0M348.8 520h0M421.8 540h0M405.8 411h0M405.8 446h0M406.4 475h0M405.7 488h0M370.5 528h0M370.7 497h0M369.8 456h0M422.2 517h0M421.3 536h0M420.8 385h0M421.1 475h0M421.4 501h0M421.4 529h0M421.7 565h0M421.3 443h0M420.7 552h0M420.3 506h0M420.4 375h0M420.8 524h0M408.5 519h0M407.8 413h0M408.4 432h0M407.9 313h0M480.2 336h0M484.6 369h0M476.2 348h0M485.4 380h0M480.3 367h0M477.6 342h0M476.4 338h0M479.5 349h0M477.4 348h0M485.3 367h0M490.4 337h0M481.6 363h0M477.8 340h0M489.1 381h0M479 347h0M482.5 321h0M488.1 313h0M489.7 380h0M480.3 357h0M482.1 336h0M483.7 357h0M487.6 379h0M484.8 383h0M478.6 384h0M485.3 360h0M489.6 369h0M480.8 319h0M481.1 384h0M477.6 369h0M481.9 342h0M483.7 336h0M484.3 385h0M482.2 359h0M481.5 376h0M479.7 332h0M484.4 361h0M484.4 377h0M476.1 382h0M479 379h0M480.2 344h0M481.8 378h0M489.5 375h0M485 377h0M478.7 374h0M483.4 344h0M481.7 385h0M486.4 375h0M483.7 370h0M479.9 334h0M488.7 358h0M483 379h0M476.7 380h0M480.9 356h0M485.1 385h0M490.9 374h0M483.2 344h0M482.3 359h0M490.1 332h0M489.6 374h0M491 379h0M487.1 339h0M475.9 374h0M476.9 375h0M488.2 363h0M475.9 349h0M478 380h0M482 379h0M484.2 385h0M491.6 361h0M476.9 370h0M475.9 357h0M484.9 346h0M478 379h0M480.8 380h0M491.5 384h0M480.2 380h0M490.4 360h0M481 376h0M487.4 375h0M476.1 309h0M477.7 366h0M487.3 355h0M488.4 376h0M479.7 312h0M477.8 341h0M486.9 377h0M486.7 370h0M486.8 379h0M490 374h0M477.2 326h0M482.3 337h0M477.3 339h0M475.8 351h0M478.7 330h0M487.1 358h0M482.5 373h0M478.4 367h0M475.7 369h0M483.9 321h0M487.4 339h0M490.8 376h0M478.3 329h0M476.6 364h0M477 382h0M485 362h0M481.8 358h0M491.4 368h0M487.6 371h0M481.2 359h0M482 370h0M559 390h0M506 469h0M543.6 423h0M512.7 402h0M550.1 420h0M503.1 407h0M497.9 406h0M516.7 450h0M549.2 431h0M541.9 397h0M522.5 440h0M524.2 443h0M514.3 434h0M512.3 361h0M564.8 409h0M510.1 420h0M544.8 400h0M497.5 383h0M559.1 446h0M492.7 383h0M530.1 457h0M500.3 391h0M548.4 369h0M549.6 438h0M542.8 442h0M494.2 428h0M522.8 467h0M509 372h0M529.4 390h0M502.6 408h0M524.9 446h0M499.5 388h0M548.2 409h0M547.3 394h0M531.8 427h0M503.4 441h0M512.2 435h0M554.9 423h0M502.9 451h0M531.6 396h0M521.3 420h0M553.2 423h0M513 487h0M513.8 426h0M554.2 407h0M500 428h0M536.7 396h0M534.9 449h0M502.5 392h0M520.8 466h0M552.2 445h0M564.9 454h0M548.9 392h0M495.7 386h0M512.2 400h0M562.5 390h0M512.7 396h0M552.1 408h0M550.3 465h0M565.7 422h0M523.6 452h0M505.8 447h0M509.3 403h0M499.7 373h0M548.8 421h0M492.9 394h0M497.1 418h0M546 427h0M565.8 359h0M515 450h0M526 470h0M515.2 485h0M505.5 390h0M550.1 418h0M515.9 397h0M521.2 436h0M566.3 392h0M543.9 363h0M536 387h0M528.6 413h0M559.1 448h0M549.5 446h0M549 388h0M526.9 448h0M544.7 410h0M502.1 387h0M517 422h0M492.6 417h0M536.4 389h0M545.6 433h0M511.6 406h0M526.9 433h0M520.4 411h0M563.2 392h0M556 422h0M551.6 432h0M500.4 467h0M561.6 387h0M551.8 360h0M500.7 430h0M517.3 431h0M559.8 384h0M551.9 381h0M494.6 424h0M547.4 421h0M526.2 361h0M521.6 455h0M529.4 463h0M555.4 414h0M556.5 377h0M533.6 383h0M500.2 447h0M546.7 475h0M517.3 402h0M498.5 430h0M556.7 428h0M533.2 388h0M550.2 424h0M504.4 374h0M538.1 404h0M547.6 449h0M507 449h0M560.9 456h0M496.6 357h0M506.3 424h0M512.7 383h0M500.7 420h0M551.9 420h0M550.5 426h0M503 405h0M525.3 412h0M507.4 415h0M492.2 419h0M507.2 431h0M556 424h0M518.5 376h0M527.3 423h0M556.9 436h0M526.3 406h0M543 429h0M519.8 428h0M511.6 437h0M552.2 400h0M536.6 428h0M541.6 455h0M511.4 460h0M542.4 420h0M559.6 492h0M496.3 383h0M557.7 394h0M556.8 388h0M501.5 404h0M515.7 450h0M514.1 399h0M565.2 503h0M523 384h0M562 426h0M563.9 398h0M526.9 468h0M506.9 446h0M559 381h0M543.5 424h0M530.4 474h0M526.8 395h0M565.5 405h0M541 366h0M493.2 416h0M513.5 433h0M502.9 428h0M493.3 391h0M503.4 448h0M536.2 464h0M552.6 431h0M529.4 344h0M560.7 442h0M550.7 430h0M554.8 433h0M535.5 422h0M506.2 432h0M546.9 442h0M548 404h0M539.8 402h0M493.1 390h0M529.9 373h0M556.5 379h0M494.8 377h0M551 405h0M552.1 422h0M514.1 394h0M552 398h0M561.5 446h0M538.1 425h0M548.5 407h0M501.1 390h0M556.8 425h0M533.8 481h0M499.1 419h0M562 399h0M502.4 469h0M525.6 410h0M549.7 394h0M503.3 424h0M523.8 409h0M544.6 477h0M544.2 376h0M545.1 513h0M564.2 393h0M537.3 412h0M491.8 417h0M556.3 439h0M511 497h0M524.2 471h0M519.9 434h0M510.2 417h0M532.6 423h0M550.5 394h0M531 432h0M521.8 415h0M527.3 432h0M531.1 404h0M494.2 438h0M491.3 345h0M491.4 404h0M552.3 387h0M552.5 347h0M552.4 336h0M551.9 395h0M551.9 446h0M520.2 405h0M520.7 472h0M520.9 460h0M555.8 365h0M556.2 317h0M556.5 429h0M557.1 411h0M556.2 495h0M555.7 474h0M505.4 360h0M505.6 368h0M505.8 496h0M505.2 467h0M501.5 431h0M501.7 355h0M501.9 341h0M502 347h0M500.9 395h0M529.6 392h0M529.9 385h0M529 532h0M529.4 443h0M529.6 454h0M529.3 489h0M493.2 362h0M493.4 422h0M493.3 418h0M542.6 435h0M541.7 516h0M542.3 550h0M541.7 447h0M541.6 407h0M535.8 375h0M535.9 433h0M536.3 308h0M535.8 403h0M537.7 513h0M537.8 393h0M537.3 419h0M538.2 379h0M498.2 339h0M498.6 362h0M498.3 438h0M498.4 450h0M498.1 360h0M553.4 418h0M554.6 530h0M554.1 460h0M554.3 401h0M554.3 404h0M554.9 437h0M519.3 535h0M518.7 461h0M519 525h0M519.7 360h0M509.6 350h0M510.5 351h0M509.5 504h0M509.6 521h0" stroke="#0000ff" stroke-width="4.2" stroke-linecap="round"/><path d="M249.5 455V475M215.2 472V498M210.3 463V481M240.6 469V492M286.9 455V476M266.8 466V484M226.2 472V493M258.5 473V492M239.8 473V491M255 455V479M234.8 464V486M210.3 457V474M294.6 460V480M247.4 463V480M215.5 481V503M211 463V488M227.2 461V480M281.4 461V477M224.1 468V490M221.5 470V487M212.6 468V488M269.4 474V493M206.1 460V482M261.7 479V495M264.2 466V491M285.5 453V472M212.6 456V477M223.7 466V485M248.8 463V481M287 474V490M234.3 460V483M273.2 466V486M258.3 457V480M213.9 458V481M246.4 463V485M238.1 459V476M277 477V500M268.9 474V498M239.8 471V491M295.6 480V497M254.5 470V490M252.3 481V500M234 449V475M227.7 452V477M227.7 467V486M228.4 467V483M254.6 465V487M226.5 460V479M204.5 469V487M271.8 469V495M250.2 462V486M246.1 467V484M247.8 460V484M253.7 461V481M235.2 470V490M277.8 463V485M241.2 474V498M293.1 469V488M230.7 460V478M213.2 462V480M211 470V491M285.5 481V504M262.5 481V506M263.6 467V484M269.1 475V497M225.7 462V478M243.6 466V483M276 458V482M249.3 462V481M262.2 474V497M210.9 473V492M204.1 456V480M291.6 473V493M245.1 471V491M216.9 474V497M225.6 462V484M236.6 459V480M289 474V495M244.6 476V492M212.1 469V491M227.8 471V495M257.8 465V483M294.2 456V481M254.6 471V495M255.5 466V482M264.8 461V477M287.7 468V486M254.4 458V477M287.5 476V496M243.4 479V494M270.1 473V495M217.3 458V476M266.7 470V488M250.2 460V479M247.1 469V486M212.8 479V496M203.7 456V474M248 467V486M235.6 470V489M213.8 470V486M267.3 470V489M249.6 482V504M275.5 473V493M275.7 487V504M215.5 480V499M211 458V480M217.9 464V484M258.6 450V469M262 469V490M246.9 475V498M211.7 468V493M205.9 455V477M285 466V482M259.9 468V486M295.5 466V491M290.4 462V480M217.3 459V481M257.4 465V485M285.8 474V498M276.2 470V494M238.8 477V498M242.2 463V486M259.3 472V490M243.1 478V496M238.7 473V490M274.4 465V481M270.6 472V494M274.1 449V474M208.8 481V503M223.9 462V487M268.3 473V497M257.7 464V485M210.2 455V478M246.1 464V485M213 461V478M261.7 461V477M291.9 467V486M258.2 464V484M244.1 467V483M284.1 474V489M220.4 483V500M268.7 470V491M215.3 462V484M288.9 465V488M287 463V485M208.6 449V473M239.2 466V483M205.8 471V491M242.1 469V491M293.8 461V481M271.1 466V486M261.5 458V475M281.4 456V479M232.8 470V489M235.5 469V486M249.7 464V483M269.9 472V491M259.8 466V488M222.5 472V492M232.9 475V498M254.1 467V487M236.1 477V496M221.9 478V495M215.7 467V484M288.8 456V481M273.9 471V491M279.3 464V484M213.8 471V492M228.9 475V492M226.7 457V476M278.6 463V481M272.8 464V480M294.4 449V474M254.6 459V481M204.6 470V486M218.7 465V482M289.5 469V487M212.1 466V490M226.5 469V484M212.9 459V475M229.2 468V485M272.6 466V484M234.1 462V485M244.8 471V489M277.9 470V486M242.5 462V486M234.4 471V491M269.9 459V478M221.4 469V489M259.5 470V489M247.7 464V481M235.7 467V491M248.8 467V486M268.2 457V479M230.8 467V491M287.1 463V481M257.2 476V499M251.2 468V489M238.4 460V484M239.2 478V497M270.1 470V492M276.1 471V495M291.8 468V493M245.2 468V491M221.8 454V469M277.9 469V490M276.5 467V491M248.5 454V472M259.7 471V488M285.1 465V487M255.4 458V479M203.5 478V500M246.6 464V489M209.3 466V488M291.7 467V489M213.6 462V488M251.1 464V487M260.4 467V492M282.3 465V481M228.7 462V486M291.4 468V489M272.2 472V493M231.3 467V492M207.4 469V492M266 451V473M289 469V486M277 474V492M217.5 468V491M203.6 469V491M251.9 466V489M233 467V483M221.6 478V502M286.9 475V491M272.5 467V492M203.7 465V489M277.1 464V489M225.5 457V476M266.9 460V478M259 460V483M284.7 473V489M239.8 468V489M209 480V499M206.8 471V495M269.4 474V491M284 467V490M260.1 468V490M277.2 461V486M293.8 471V492M284.8 458V480M204.3 465V490M232.5 476V500M278.6 469V485M215.1 463V480M225.9 472V493M205.9 453V472M277 465V489M231.7 457V481M258.5 476V495M236.9 474V496M266.8 463V483M263.1 469V487M235.4 473V497M243.6 475V495M248.9 467V484M218.9 462V488M227.8 466V489M254.5 475V494M260.4 479V500M279.1 477V501M274.6 472V488M243.4 469V491M292.6 453V475M277 453V474M287.3 470V485M230.7 468V488M273.7 464V489M284.6 462V482M211.9 458V481M249 460V484M243.2 459V474M242.1 468V493M235.5 467V491M210.2 467V490M270 470V491M256.2 475V492M258.9 471V491M227.4 450V469M276.1 456V479M276.1 464V488M220.7 477V496M209 471V493M270.9 479V498M283.7 451V469M217.2 461V480M233.9 471V492M286.5 451V474M291 463V488M290.5 473V497M243.5 456V481M264.2 462V477M253.2 473V494M245.2 472V491M248.4 462V480M231.7 474V498M219.4 463V486M266.8 475V493M267.9 476V501M264.1 475V499M227.5 469V487M221.2 469V489M268.8 472V489M287.6 465V481M238.6 473V497M238.1 454V476M281.6 478V501M221.2 459V484M212.6 468V486M275.1 478V496M286.5 465V482M241.6 469V487M284.7 463V479M229.6 470V489M206.7 468V490M239.1 467V483M261.6 464V488M206.9 463V481M246.4 471V488M285.3 453V472M226.7 459V479M207.4 474V498M280.1 463V479M294.4 471V496M210.7 470V490M278.1 473V497M284.9 467V484M204 469V490M205.5 466V485M266.7 469V493M290.5 463V484M250 469V489M219.8 468V487M233.2 472V489M207.8 464V490M258.3 464V490M208.3 460V478M225.8 458V475M204.9 470V489M232.8 474V492M206.7 461V480M264.4 473V490M263.5 471V491M223.7 464V486M253.7 470V486M292.5 464V488M293.5 466V484M277.1 464V486M285.4 474V493M246.3 465V485M250 471V489M266.6 467V490M220.1 470V492M219.6 472V496M242 456V476M289.1 461V481M203.4 479V495M242.7 481V500M259.9 464V488M212.7 455V479M214.8 471V492M289.1 457V478M243.2 464V480M274.1 473V493M223.8 454V473M217.1 451V473M238 474V496M245.6 468V492M233.3 481V505M274.3 461V484M286.4 471V492M267.1 462V486M271 467V486M249.8 452V475M260.9 462V485M292.1 464V481M228.9 484V502M219.3 474V493M290.1 469V493M230.9 467V488M215 460V482M294.1 476V495M286.3 468V490M216.7 461V482M286.7 491V512M245.2 460V480M245.4 455V480M241.8 466V487M279.3 448V472M293.4 472V496M228.9 471V495M226.2 467V492M216.5 461V478M211.3 478V494M265.3 475V498M229.3 462V480M211.6 466V487M237.2 462V481M275.8 477V494M289.6 460V483M247.5 475V491M258.2 468V487M290.1 454V474M239.9 458V482M267.5 463V488M291.5 466V482M235.3 461V485M260.3 476V500M295.9 472V491M262 463V480M236.7 476V496M274.7 482V499M275.1 472V495M214.5 466V489M259.5 460V479M255.1 466V484M234.8 465V484M264.4 466V484M259.6 463V480M222.1 473V495M203.9 476V498M272 463V481M209.5 471V488M230.7 466V488M295.5 458V481M246.8 472V491M292.3 477V501M282.8 471V493M260.9 471V492M264.3 450V474M245.8 476V500M252.3 475V491M221.9 468V493M244.2 466V486M225.3 451V474M229.1 458V477M239.7 478V502M278.5 468V486M250.3 460V477M254.9 450V469M230.4 475V497M250.4 466V486M277.9 472V488M233.9 469V487M241.7 455V475M204.7 481V504M268.5 468V485M260.6 456V472M256.9 469V495M280.2 465V488M206.7 465V490M208.8 471V490M253.9 458V476M261.5 469V487M260 462V484M212.9 459V483M217.6 462V485M222.1 461V482M285.9 463V487M291.2 468V486M235.7 463V479M233.2 474V498M276.2 481V497M277.8 464V482M223.4 464V488M211.5 457V482M236.8 466V482M276.3 464V482M273.6 462V483M217.4 466V487M284.3 479V499M244.8 462V486M264.8 446V468M260.1 466V489M231.7 469V493M258 458V481M232.3 471V491M288.4 453V477M211.5 457V479M255.9 469V491M250.7 464V484M295.6 481V499M213.3 464V486M230.5 468V489M239.7 467V485M237.2 462V487M239 450V475M237.3 482V498M279.6 458V477M244.5 476V492M261.9 469V486M261.4 484V504M216.6 471V488M223.7 476V493M279 460V479M271.1 467V487M288.1 466V487M259.2 460V476M273.9 464V488M261.6 466V482M281.2 469V486M211.7 467V484M229.4 468V486M274.5 466V486M203.6 459V482M212.3 456V480M209.5 483V502M233.1 460V481M234.5 461V484M244.7 461V486M224.8 471V488M236.4 457V475M211.7 459V475M246.4 480V504M288.9 467V487M256.7 468V485M292.5 478V494M277.3 469V491M206.3 463V481M233.4 461V479M294.4 467V483M246.5 479V499M271 459V484M220.2 466V482M256.7 461V481M233.7 474V491M211.5 476V494M256.2 462V484M216.9 469V488M227.7 469V487M216.6 458V482M277.1 466V487M215.3 472V498M271.8 461V486M269.6 479V501M289.1 473V489M231.9 466V482M252.9 471V496M278.8 465V483M210.7 459V474M286.7 471V487M221.9 471V487M290.2 459V479M211.9 464V479M256.5 461V479M226.9 464V482M257.2 476V498M249.6 464V486M291.5 464V487M216.7 469V492M234.9 457V474M244 463V486M220.4 456V481M266.7 475V494M265.9 477V493M244.2 466V485M263.5 466V484M209 469V492M262.5 461V479M253.7 458V483M220.1 458V476M267.4 467V488M238.1 461V484M228.8 468V483M226.2 474V493M232.3 470V493M230.4 455V473M258.4 474V493M207.1 469V487M217.3 462V485M259.8 468V492M215.2 462V485M288.7 468V490M249.8 464V482M221.7 463V480M251.3 455V476M220.2 469V490M263.4 468V491M274.9 468V490M206.1 462V483M224 464V489M290.2 463V488M278.8 462V479M271.4 460V481M218.3 454V476M217.1 459V475M227.6 457V473M228.2 463V481M218.8 470V487M260.8 466V483M244 472V491M244.5 472V493M274.2 478V495M292.2 462V485M236.3 466V487M210.4 464V480M235 466V484M248.2 470V494M260.5 466V485M277.3 462V480M288.8 468V490M205.7 477V495M284.3 469V490M205.6 477V501M205.5 467V489M230.1 462V483M282.5 462V483M283.1 461V483M248.3 467V490M267.3 471V494M258.2 475V493M222 472V492M247 470V493M214.8 466V487M229.4 471V489M271.3 456V478M237.2 465V486M285.1 471V492M251.6 479V495M216.3 450V475M225.3 468V489M293.2 475V491M254.9 463V482M254.7 463V483M221 458V483M245 450V473M243.4 460V481M269.7 460V482M211.9 450V468M230.3 473V492M287.5 464V485M233.4 465V489M261.6 464V483M273.4 456V479M260.9 469V486M271.5 470V494M215.4 468V483M291.7 467V485M208 486V510M220.3 472V496M253.8 473V494M260 460V482M207 480V503M284 471V490M265.4 462V478M237.5 472V496M263.6 465V491M213.1 462V484M225.4 481V505M243.6 460V478M268.7 463V487M282.7 469V489M249.9 469V493M240.2 462V486M259 466V485M256.3 457V481M207.5 468V490M222.5 465V484M257.8 470V491M216.3 473V496M287.8 471V488M240.1 473V494M250.3 459V478M203.8 460V482M263.2 467V491M262.8 466V488M233.1 458V474M289.9 458V474M266.6 473V492M290.5 460V484M204.1 468V485M294.9 477V497M224.8 455V481M210 456V478M247.8 471V494M215.2 461V480M281.8 471V492M294.6 461V477M242.1 475V496M226.6 474V493M224.6 454V475M242.3 473V491M258.2 457V477M218.8 475V493M236.1 463V479M263.1 455V472M250.9 470V493M210.9 457V481M204.5 467V483M204.1 460V480M219.5 475V491M241 473V491M212.6 460V481M216.9 455V488M215.4 422V456M214.6 464V496M215.3 432V467M215.2 420V444M214.5 444V466M215.3 455V479M213.8 449V469M212.4 458V487M215.2 427V456M214.7 434V455M212.1 467V486M215.6 450V475M213.2 444V471M214.9 458V482M217 441V466M217.1 461V485M214.2 460V483M215.7 444V479M217.4 460V481M213.9 444V474M216.2 441V474M215.3 459V484M216.7 458V486M214.6 446V474M215.4 442V465M216.8 469V495M212.8 458V477M218.8 464V483M215.2 452V471M214 456V484M216.8 449V467M214.9 465V486M214.6 422V447M218.9 466V488M217.7 456V476M213.9 455V487M214.6 430V451M217.4 460V493M213.2 453V476M214.6 447V469M230.7 439V461M231.5 459V493M231.8 466V492M229.2 387V412M231.4 461V481M229.9 435V467M228.6 452V488M229.3 415V442M228.2 458V484M229.5 444V471M229.2 387V422M229 403V437M229 430V450M228.7 441V474M230.8 415V452M228.4 463V483M229.2 436V467M230.4 408V440M230.3 443V464M229.5 386V418M228.6 426V455M227.9 459V487M230 404V436M229 451V475M229.4 393V416M233.3 450V481M229.1 427V461M230.9 412V431M231.5 431V452M230.4 445V464M229.4 417V452M231 437V458M230.2 451V472M229.4 461V481M229.6 471V490M228 455V490M230.2 471V492M231.2 462V492M231.3 455V491M229.6 437V457M232.5 455V485M230.4 459V487M228.4 456V485M228.9 434V458M229.7 461V481M231.5 472V494M231.1 460V489M230.1 419V440M229.5 461V488M229.5 378V414M229.1 415V444M229.7 383V410M229.7 417V441M229.1 394V428M228.2 442V478M229.4 395V424M243.8 432V464M243.9 452V486M244.4 392V419M244.5 421V448M245.3 474V499M243.3 467V492M243 437V466M244.7 463V495M243.6 451V487M244.6 443V463M244 368V394M244 377V402M244.7 423V460M242.8 439V460M243.1 461V489M244.2 433V461M244.3 400V429M243 453V475M244.1 437V473M244.2 397V424M242.8 450V478M241.9 461V488M243.9 398V423M242.8 450V476M242.4 450V475M243.6 389V415M244.1 371V389M243.4 416V445M243.2 429V457M243.7 397V425M244.7 428V451M243.5 387V420M242.2 461V482M243.6 447V475M242 419V449M242.3 443V465M242.6 426V451M244.4 456V486M244.3 437V469M243.6 440V461M245.2 404V438M245.1 423V456M244.5 403V437M243.7 400V426M243.9 434V461M245.4 453V485M245.7 450V472M243.1 439V460M243.2 455V480M245.2 425V453M246.6 454V489M244.4 459V487M246.1 464V486M243.7 461V490M246.3 463V489M243.5 392V427M251.6 443V477M252.6 448V483M253.3 421V451M253 397V421M254 406V438M253.8 418V451M252.9 399V433M253.8 455V478M254.9 452V489M255.4 448V475M254.5 434V469M252.8 389V408M251.4 444V480M254.1 451V486M252.4 430V449M252 434V467M250.7 459V484M252.6 412V448M254.6 443V470M253.3 397V426M254.1 420V446M255.4 459V483M252.3 467V489M252.4 442V479M251.8 442V476M252 392V428M252.5 444V465M252.5 418V454M251.6 459V493M253.6 400V436M253.4 407V426M253.1 431V449M252.6 426V450M253.8 465V485M254.5 441V475M255 442V469M251.9 413V432M255.5 473V493M252.1 463V491M254.2 448V478M252.4 462V492M252.5 453V473M254.4 458V485M254.9 441V467M253.7 401V438M252.1 435V470M253.4 399V429M254.9 461V483M251 448V468M252.7 414V442M251.4 444V479M253.7 459V478M252.3 427V458M254.1 440V474M252.7 462V482M254.3 442V464M253.2 451V477M252.3 457V477M254.5 428V452M250.9 461V489M252.1 447V469M252.2 388V415M252.1 426V459M265 402V428M268 454V487M266.8 457V483M263.8 460V481M267.2 443V466M267 451V479M265.2 425V454M265.8 466V496M261.7 454V481M266.3 427V455M266.9 454V480M266.1 425V458M265.1 455V479M264.6 450V483M266.2 430V457M266.8 455V480M263.6 463V484M265.8 458V479M266.2 425V462M262.9 455V481M265.8 442V468M265.1 418V437M265.7 470V490M265.8 463V495M264.8 400V432M264.3 447V475M266.5 457V491M263.7 454V490M266.6 414V447M264.8 435V468M266.2 417V441M264.3 453V473M264.9 465V491M265.8 461V483M264.9 463V488M265 458V479M264.6 434V452M266.2 399V424M267.7 465V488M265.6 394V426M264.7 399V432M266.8 453V480M265.6 434V464M265.9 404V429M267.4 437V471M264.9 411V445M268.9 460V494M267 449V486M266.7 426V448M265.2 390V423M264.2 452V472M267.8 448V482M266.9 462V483M266.2 451V484M264.9 411V432M262.6 462V482M271.6 452V481M274.4 453V488M272.6 438V471M275.3 419V439M273.1 457V487M275.7 425V445M273.1 446V465M275.4 427V452M274.5 467V493M273.8 438V470M274.7 453V475M278.7 452V479M273.7 455V478M275.1 464V488M271.9 461V493M271.1 457V492M273.2 448V483M273.3 448V470M275.4 453V475M276.6 452V472M275.2 443V479M274.1 438V460M276.3 459V486M273.3 441V466M279.3 466V493M276.3 452V478M272.8 447V474M272.3 455V475M277.4 454V476M275.6 463V483M271.7 449V469M276.9 458V491M275.4 465V484M273.4 448V473M274 447V473M276.9 469V489M273.2 459V483M277.7 463V497M275.8 421V458M274.5 462V487M274.2 441V475M276.3 461V481M283.5 442V471M282.1 437V458M282.3 462V487M285.8 470V498M286.4 463V491M283.1 431V454M285.2 456V480M284.6 445V470M286.4 462V488M284.1 417V452M285.3 457V480M283.6 420V453M284.8 462V482M284.2 452V473M284 413V435M284.6 468V503M284.2 432V465M285 447V468M282.4 452V486M283.7 453V477M285 439V475M284.1 412V441M283.2 450V475M283.7 451V474M283.9 419V439M283.4 452V476M284.4 416V438M283.1 423V445M284 405V425M283.3 454V490M282.1 459V486M284.7 439V472M284.5 460V492M282.1 444V478M284.4 402V438M283.3 456V486M284.9 435V458M283.4 454V478M284.6 461V482M284.3 406V428M284.9 443V469M283.6 445V478M283 423V448M282.6 430V457M284.8 455V487M283.4 422V450M281.1 467V495M284.5 401V431M283.7 451V475M229.7 471V495M230.3 489V515M231.4 465V499M229.2 473V497M231.6 458V491M230 507V527M229.5 468V501M229.5 495V529M228.8 478V504M230.1 473V498M231.1 486V520M229.9 467V503M229.1 464V494M229.8 490V516M228.7 465V490M230.8 484V513M228.9 479V498M231.1 477V509M231.3 477V498M229.9 499V519M230.2 500V534M230.8 475V500M229.3 487V509M228.6 477V505M230.1 477V500M229.4 459V487M228.1 469V501M229.5 502V538M231 483V516M230.3 503V534M229.8 474V492M230.7 488V508M230.3 468V497M230.3 487V516M229.8 527V546M229.9 477V503M228.7 490V515M230.8 485V507M229 461V488M230.7 478V509M229.2 479V515M231.4 464V486M249.9 500V528M250.4 495V517M249.2 497V523M250.3 476V495M250.1 506V525M248.6 483V510M253.5 463V494M250.8 490V515M250.5 479V507M251.1 475V493M251.1 458V492M249 477V502M249.6 504V531M250.5 480V505M251 490V510M249.7 455V488M249.6 494V527M251.1 490V514M250.9 455V491M250.2 517V551M252.7 464V489M249.1 496V525M251.1 464V497M249.3 507V530M250.4 486V522M251.1 460V496M249.2 504V525M249.8 480V501M249.3 481V513M248.8 469V504M249.7 478V501M249.8 481V503M249.8 494V517M248.7 462V493M249.7 465V499M250.3 511V536M249.9 470V499M250.1 512V536M250.6 488V524M250.6 505V525M248 465V492M250.7 491V525M249.7 465V496M251.3 474V492M250.6 485V504M251.4 468V489M249.8 514V541M248.4 460V492M250 524V547M264.7 516V543M264.8 484V516M263.5 473V508M264.1 473V494M266 473V504M264.9 494V517M264.1 470V492M265.1 466V488M263.9 468V504M264.9 464V498M265.6 499V520M265.2 509V531M264 464V490M264.7 469V494M264.4 500V521M264.4 490V514M265.6 475V494M267 468V497M264.7 495V517M264.9 500V527M266.5 464V499M265.5 480V504M265.1 464V498M263.8 466V487M265.3 476V495M264.6 500V532M263.5 476V496M263.8 480V515M266.4 479V499M265.9 470V495M265.1 512V542M266 482V514M264.9 498V533M265.2 468V496M265.2 460V490M264.2 467V494M265.4 475V497M264.8 506V529M265 491V521M265 467V491M265.9 482V508M264.6 460V493M279.4 477V502M280 476V507M279.8 492V527M279.6 480V512M280 485V508M280.2 464V497M281.7 477V498M280.3 499V529M279.7 484V512M279.8 471V499M280.9 491V512M280.2 485V521M279.2 487V509M279.5 465V496M280.5 488V511M280.1 494V523M280.5 482V513M280.5 477V499M280.1 507V533M280.3 493V517M279.3 463V497M280.1 505V537M280.7 471V490M279.2 460V487M279.8 475V500M280.7 489V509M280 476V498M279.1 463V489M280.5 470V497M280.8 485V511M279.6 484V505M279.1 483V518M281.9 468V490M281.7 458V494M279.6 487V523M279.1 475V506M280.7 469V503M280.7 465V496M279.1 501V525M280.1 489V516M279.8 468V489M280.6 485V521M294.5 484V504M294.1 459V490M294.1 489V516M294.7 468V490M293.8 493V519M293 483V505M292.4 456V491M293.2 472V502M292.1 475V496M293.3 487V511M294.2 495V513M294.2 485V511M293.3 469V503M295.1 461V481M294.3 466V487M293.1 476V512M294.4 483V504M294.3 483V510M293.8 483V510M294.3 469V502M295.8 454V489M293.2 470V502M292.1 480V510M293.1 460V485M295.1 469V492M293.8 473V506M293.8 492V526M292.7 460V495M269.1 417V436M228.7 416V438M286 423V459M287.1 435V461M273.4 440V477M257.7 457V490M203.7 456V486M205.7 463V481M228.5 460V481M243.2 456V484M236.1 450V476M258.4 454V491M272.7 451V485M221.2 459V486M283.1 450V483M292.2 456V482M251.8 437V473M269.1 453V474M257.7 420V449M289.7 454V489M211.1 436V456M252.7 460V484M272.7 422V451M205.8 430V457M217 416V451M252.6 424V452M204.3 446V476M293.3 451V472M266.5 456V479M256.8 447V479M267.8 453V479M228.7 441V461M261.4 424V455M286.1 461V480M262 432V460M233.3 457V484M279.1 451V487M244.2 439V465M248.2 459V486M272.4 444V476M272.7 450V477M230 405V426M265.6 442V470M286.6 465V484M277.7 457V489M259.6 449V468M246.6 442V475M214.8 440V473M237.2 456V474M206.7 461V489M281.9 456V477M270.1 455V477M228.9 443V467M293.8 429V463M262.6 450V476M205.6 430V466M230.5 426V457M219.1 458V482M295.7 458V486M264 443V469M235 446V468M280.8 445V481M218.4 429V463M241.4 413V443M269.3 451V472M211.1 442V478M272.2 456V488M254.3 437V467M224.5 424V447M281 413V443M261.7 447V467M281.6 456V492M273.5 442V468M282.5 442V479M233 450V477M207.5 443V479M275.2 442V470M211 413V445M275.1 443V477M258.7 434V461M218 446V476M232.4 446V472M244.5 442V468M249.8 460V481M257 414V441M241.2 446V473M293.6 442V468M292 455V474M205.6 426V459M294.3 442V463M216.9 461V485M210.1 445V479M270.6 441V473M274.5 437V465M267.2 436V464M289.8 429V450M223 452V485M254.5 440V475M290.9 454V481M228.7 452V478M239 409V432M287.3 422V459M250.7 399V435M264.3 436V470M247.8 434V468M214.4 440V458M231.5 427V453M258.2 422V451M209.2 419V448M269.4 447V473M218.7 462V482M245.3 454V475M206.9 448V474M222 460V483M209.8 457V492M205 455V490M275 419V446M226.7 431V460M239.6 431V455M234.3 447V475M221.8 459V493M287.7 436V464M255.6 452V485M272.7 451V483M295.2 454V477M208.4 451V479M234.4 437V460M290.6 444V468M237.8 435V458M271.8 424V449M283.4 444V471M206.2 443V480M255.1 406V435M280.4 448V471M268.5 416V445M239 437V469M234.8 455V489M230.5 438V458M243.9 455V492M254.8 450V485M253.4 412V433M219.2 423V449M257.5 463V484M269.4 437V458M204.3 448V470M206.4 453V483M217.5 458V491M266.3 435V461M265.1 434V458M237.8 448V479M273.5 425V456M206.8 459V492M227.1 406V433M210.3 464V486M231.2 428V463M258.4 437V471M279.3 431V466M281.6 431V463M257.7 400V420M276.9 450V485M244.3 431V467M209.9 452V489M222.1 408V440M248 436V469M268.4 451V482M222.3 422V447M294.4 453V482M205.9 463V486M254.1 436V469M206.7 457V493M257.8 426V451M284 424V450M253.4 454V474M210.2 434V462M264.2 456V482M236.9 432V454M228.8 457V493M231.6 448V476M207.7 426V460M232.6 456V479M257.1 441V475M263.7 448V474M223.8 459V487M242.6 463V483M267.1 437V466M218.5 437V470M208.8 418V446M294.3 446V467M245.1 424V449M268.1 436V472M281.7 456V477M270.7 422V457M253.3 434V456M225.6 448V482M266.9 448V479M235.5 429V449M223.4 446V479M218.9 445V476M205.2 454V490M268.1 419V454M215.1 421V442M234.6 422V445M294.9 466V486M264.3 452V483M249.4 442V477M234.2 445V465M212.9 434V460M294.3 433V459M244.3 456V478M283.2 434V460M286.8 456V488M232.9 447V473M286.7 441V472M292.6 451V481M276.4 440V472M248.9 441V466M255.4 417V453M273.4 436V467M252.5 448V473M252.4 459V488M258.3 415V442M257.4 443V492M259.4 383V427M231.2 459V508M231.6 388V448M231.1 464V495M231.5 528V591M230.8 471V496M208.7 517V551M208.6 338V382M208.9 478V506M208.9 553V590M209.5 500V567M247.4 402V439M246.7 437V477M246.5 438V468M236.9 438V481M236.6 426V481M237.2 401V450M236.8 446V513M273.8 482V523M273.2 396V442M273.6 425V462M272.8 328V378M272.9 429V476M272.7 375V427M260.9 463V491M260.9 393V453M261.5 284V339M261.2 472V515M261.3 424V468M279.6 447V506M280.9 428V460M225.9 432V467M226.2 505V548M225.9 391V444M226.4 360V394M227.1 438V505M244.9 490V515M244.5 504V548M245.3 446V484M293.9 415V444M281.5 407V427M212.4 446V471M294.6 426V458M271.6 313V343M281.3 364V397M237.3 306V341M239.3 359V379M288 364V386M267.9 299V332M230.6 410V441M241.7 349V379M266.7 363V386M232.3 326V350M241.3 320V351M239.3 407V435M224.9 340V370M207.6 363V397M245.1 371V390M279.8 388V417M257.8 388V408M265.5 354V381M209.4 340V376M223.7 405V436M256.9 361V388M282.5 398V429M290.5 315V348M250.8 432V452M219 368V402M285.1 380V404M231.4 385V407M267.6 456V476M226.8 335V364M287.9 334V368M272.2 462V484M265.1 369V389M291.7 403V433M241.9 413V439M226.4 324V353M291.4 360V396M255.7 363V390M222.5 458V480M226 378V409M235.5 399V433M255.9 354V382M199.6 352V566M349.9 471V491M393.2 464V489M411.4 481V505M386.2 466V489M372.8 466V489M346.9 465V484M331.8 482V505M391 467V483M403.7 474V496M393.2 461V486M367 476V496M417.4 453V473M407.1 463V488M374.7 452V477M406.8 472V492M389.4 462V486M414.9 477V493M342.1 475V497M390.5 474V492M351.7 465V482M350.1 462V486M389.5 474V495M427.3 455V480M393.3 474V498M336.3 461V480M407.2 462V482M337.6 446V466M370.7 463V480M338.5 455V475M348.7 466V490M378.9 468V490M424.3 461V485M363.9 474V491M345 465V485M345.4 463V485M335.3 477V496M376.1 462V477M400.6 473V497M366.3 477V493M352.2 459V483M351.3 473V493M418.4 473V494M425.5 453V473M369.3 457V476M335.8 467V483M383.4 467V486M412.2 462V486M342 473V496M355.6 469V493M366.6 468V493M357.8 471V488M356.5 452V476M386.1 475V492M345.4 475V496M393.5 466V492M353.8 473V489M418.9 471V489M405.4 464V489M384.9 479V501M415.5 472V495M359 454V476M376 476V497M393.9 473V488M383.1 477V497M426.1 474V497M363 466V486M371.3 465V481M394.3 454V479M346 465V485M399.6 465V489M355.7 469V484M384.7 476V495M367.3 470V487M357.9 474V491M387 466V484M365.6 472V491M386.8 474V496M410.3 465V484M375.7 465V488M409.5 474V499M429.1 468V493M358.3 476V492M417.2 460V483M395.5 469V494M368.7 461V485M399.3 474V491M344.2 464V481M345.5 475V499M426.7 468V490M360.5 464V489M363.5 469V490M349.7 454V476M399.7 457V481M405.2 477V498M331.9 458V482M385.1 455V480M429.5 445V463M414 465V487M364.9 467V483M368.8 470V491M382.4 466V491M369.3 459V476M416.9 470V486M375.8 455V479M392.6 464V481M406.8 469V491M342 473V497M428 455V475M416.3 451V475M340.2 473V497M352.6 464V484M397.5 475V495M365.5 466V485M394.9 466V489M384.3 458V476M337.1 474V493M383 445V470M413.8 471V489M395 466V491M344.8 453V479M418.3 466V486M414.6 470V491M345.5 456V472M346 464V489M342.8 446V469M388.3 464V489M399.7 460V482M341.7 468V493M388.8 475V497M389.8 472V497M377.3 462V483M374.6 471V489M416.8 458V478M345.7 473V492M408 474V490M332.7 467V491M362.6 471V491M332 469V489M379 452V471M405.6 467V487M389 467V486M368.2 464V489M389.9 465V486M386.2 467V489M363.6 464V486M350.2 475V496M418.5 461V486M344 467V488M378 469V488M428.1 462V481M395.7 454V471M404.2 469V489M374.5 458V475M347.7 466V481M390.1 473V491M364 446V471M344.7 475V497M363.5 481V503M385.9 475V494M419.3 473V491M367.6 485V501M386.8 462V485M383.5 461V485M336.6 453V476M372.9 468V489M336.9 464V483M392.4 470V493M420.8 480V503M332.7 461V482M412.9 479V495M401.3 455V475M405 469V489M373.7 473V488M414.1 477V498M426.5 471V490M407.9 468V485M389.1 470V494M394.8 477V501M372.3 465V486M353.9 454V479M332.3 456V480M411.6 471V487M352.9 460V481M385.5 472V493M393.6 456V476M345.6 463V481M387.5 444V469M374.5 456V480M412 477V501M351.5 466V483M428.8 453V477M393.1 471V487M381.3 471V489M415.6 471V492M333.1 486V505M371.8 470V494M389.2 458V483M423.9 459V485M394.8 458V477M393.8 465V490M404.8 455V480M409.6 469V491M400 464V485M336.9 471V486M338.8 453V478M391 454V474M371.9 457V480M428.6 467V490M394.6 470V494M410.2 461V485M359.1 494V511M375.3 460V476M388.1 466V484M402.8 474V499M376 458V482M353.2 469V492M352 477V501M364.7 468V485M332.2 468V494M413.1 475V492M349.4 464V489M399.7 469V490M353 477V496M379.6 469V488M371.7 466V491M342.6 462V480M376.4 476V498M411.8 486V509M422.7 478V493M347 473V489M340.2 459V482M409.4 459V481M360.1 470V493M423.7 450V470M387 465V485M351.3 474V490M406.1 464V482M382.5 467V488M335.5 470V493M424.7 477V496M387.4 460V480M423.9 467V482M375.3 454V474M370.6 457V474M410.5 459V480M369.5 451V468M397.8 476V498M429.9 467V490M362.4 476V497M359.4 464V485M384.9 471V495M405.6 463V479M393.9 473V495M386.1 458V480M402.7 472V488M392.2 459V475M373.4 468V494M351.6 453V476M425.9 486V510M345.7 459V483M378 454V478M377.7 458V481M340.1 465V485M362.1 450V472M344.9 445V471M345.5 459V480M412.1 461V479M395.2 465V487M376.8 457V482M374.4 465V490M368.9 460V478M354.9 462V479M408 459V483M430 465V490M347.6 457V481M411.5 463V487M412.4 469V495M418.8 465V482M373.5 476V492M421.2 458V482M347.2 465V490M336.9 473V498M425.8 461V484M384.9 454V479M349.4 465V482M392.1 447V464M378.6 455V476M409.1 462V485M412.3 462V481M412.8 479V495M390 468V486M388.3 466V487M429.8 470V494M358.4 443V465M346.4 469V492M351.6 470V494M347 466V487M369 464V486M397.2 467V491M367.3 465V484M409.3 480V505M371.3 463V482M406.4 474V491M386.8 466V489M338.4 461V485M336.9 471V490M335.7 468V492M395.5 463V484M349.9 461V481M349.9 467V487M389 459V477M410.2 471V493M373.4 470V492M405.8 466V482M410.8 476V494M374.7 462V485M427.3 450V476M343 444V462M384.7 475V492M409.7 458V482M375.6 466V489M354.7 461V485M400.3 475V492M358.1 463V485M361.5 469V488M407.8 475V494M352.8 478V495M376.4 469V490M403.5 454V479M394.9 479V498M410.2 462V482M337.2 481V501M347 461V484M399.9 461V486M349.1 460V481M332.6 480V500M383.5 469V492M418 453V478M422.4 459V484M340.2 471V490M340.7 472V488M359.2 479V504M411.9 468V487M417.1 460V480M409.5 464V480M394.7 464V489M376 469V486M361.1 463V479M354.3 462V481M415.9 470V493M385.6 460V482M410.7 456V481M414.2 465V489M406 463V487M353.6 468V490M392.3 462V485M414.5 468V485M415.4 466V485M370.6 465V484M384.8 466V488M393.8 462V481M364.1 435V458M353.8 483V504M394.7 481V500M359.8 463V485M385.1 459V479M413.1 470V490M379.7 469V484M362.8 470V491M352.8 454V472M333.2 461V484M336.5 466V485M359.7 475V491M352.6 459V482M343.2 468V488M428 471V492M386.8 445V469M421.2 475V492M416.8 475V496M347.9 473V488M384.9 468V484M344 467V489M362.7 465V490M391.8 476V495M409.9 477V502M386.7 467V482M398 470V490M405.4 468V489M334.8 474V496M380.4 478V503M378.2 454V476M358.6 462V478M355.5 493V516M344.9 462V479M413.9 464V489M395 464V486M334.7 476V495M362.4 487V508M348.8 471V494M336 470V486M382.9 465V487M398.3 462V485M397.4 465V485M392.9 469V487M425.5 467V484M377.2 469V494M389.5 477V497M344.9 473V496M376.7 476V495M333.8 464V486M355.8 466V490M360.8 478V501M345.4 459V482M362.3 465V483M399.6 480V498M427.1 471V494M359 482V506M345.5 475V498M384.4 460V483M340.1 477V497M412.4 476V493M351.4 476V494M364.1 465V490M371 474V495M350.6 472V487M355.2 462V484M363.1 458V477M332.2 470V491M387.9 471V495M374.8 456V478M391.2 464V483M359.5 472V491M357.3 465V488M390 475V491M392.1 479V497M333.8 472V490M335 478V494M384 476V496M397.5 464V483M368.3 465V487M365.4 466V489M364.1 459V478M425.6 465V484M333.6 460V484M357 461V482M350.5 469V487M400.2 476V495M367.9 463V488M359.2 470V487M348.6 470V496M356.2 469V491M352.2 461V480M414.3 475V494M345.3 471V492M418 465V488M374.6 475V494M340.3 481V499M386.8 469V485M339.8 462V478M355.5 464V486M369.2 461V487M363.4 460V482M363.3 457V477M382.6 468V490M406.4 463V484M404.2 478V499M419.9 475V490M352.6 468V487M416.5 454V478M345.5 465V491M386.7 472V488M416.8 469V488M332.1 467V484M352.1 454V475M365.9 455V480M389.8 466V490M378.6 456V473M336.3 466V483M381.1 469V494M379.4 475V491M349 482V499M426.8 470V489M381.2 471V489M362.1 459V480M403.7 463V481M404.1 454V477M404.7 475V491M419.7 484V501M384.9 479V497M351.6 470V495M348.3 474V490M360.1 462V485M428.1 475V496M410.3 470V493M340 463V483M417.7 474V491M387.9 479V505M338.6 462V487M411.2 475V492M348.5 477V496M417.1 454V476M390.3 464V481M389 468V490M393.2 457V481M404.3 460V481M384.5 464V488M341.8 474V493M406.7 469V488M351.8 457V478M418.9 462V480M333.5 460V484M414 457V479M378.6 467V491M348.3 462V479M380.3 472V492M332.6 464V484M388.9 475V500M389.1 473V497M421.7 470V488M331.9 471V495M375 464V486M390.2 461V485M345.5 467V487M369.2 475V492M427.3 461V476M358.5 458V480M350.3 467V486M339.7 458V484M410.9 478V497M344.7 468V484M368.2 465V482M407.8 469V492M386.3 454V480M394.4 472V493M383.4 459V481M333.7 466V484M348.3 470V492M335.5 478V503M360.5 469V490M386 458V483M345.6 466V487M384.7 482V505M354.9 460V476M358.7 470V487M359.1 464V483M343 467V485M425.3 469V488M423 463V481M429.4 462V487M414.9 464V481M359.1 452V468M371.1 478V501M341.8 475V492M394.8 471V492M372.7 477V497M408.3 469V493M399 486V501M412.3 461V481M332.1 466V484M395 468V488M406.3 466V489M425.3 469V485M386.5 466V487M366.4 468V493M334.9 458V476M395.2 449V472M390.1 477V496M378.1 465V481M423.4 477V497M373.5 460V483M396.7 475V497M424.8 471V495M332.3 473V489M342.3 471V492M400.7 468V486M420.2 478V494M420 462V486M399.9 461V483M362 462V484M381.2 465V488M356.5 459V482M354.9 445V470M385.5 460V484M359.2 477V493M396.1 483V501M350.5 458V480M333.3 462V484M427.8 480V496M335.2 482V505M386.8 456V473M335.6 464V487M396 458V477M426.6 460V477M345.1 454V479M388.6 474V498M369.7 466V483M350.3 472V495M353.3 464V489M428.3 453V475M395.4 480V496M347.3 488V506M369.2 471V490M368.5 474V492M342.1 466V482M422.1 471V493M335.6 465V483M354.7 470V491M389.5 452V478M333 459V481M392.9 462V482M386 481V501M337.1 477V501M336.7 468V484M395.2 471V488M344.2 464V484M380.6 473V494M422 476V501M423.2 458V480M392.5 465V483M359.3 477V495M350.1 465V487M386.6 470V488M416.2 463V486M407.5 463V483M359.6 457V479M355.5 468V490M424.2 462V483M358.8 460V482M406.6 476V493M386.3 450V475M333.4 475V498M395.5 457V482M427 470V494M399.1 464V489M334.9 475V498M371.4 468V491M377.1 461V477M358.8 472V494M388.4 455V478M419.6 457V474M352.5 469V487M354.3 481V498M382 476V495M386.7 463V487M399.3 479V499M394.4 444V468M379.7 459V477M362.1 467V485M386.8 460V482M335.9 454V473M364.6 462V484M387.4 464V482M422.8 456V472M361.4 464V483M413.9 461V482M429.4 468V492M355.3 468V485M337.9 472V496M401.7 476V491M420.7 478V495M377.1 486V504M369.3 473V489M392.9 473V498M408.4 472V497M410 463V487M424.9 464V480M343.1 473V490M408.8 453V474M398.6 462V481M370.2 466V489M338.4 470V487M388.6 471V488M386.6 464V483M408.9 471V490M403.5 458V478M369.7 464V490M380.8 464V485M409.8 476V496M393.5 467V491M429.4 477V497M384.6 466V491M402.3 454V476M414.2 471V490M357.9 461V480M372.3 459V479M398.3 467V486M338.7 459V478M394.8 470V493M368.1 465V487M423.5 469V493M376 467V491M370.3 466V483M398.5 451V476M349.5 466V489M347.1 470V489M419.7 465V483M387.7 466V482M398.2 483V499M368.5 462V481M391.9 453V474M398.3 460V482M391.9 475V495M411.2 460V484M394.8 465V487M369.9 476V499M344.6 458V473M347 480V504M381.9 474V493M377.4 468V486M371.7 477V499M394.5 453V477M357.5 460V484M373.5 455V474M376.2 457V479M359 443V459M405.1 453V478M384 473V498M344 453V475M336.7 450V468M399.6 468V486M338.1 480V504M370.1 467V491M426.6 475V498M423.1 449V471M334 467V490M423.3 467V490M334.6 467V492M406.6 469V489M390.4 476V500M404.2 463V488M406.4 465V481M350.8 479V502M356.7 474V491M337.5 477V500M372.5 460V481M422 472V490M374 473V494M403.1 483V504M411.4 455V479M381.8 470V487M375.5 461V478M383.2 482V506M332.5 472V491M339.9 450V471M402.5 454V474M421.7 463V487M419 469V489M383.4 466V488M411.7 465V483M365.4 466V485M417.6 478V494M353.7 459V484M384.5 460V484M386.2 465V482M406.5 473V497M387.1 470V493M379.5 478V498M337.9 455V477M405.9 469V485M340.8 475V491M413.6 469V492M386.7 469V489M348.6 456V479M394.7 473V495M342.4 468V488M374.6 462V480M372.6 465V485M384.5 463V488M344.8 463V486M365.4 456V474M401.5 462V478M427.1 454V473M334.1 478V503M333.7 472V494M384.8 478V497M375.2 460V482M359.4 459V482M376.4 467V492M416.8 463V480M347.1 471V496M371.3 457V473M396.1 464V489M405.3 469V490M413 479V497M353 457V481M387.5 446V467M357.3 463V489M358.4 468V487M344.8 461V484M398.3 458V474M378.8 477V502M373.6 465V489M425.5 480V504M339.8 469V485M334.9 478V495M373.4 453V478M351.3 471V490M368.5 477V494M367.6 467V486M405.7 468V486M422.7 445V471M374.4 436V469M378.2 394V430M354.4 452V478M408.7 451V474M404.6 452V484M402.1 443V477M409.2 437V459M382.1 452V484M361.7 445V465M359 427V455M415.9 457V477M371.3 443V472M370.2 432V464M400.7 448V468M355.8 453V481M400.5 379V416M381 417V451M423.3 442V463M397.6 401V432M409.9 437V464M362.7 453V479M403.2 443V471M414.9 450V469M419.8 441V473M366.8 456V485M373.8 439V471M409.8 425V453M378 432V463M370.8 443V473M354.7 440V475M421.9 407V444M360.2 423V442M352.4 456V490M395.1 452V482M422 453V474M397.9 430V456M388.9 443V475M360.1 447V465M389.7 449V482M414.3 454V483M403.7 455V483M369.1 453V474M382.4 437V459M367 417V439M386.6 446V473M384.5 435V462M422 463V482M354.6 455V489M401 439V474M369 428V463M403.8 452V473M388.3 433V453M353.3 435V461M377.4 417V450M354.4 457V485M408.4 402V434M352.6 432V467M386.7 449V469M400.1 436V467M416.3 405V433M363.3 439V475M382.7 450V476M375.5 418V445M425.5 438V464M415.2 433V463M380.5 408V434M364.7 436V462M357.5 463V487M352.3 432V466M365.5 416V448M393.9 413V441M385.5 430V462M372.6 446V466M364.9 453V486M405.2 455V480M356.1 447V478M384.6 421V451M397.9 449V477M389.5 443V478M360.6 430V464M399 438V466M388.7 403V434M367.9 424V459M372.1 454V479M356.5 428V451M391.9 435V461M410.4 408V441M410 450V477M373.5 455V479M420.9 452V477M377.2 446V474M376.9 431V463M367.5 440V475M415.4 444V476M383 440V469M363.6 451V473M389.8 434V469M397.8 450V471M388.6 453V477M390.6 430V451M406.9 426V450M399 418V446M394.4 423V458M374.3 439V462M394.6 452V479M402.5 458V478M392.5 406V438M417.6 438V469M408 435V470M421.1 444V478M365.8 453V487M356.6 447V465M358.9 452V487M369.9 422V443M360.3 448V475M407.2 439V464M414.9 447V475M362.8 455V479M397.1 417V446M399.3 438V467M358.2 457V479M413.8 412V436M386 452V481M390.3 428V461M382.4 427V458M388.3 438V469M418.2 445V475M421.9 452V487M358.6 455V476M366.3 429V451M400.7 418V440M376.9 445V467M391.9 430V460M426 457V478M361.8 437V468M387.9 422V442M380 423V455M369.2 439V467M420.4 455V489M399.4 412V444M415.5 415V446M392.6 450V483M384 435V470M414.9 447V470M366.7 454V479M354.1 444V476M415.6 456V486M365.3 443V463M403.2 439V458M386.8 382V413M365.4 433V454M425.9 417V453M360.5 448V472M392.8 423V459M358.1 452V486M387.9 449V483M377.1 434V459M368.6 460V479M385.2 452V486M405.8 427V449M418.8 448V473M404.1 452V471M422.5 430V456M373.8 417V441M409.9 438V475M393.8 442V469M416.5 391V423M390.6 450V477M401.3 450V478M387.7 424V447M424.2 451V471M370.5 432V460M423.6 459V479M380.6 450V479M372.1 447V478M422.3 463V485M390.8 431V464M376.8 423V451M375.1 443V472M356.9 431V458M391.1 451V470M426.3 451V487M412.9 453V483M385.2 426V462M386 371V392M414.5 445V473M391.7 434V459M404.1 422V458M374.1 439V467M406.9 459V481M389.8 424V445M362.4 435V465M387.8 430V454M421 423V449M383.7 429V461M418.3 457V483M383.6 427V460M392.8 441V460M397.8 434V466M406.9 454V481M419.5 451V487M360.5 425V459M405.8 456V487M379.1 457V477M368.3 415V450M378.1 420V442M360.4 427V453M373.2 401V437M360.4 430V458M389.8 452V486M416.2 449V485M413.9 449V484M365.8 461V480M387.3 442V462M377.5 419V447M401.3 447V479M364.1 447V470M377.8 449V477M370.3 388V417M380.8 384V417M353.6 459V491M407.6 420V450M407.4 433V465M374.1 436V460M366.3 442V470M408.4 441V472M371.1 433V455M414.3 446V470M372.9 437V458M377.9 429V450M411.3 422V454M420.3 444V480M414 459V484M389.9 415V437M359.3 462V481M414.8 429V449M420.8 454V478M418.1 410V445M377.3 417V451M355 436V464M399.1 424V451M384.4 405V437M412.6 435V464M419.8 447V478M364.5 431V453M395 428V447M363 433V457M352.2 451V477M387.6 450V472M382.8 419V448M377.1 453V474M400.8 441V475M368.1 457V478M417.1 436V459M357.4 453V480M371.9 432V462M422.1 453V479M397.5 441V467M392.4 435V465M351.8 439V466M349.2 459V482M351.4 464V496M353.1 441V476M351.9 447V466M354.4 455V476M353.4 446V471M357.1 462V485M353.8 464V487M353.6 433V464M349.7 461V486M353.2 447V476M354.3 444V479M353.8 457V491M354 442V472M354.1 425V450M352.1 464V483M348.3 467V488M349.7 449V479M354.9 458V485M353.5 465V488M353.2 464V486M353.3 445V480M355.4 470V491M350.8 455V489M353.4 462V482M354.1 462V491M356.1 456V488M352.4 461V481M352.8 468V489M352.4 434V463M354.1 452V480M353.9 448V473M354.9 456V485M354.7 450V475M352.5 428V464M352.1 462V481M352.9 435V470M354.8 458V493M353.1 451V478M356.7 461V494M354.5 452V477M353.3 447V476M355.7 458V487M355 441V475M351.3 445V468M356 464V493M352.5 432V467M350.6 459V493M367 427V454M367.3 438V457M365.3 440V472M367.7 433V459M366.9 423V446M367.9 419V451M367.3 438V458M366.1 429V463M366.3 451V473M368.1 448V479M369.1 435V466M368.8 423V447M365.8 455V485M368.3 452V485M368.3 431V467M364.5 441V477M365.1 454V489M368.2 457V487M367 413V448M365.6 447V473M367.3 416V450M366.7 459V495M367.9 429V465M366.1 464V497M368.3 441V465M366.1 441V466M367.6 449V468M366.7 419V445M369 457V476M366.9 443V476M366.1 433V454M367.3 435V455M365.1 444V468M368.1 457V485M364.7 463V491M369.8 460V492M365.8 443V464M368.2 455V482M367.5 463V487M369.6 448V474M368.1 462V491M368.8 434V456M369.5 444V474M365.3 454V474M368 463V496M365.6 456V481M370.2 462V481M367.1 434V466M366.7 419V449M367.5 413V444M366 454V485M366.7 408V440M367.2 436V457M365.7 421V448M363.3 461V488M364.7 436V470M368.7 465V490M368.9 465V494M368.3 446V480M366.6 459V492M366.5 455V491M369.1 438V463M366.4 463V483M384.4 448V483M387.1 461V481M385.1 422V441M385.8 462V490M386.7 458V489M384.7 392V427M384.8 445V476M385.1 455V475M385.7 421V452M385.1 449V484M385.1 448V476M385.5 439V467M384.8 420V448M385.1 395V427M383.7 450V476M385.7 387V412M385.6 439V462M384.8 443V470M385.3 451V480M385.2 438V469M386.3 448V475M384.7 458V483M385.3 466V490M385.7 413V447M385.5 457V490M385.3 401V425M384.4 464V489M384.8 472V493M387.6 455V476M385.4 451V481M385.3 445V467M386 461V481M385 454V479M385 403V436M385.4 419V455M386.6 420V445M387.2 423V442M384.9 415V443M386.1 451V479M387.6 450V485M387.4 445V477M385.1 437V456M383.8 444V462M385.9 443V470M386.2 459V478M385.7 437V473M386.4 430V463M386.2 459V479M385.8 460V494M384.8 452V481M383.8 443V476M387.7 456V475M387.6 461V493M386.2 400V419M385.1 424V444M384.7 433V455M385.8 441V468M386.7 453V482M386.6 458V490M384.7 412V431M385.6 391V428M387.8 447V476M384.7 452V475M384.9 432V453M386.8 453V481M384.1 433V463M384.9 467V496M385.7 463V487M384.7 414V449M384.8 447V483M393.5 458V486M396.7 465V488M396.5 445V477M394.3 413V443M397.6 475V498M394.1 418V445M395.5 401V423M393 439V461M395.3 465V489M396 425V455M396.6 458V489M397.9 455V484M396.6 456V488M395.6 445V479M394.9 449V475M394.3 437V463M395.3 459V478M395.9 447V479M392.4 455V482M394 462V481M393.7 438V463M393.8 414V437M395.7 440V471M396.1 444V466M395.4 403V422M396.4 427V454M396.5 445V465M393.1 464V496M395.4 417V446M391.7 452V484M397.3 450V473M394.4 429V459M395.6 451V482M395.7 473V492M395.6 457V478M392.8 455V476M396.7 453V484M396.1 465V488M396.1 438V463M394.5 410V439M394.3 439V469M397.7 462V498M394.8 453V474M393 461V491M393.8 454V490M395.1 387V417M392.9 461V489M394.4 454V491M393.9 439V464M394.3 448V478M396.2 457V481M395.2 454V477M393.4 456V487M393.6 431V467M395 411V433M396.3 432V468M392.3 454V488M394.4 449V484M396.6 434V464M396.2 454V475M395.4 425V449M395.8 452V482M394.1 446V479M407 406V429M405.7 443V477M407 461V494M407.9 436V467M407.8 446V481M406.2 411V446M406 457V485M403.7 464V486M404.2 443V463M405.9 454V478M405.9 434V459M405.5 435V455M407.2 447V478M405.2 461V481M404.7 444V473M404.5 447V481M408.5 439V471M408.7 444V473M406.1 435V459M404.5 452V471M407.6 438V474M405.5 433V453M404.8 433V464M406.4 393V423M407.6 433V461M407.8 414V445M406.2 443V474M409.1 455V483M406 451V470M407.1 441V469M405.9 441V467M404 454V481M406.7 421V444M407 422V444M405.9 435V467M408.7 453V482M405.3 455V480M404.9 439V462M405.7 432V456M406.3 464V485M407.8 458V482M407.7 421V451M409.2 448V481M407.2 459V484M404.8 447V479M408 461V494M405.4 426V457M406.6 420V443M405.4 444V470M407.9 453V479M407.7 455V491M405.3 431V455M405.6 421V440M407.5 450V474M405.4 461V488M408.7 467V485M421.5 428V457M422.5 414V448M422.2 418V437M421.7 447V471M420.4 471V493M421.8 456V475M425.4 457V490M422.9 438V461M423.3 448V485M424.4 458V479M424.1 452V476M420.7 447V468M424 433V454M424.4 435V466M423.3 466V496M420.5 461V482M423.7 471V502M421.6 462V488M424.5 448V481M423.3 425V454M422.9 419V453M421.6 430V449M421.8 457V481M419.4 452V475M422.2 457V480M420.9 439V471M422.3 460V493M422.4 446V466M422.9 433V469M424.3 443V468M421.1 452V471M422.1 439V474M422.9 449V483M420.4 451V481M422.6 431V464M422.7 423V450M424.2 457V487M422.3 404V440M422.5 428V447M421.1 470V492M423.2 426V457M422.6 392V420M422.7 430V452M421.1 441V475M424 457V483M423.2 426V459M423.1 459V484M420.5 459V494M425.5 460V492M353 484V518M352.7 507V541M353.2 481V507M352.6 511V539M354.2 476V499M353 501V530M350.7 468V488M352.8 493V524M351.9 461V485M352.7 463V486M351.3 459V487M353.1 472V503M352.1 470V493M352.1 484V506M352.5 472V506M352.7 480V512M353.2 505V532M352.9 469V503M353.3 483V518M353.4 457V493M353.3 494V516M352.9 480V501M352.6 491V524M353.1 477V499M353.9 476V502M353.8 485V508M353.7 481V501M352.1 478V497M351.6 464V499M351.4 458V489M352.1 471V495M355 461V492M353.2 479V506M352 471V503M353.1 472V495M374.4 517V539M373.7 488V519M373.7 507V536M374.1 464V488M373.8 464V494M373.5 461V491M374.7 468V495M373.8 461V493M373.2 468V493M373.2 502V534M373.5 473V500M373.3 498V519M373.8 480V499M375.3 485V513M374.7 462V493M374.9 495V528M374.8 468V500M375.2 470V506M373.4 499V535M373.1 475V495M374.6 500V519M373.3 455V489M374.5 511V532M374 466V486M373.7 490V522M375 467V494M374.8 506V527M375.3 472V497M374.6 485V519M373.2 493V521M373.4 472V506M375.9 457V490M374.8 489V509M373.4 466V491M373.9 466V488M373.1 496V526M373.9 487V522M372.9 465V500M374.7 495V530M375.5 485V504M373.4 464V497M373.9 482V509M385.4 470V492M383.5 481V507M382.5 471V491M384 464V489M383.5 492V512M383.9 488V515M385.2 484V513M383.4 489V511M383.4 499V523M384.7 480V506M383.4 469V490M383.9 488V508M383.7 486V519M384.2 505V533M383 477V509M383.1 455V487M384.6 489V521M382.2 458V495M385.4 487V516M384.5 475V508M384.5 515V546M385.2 463V498M383.7 504V526M384.1 497V517M384.7 471V497M384 519V555M383.1 469V499M383.5 464V500M383.3 487V513M384.6 463V485M385.2 487V509M384.2 492V524M383.4 489V507M383.7 457V490M383.7 469V502M383.5 486V509M384.3 512V533M383.2 468V493M382.7 462V481M384 521V548M383 468V495M383.4 515V538M414 488V507M415.9 466V492M415.3 481V511M415.2 500V523M414 487V521M415.4 504V532M414.1 498V534M413.5 460V489M414.2 509V539M414.4 527V546M414.8 470V497M415 515V541M412.7 463V490M413.4 477V508M414.5 477V498M414.6 474V498M414.3 505V539M414.2 492V515M414.4 490V522M417.1 478V501M414.2 490V512M414.3 489V512M415.4 484V503M414.2 496V530M413.7 471V492M415.3 468V500M414.1 500V520M414.9 515V535M414.8 455V491M415.3 479V514M414.1 520V545M414 504V537M414.4 520V550M414.7 484V520M415.1 480V499M429.2 495V523M429 469V533M428.8 477V537M428.5 528V564M429 445V484M396.4 410V444M396 485V544M396.3 456V526M396.3 375V430M342 465V533M341.7 447V493M396.9 487V537M398.4 337V393M398 453V517M397.5 437V486M364.5 427V461M363.7 476V533M364.2 348V382M364.3 411V466M363.7 445V470M363.5 393V464M366.4 489V540M365.4 503V573M365.6 394V464M365.2 492V522M366 487V553M365.9 386V436M419.1 475V547M418.5 557V611M419.4 522V589M426.7 538V605M426.7 372V437M426.1 453V490M425.9 457V508M335 316V338M401.8 374V409M428.8 298V332M394.7 361V394M382.5 353V386M339.4 363V389M415.3 376V400M370.9 370V394M344.2 312V333M378.2 362V389M423.3 333V361M429.2 376V405M338.1 381V416M332 315V351M411.6 395V420M427.7 413V440M409.9 399V435M343 363V395M350.6 404V432M415.2 451V475M468.3 423V472M469.6 403V462M470.2 415V457M470.4 421V459M470.9 426V454M470.9 421V454M471.2 415V465M471.8 408V450M471.8 405V455M472.5 413V466M473.6 395V451M477.8 392V416M480.2 389V414M484.7 386V415M544.6 448V473M505.4 436V464M509.2 462V487M513.2 459V483M558.5 443V464M491.6 418V443M558.7 465V491M478.9 390V411M503.4 453V480M555.3 461V482M539.4 464V485M509.6 445V470M523 462V484M562.2 458V484M480.6 395V420M539.3 455V484M522.6 458V483M555.3 454V477M517.4 469V494M513 457V478M483.1 391V415M523 456V479M491.7 414V437M561.9 465V486M545.5 452V476M481.3 383V410M538.5 458V485M531.5 452V473M495 425V452M548.6 457V479M506.3 450V478M506.8 435V458M497.1 431V453M542.3 467V489M542.9 451V479M554.1 455V476M521.8 447V472M524.7 458V485M490.3 404V426M529.2 460V488M565.5 458V485M550.3 460V485M557.7 466V492M500 445V468M553.2 461V486M505 461V483M564.7 458V481M533.9 458V484M494.2 428V449M507.5 465V493M541.5 454V477M524.7 463V488M496.8 437V465M526.1 456V480M558 446V472M556.4 451V477M507 454V481M484.2 388V414M497.1 432V459M536.6 444V470M495.8 421V446M477.7 388V416M497 444V467M501.4 443V470M564.6 453V478M481.3 386V412M533.7 454V478M485.4 396V420M512.7 459V485M542.8 460V485M524.6 450V474M565.7 449V470M493.9 432V455M484.7 392V417M553.8 442V466M484.6 395V415M526.4 455V483M523.7 445V474M520.7 452V481M480.7 393V417M499.2 446V473M479.6 403V430M476.5 397V422M562.8 450V475M532.3 466V487M482.8 399V420M503.3 451V476M532.5 438V460M488.7 395V418M477.4 399V421M520.7 450V473M522.9 468V491M564 452V473M532.8 452V476M561.7 454V477M517.3 463V487M566.1 450V477M523.1 459V486M477.8 388V413M477.2 400V424M528.9 454V480M543.6 454V476M558.3 452V475M538.8 461V483M485.1 386V407M566.8 454V479M501.5 454V480M497.8 436V460M566.2 443V469M513 445V472M486.8 381V409M545.7 439V467M555.6 453V476M518.2 472V501M481.1 392V413M519 466V493M525.2 468V489M502.2 449V473M537.4 454V480M503.2 455V480M559.5 455V476M492 419V441M509.7 463V486M560.4 444V470M560 456V484M557.7 461V485M488.1 405V428M531.1 458V478M560.6 458V485M539.6 451V474M504.5 457V481M481.7 385V408M495 417V441M520.2 463V489M482 384V406M535.2 475V500M559.4 446V473M552 451V477M542.5 457V483M510.8 446V472M531.3 448V474M549.6 436V460M533.3 457V485M537.9 453V480M479.1 390V415M552.5 461V486M545.2 454V476M487.3 391V415M566.3 442V470M563.4 441V466M539.6 461V490M529.9 456V483M539.6 453V480M512.8 446V469M480.2 393V414M478.1 399V419M507.1 453V479M525.1 455V481M535.1 461V482M527 453V477M505.3 465V493M534.9 452V478M523.7 457V480M559.4 447V475M547.2 437V464M512.5 462V483M549.4 451V473M534.9 450V474M482.8 383V408M486.3 398V423M502.9 451V478M481.4 395V418M489 405V429M496.4 425V452M547.2 451V480M533.1 454V480M491.9 416V437M476.7 399V425M563.7 452V480M481.3 392V420M562.1 457V480M482.5 384V413M548.5 455V482M490.9 419V441M529 457V482M480 396V424M513.8 447V475M550.9 457V479M528.8 438V466M489.5 403V428M542.9 462V488M479.4 397V423M517.6 440V465M553.9 443V468M519 447V475M476.2 394V418M556.3 450V478M482.7 395V423M510 453V481M484.6 391V418M481.3 387V413M554.5 468V490M508.7 456V479M560.9 463V488M491.6 421V444M513.4 455V475M541.6 440V465M560.8 470V491M509.2 459V482M520.5 453V479M539.3 458V486M506.8 462V487M542.1 450V475M481.3 383V411M524.3 436V462M511.4 449V474M557.4 451V476M566.8 441V469M562 465V485M487.9 393V415M496 427V448M549.7 443V466M516.4 452V480M487.7 395V417M531.3 453V477M559.1 443V468M525.9 449V477M514.8 471V495M513.2 450V475M517.2 463V486M509.2 466V490M505.2 444V467M529.7 470V493M512.7 469V495M478.8 388V415M546 446V474M556.9 459V484M531 459V488M543.4 452V478M500.5 449V474M496.1 419V447M504.5 456V481M504.4 450V474M504.8 447V475M552.9 454V476M488.1 395V421M509.9 458V482M550 447V469M498.5 437V465M492.1 420V444M526 453V475M519.1 463V484M514.7 460V487M545.9 445V470M537.1 465V489M539.5 468V496M536.5 467V488M559.3 464V490M524.4 466V488M487.4 389V413M533.9 458V481M500.3 450V475M563.4 462V486M544.9 458V480M550 453V476M560.1 443V467M545.9 445V473M559.2 449V475M491.1 405V432M522.7 453V481M543.8 468V492M485.7 390V413M489 399V426M521.5 461V482M529.4 477V504M557.4 456V481M524.8 464V492M519.1 472V495M561.7 458V480M505.4 451V473M552.5 454V479M533.5 452V474M478.6 394V420M505.8 464V486M533.3 455V483M507 443V467M529.2 459V484M479.4 396V420M558.3 464V490M546 459V484M480.1 395V422M476.8 406V434M540.9 441V465M537.5 459V486M489 405V433M522.7 457V478M477.1 390V417M504.5 454V475M491.1 401V430M539.3 444V472M530.5 456V477M476 408V436M551.9 447V471M528.7 461V484M500.4 447V471M495.6 422V446M548.4 453V474M515.3 462V484M531.1 436V464M520.3 466V493M547.7 456V482M537.2 450V472M562 446V466M521.1 452V476M558.7 469V489M494.9 433V457M552.5 458V483M547.6 451V480M550.2 453V478M533.2 446V472M483.2 393V417M520.1 467V492M494.2 429V453M546.1 454V480M534.5 453V479M553.9 441V464M522.9 455V478M509.2 455V479M513.6 452V476M484.6 379V406M534.3 455V476M502.2 453V478M532.6 450V472M506.2 456V479M519.1 460V487M498.3 442V464M483.9 386V411M562.4 454V475M492.9 418V439M518.7 451V475M542.2 449V472M539.6 453V478M530.5 469V494M493.6 430V455M490.9 407V429M542.1 457V481M513.3 461V483M516.4 465V490M538.7 458V483M536.4 467V493M546.1 455V478M488.8 407V435M517.8 469V492M491.7 426V453M501.4 443V472M520.9 457V484M523.3 459V483M553.2 446V474M483.9 389V416M487.8 410V430M499.9 429V454M564.9 443V468M515.9 439V466M549 452V475M545.6 443V468M530.4 465V486M482.3 379V406M491.1 420V448M549.1 451V478M514.7 447V475M516.6 449V477M518.5 463V488M561 455V481M509.4 456V482M520.8 459V481M501.2 456V480M566.7 450V475M546.1 442V464M478.7 392V419M558.1 452V475M483.1 397V420M510.9 457V479M544.4 463V491M527.5 458V485M517.9 450V472M535 463V489M494.1 422V447M507.2 458V480M478.3 398V424M558.9 444V467M508.2 436V464M494.8 419V441M547.5 456V481M479.9 389V416M556.4 448V471M498.2 444V465M564.1 458V479M531.9 465V493M531.8 446V474M518.6 466V492M509.3 456V478M539.6 449V471M530 466V487M501.6 444V467M510.7 453V479M480.7 394V416M554.6 459V480M479.5 395V422M511.2 451V473M498.9 436V463M539.6 442V465M484.6 399V421M520.6 461V485M531.3 455V481M510.1 448V469M514.6 469V495M520.5 446V473M485.8 396V419M515.8 476V501M479.1 399V424M488.1 401V423M528.9 466V489M552.4 435V459M505.5 447V469M479.5 393V415M517.8 456V479M524.8 458V486M497.2 443V465M555.3 447V474M526.7 463V484M480.5 394V417M511.5 465V492M485.8 389V415M539.2 447V473M539.4 457V482M561.8 451V476M516.2 460V488M538 461V490M536.9 476V500M545.5 449V471M546.3 461V483M502.6 465V488M490.1 411V438M481 388V414M553.7 447V474M552.5 446V469M481 383V412M498.4 447V468M485.2 389V412M504.7 442V464M496.9 428V452M488.5 397V424M518.9 446V469M544.6 448V475M510 447V468M487.8 398V426M558.5 448V472M546.9 460V484M546.7 446V474M552.4 461V482M554.2 443V470M519.9 455V479M543.1 456V480M539.7 453V478M511.5 455V476M566.6 465V488M477.9 396V423M534.5 464V492M543.8 445V469M501.9 441V465M511.4 462V489M483.2 398V421M505.9 454V476M551.6 448V474M560 442V464M524.3 450V472M517.8 461V486M519 462V485M517.9 453V479M537.2 450V476M541.6 456V480M485.5 382V410M547 468V491M566.9 437V465M533.8 451V480M555.9 457V484M496.6 435V463M513.1 465V489M517 466V493M520.7 466V492M563.7 446V474M562.4 459V480M553.3 443V471M538.7 449V471M488.8 404V427M557.4 452V478M560.7 445V469M492.8 423V445M524.9 449V478M492.8 420V446M535 473V497M523.6 464V485M541.3 459V480M527.3 463V488M508.6 456V481M501.1 434V461M498.2 433V460M529 454V481M477.3 387V415M549.6 456V478M481.4 389V417M520.5 443V472M517.8 456V476M486.8 397V420M493.4 426V448M500.1 447V475M477.4 393V419M485.1 383V408M530.7 456V484M519 460V485M548.2 463V485M525.9 457V480M536.5 449V471M502.7 448V472M565.6 454V479M488.3 405V427M487.4 399V420M490 406V430M493.1 415V435M479.1 381V408M542.2 455V477M523.1 459V481M503.3 440V461M502.1 452V476M557.5 453V476M533.2 462V488M547.7 459V483M555.1 454V477M496 435V462M533.5 458V479M539.2 439V461M480.3 389V410M506.4 452V473M556.2 446V472M544 448V475M494.5 426V449M566.1 447V475M515.3 456V481M564.7 445V466M508.2 463V483M526.2 467V493M511.9 460V482M531.5 463V489M485 390V418M482.4 393V417M556.6 459V481M561.8 444V470M515.7 444V470M548 463V484M483.7 390V412M489.3 405V428M494.6 433V457M507.1 455V480M518 461V483M551.8 458V480M543.8 465V487M515.8 453V473M515.8 459V485M503.9 463V483M502 445V467M561.5 454V478M494 418V440M509.3 465V494M532 465V492M496.8 432V454M487.5 390V413M535 452V476M520.1 464V484M515.7 444V465M521.7 459V486M553.7 461V485M545.3 454V482M495.1 428V450M508.7 451V473M526.7 462V489M550.4 450V479M507.2 449V470M543.3 453V478M484.4 385V413M525.3 440V468M483.4 392V417M515.6 452V473M505.9 434V460M552.4 448V475M509.5 451V473M477.6 392V414M556.8 448V476M537.6 450V477M508 443V465M539 455V476M512.9 439V467M502.1 457V480M477.2 390V412M519.1 458V481M528.2 449V476M509.3 450V473M556.2 454V475M492.8 420V444M543.5 451V478M549.8 447V469M532.7 465V492M497.8 436V462M515.1 445V468M508.9 450V477M551.7 442V463M492.7 422V444M478.1 400V422M558.1 444V470M548.9 463V484M492.7 418V442M506.6 467V488M503.8 440V466M532.5 452V474M553.1 454V482M496.7 431V454M549.2 449V475M478.2 388V415M539 462V483M484.9 386V411M532.4 453V481M559.6 452V473M551.4 443V471M551.2 459V481M503.7 460V488M504.9 467V494M522.2 466V489M519.3 464V489M505.5 456V481M563.8 441V466M548.3 452V474M561.9 448V470M565.6 446V474M557.1 468V491M541.5 454V478M564.8 446V471M524.6 458V483M507.9 447V474M477.4 392V413M541.9 460V482M514.3 445V465M492.6 420V440M477.3 398V420M546.7 445V472M501.6 432V452M518.5 462V483M525 474V500M486.3 390V414M515.6 467V492M531.4 446V474M561.8 453V475M526.8 466V490M510.2 450V478M521.1 468V490M533 456V478M554 445V468M504.4 454V482M487 399V427M558.1 468V491M526.6 452V477M556.6 458V481M475.7 405V429M507.5 450V479M489 403V425M491.7 405V433M489 408V433M509.9 445V473M537.4 462V487M517 455V481M533 465V487M530.1 454V481M518.2 470V490M478.9 397V424M546.2 457V479M556.1 447V475M518.2 461V485M549.6 457V482M499.9 445V466M506 452V475M539.2 466V491M561.4 454V480M491.7 415V437M536.2 465V488M488.7 398V425M491.7 413V439M558.4 468V489M539.9 465V492M550.1 453V480M541.7 448V473M521 465V486M509.4 460V487M484 390V412M525.9 453V480M475.8 395V418M516.5 459V484M527.7 440V467M497.8 441V466M511.8 446V467M479.1 389V409M546.6 453V474M522.5 462V490M546.4 452V473M544.4 469V493M544.3 448V471M511.1 466V488M555.4 463V486M483.2 388V415M524.7 464V484M563.5 453V481M478.9 391V415M504.6 437V464M507.7 451V471M492.2 425V450M554.2 454V481M554.4 453V473M555.8 448V475M522.3 465V491M480.5 388V409M519.9 465V488M497.3 447V473M502.1 448V473M490.1 412V438M481.3 397V425M495.2 429V453M478.6 390V418M560.8 456V479M558.1 447V470M508.1 452V478M542.3 458V486M493.5 431V457M507.3 452V474M488.5 399V428M544 446V468M502.6 449V477M509.4 449V473M495.4 441V462M558.2 455V479M566 446V470M513.3 467V491M522.6 459V483M529.7 465V487M524.4 452V480M559.2 452V474M495.8 429V455M509.2 461V483M547.2 451V473M518.2 475V496M499.9 450V473M543.6 442V463M511.5 458V484M565.5 463V483M488 403V429M497.4 431V453M564.6 467V490M537.8 464V487M523.3 460V483M565.4 468V495M510.1 469V496M502.5 454V476M525.5 460V484M543.3 455V483M502.1 444V466M481.8 385V409M549.4 452V477M536.2 449V471M553.9 459V481M493.3 421V446M478.4 392V413M520.7 456V479M488.6 404V426M543 457V483M480.1 385V413M519.8 450V473M544.5 451V474M529.5 458V484M540.6 459V486M530.1 464V486M502.4 464V486M524.8 458V480M531.8 461V486M561.6 446V471M533.9 464V484M500.2 433V459M502.7 456V482M529.7 446V473M524.9 462V483M562.4 448V475M498.9 440V465M527.2 442V468M557.7 456V476M515.1 452V479M507.9 456V483M539.8 447V474M533.9 453V482M477.7 396V421M491.5 408V434M528.3 471V498M492.6 425V450M512.5 475V496M505.7 471V493M511.1 455V477M558 449V475M525.6 459V486M490.6 420V444M515 466V494M504.1 449V473M563.7 456V480M502.2 457V484M548.2 458V485M534.3 454V474M552.1 453V481M509 454V477M562.3 463V489M545.5 464V490M506.1 464V484M510.2 460V486M538.8 449V471M560.2 449V477M560.4 448V475M487.4 410V435M489.8 397V420M563.8 465V488M491.5 409V434M544.2 452V478M541.8 458V487M548.1 455V475M485 396V417M483.6 387V413M520.3 455V479M539.5 465V486M543.9 458V484M549.2 451V474M520.5 449V473M485.8 385V407M557.5 449V470M503.4 461V486M560.5 453V480M537.5 462V490M517.7 460V483M538.9 457V484M552.5 455V483M551 446V474M506 450V470M501.6 451V476M537.3 447V473M507.7 459V484M547.2 452V474M550.9 464V488M517 456V479M563.5 444V473M527.6 456V483M476.2 392V420M499 445V466M504.3 457V481M478.4 386V413M562.3 449V474M540.8 462V491M538.8 460V483M548.6 450V478M523.1 470V493M542.4 459V486M534.9 468V492M480.3 384V408M528.4 467V494M499.3 445V470M478.1 387V413M528.9 453V475M530.5 456V484M507.1 437V464M485.9 394V419M552.9 460V485M476.1 392V420M559.1 442V466M564.3 452V480M517.4 452V477M485.8 393V418M552 445V468M498.5 445V471M531.6 460V486M510.4 455V481M555.4 456V479M480.8 389V411M479.6 391V416M537.3 464V490M505.8 450V472M541.5 459V484M501.1 434V456M524.2 460V488M498.3 435V457M510.3 447V470M493.5 422V450M528.9 455V476M552.1 452V478M493.7 418V442M566.6 447V468M552.5 466V493M545.6 452V474M564.4 451V479M492.5 419V441M543.5 454V480M546.1 455V479M476.9 389V413M534.2 452V476M520 459V485M520.5 460V485M508.4 466V494M529.6 471V498M498.1 445V467M512.7 464V485M488 402V426M524.1 453V477M509.9 456V481M514.9 454V481M566.3 447V468M529.9 457V482M555.4 447V475M508.8 444V468M559.2 451V476M508.5 465V486M509.4 450V477M478.4 388V414M526.2 465V494M518.8 463V486M487.5 398V420M509.3 452V476M539.2 477V499M553.6 458V484M550.2 463V490M551.4 462V490M531.1 462V483M563.1 452V476M566 446V470M522.9 449V476M551.9 451V473M507.3 448V472M513.9 470V490M505.3 454V480M513.6 451V476M551.8 450V474M527.5 446V471M538.9 462V486M555 455V481M480.8 377V399M498.7 436V457M536.4 456V482M484.3 394V416M515.3 468V492M527.9 459V482M506.6 451V475M514.5 470V492M556.9 445V472M518.1 443V470M479.7 381V406M550.7 467V487M534.3 456V480M503.8 446V474M479.6 391V415M520 462V488M561.1 460V483M505.9 467V489M548.4 445V467M563.3 453V480M511.1 454V479M485.3 386V413M489 402V428M501.4 452V473M511.1 463V486M550.9 465V489M560.5 451V477M522.1 457V479M540.5 465V492M524.1 461V487M558.7 441V463M476.2 399V425M506.5 455V476M506.5 452V480M565.9 448V476M504.1 460V487M541.3 459V485M529.3 452V475M489.9 414V441M499 453V476M541.3 454V474M495.9 427V450M490.8 402V424M565.8 444V470M562 462V482M505.2 453V480M494.7 422V448M526.9 454V476M506.2 454V479M561 457V486M515 453V476M484.6 392V419M550.6 453V481M540.6 459V488M512.1 455V480M509.4 473V496M534.3 450V470M480 394V421M547.3 444V470M562.5 456V480M565.9 458V487M532.3 462V487M490.1 409V432M485.3 405V432M533.5 455V481M531.8 456V481M529 459V483M502.6 446V475M558.1 459V487M494.2 435V462M531.6 469V496M488.4 398V425M539.7 459V487M522.8 459V482M541.2 454V476M522.9 457V481M544.9 474V495M547.7 452V479M516.6 457V484M555 449V474M489.9 410V433M567 465V489M543.9 446V475M553.9 464V489M546.2 451V480M511.6 453V477M550.6 437V464M499.3 450V476M539.3 460V484M499.4 447V472M487.5 387V408M539.5 456V482M561.8 438V462M478.5 387V410M522 466V493M548.2 462V486M520.5 444V470M533.9 467V488M566.3 453V476M544.3 465V485M527.2 466V487M523.5 450V478M478.8 401V426M535.2 461V481M478.6 392V412M544.1 460V484M532.9 469V493M500.1 450V476M533.7 461V483M504.8 462V488M490 404V430M559.2 446V469M547.3 447V473M526.5 448V474M556.4 451V478M480.1 391V417M506.5 462V488M537.3 457V480M533.2 465V487M558.8 462V485M561.1 464V492M486.3 392V416M486.6 390V418M484.5 390V411M541.6 446V473M489.8 401V426M492 409V434M488.7 392V418M507 462V485M565 440V469M542.7 446V471M492.1 416V441M550.7 462V486M486.6 399V426M565 449V473M541.4 457V481M549.8 454V478M493.5 423V445M527.7 452V476M490.1 412V441M491.2 408V430M556 464V490M499 435V458M507.3 446V472M557 447V474M548.4 458V480M510.2 451V472M548.9 472V496M535.3 449V472M567 460V487M562.5 449V477M541.6 460V485M476.3 399V423M480.1 396V419M494.4 415V443M540.7 459V482M490.4 408V436M499.9 439V462M553.4 449V478M525.4 463V483M520.6 468V494M560.8 462V486M552.1 443V472M494.1 421V448M512.9 468V493M551.2 449V475M558.7 457V485M504.7 454V482M493.3 439V462M501.3 473V493M541.4 463V488M501.7 452V474M499.1 453V474M555.8 447V474M486.4 395V419M553.6 475V498M500.3 447V468M483.5 391V416M500.3 451V474M500.4 439V466M533.4 443V470M546.5 448V469M517.9 456V482M530.4 455V480M518.8 464V489M558.4 444V467M536.3 457V478M561.5 462V484M487 399V422M529.8 457V478M530.7 463V488M523.2 456V483M510.5 455V477M477.1 392V418M484.7 396V423M544.3 459V486M548.7 450V471M556.1 458V484M560.1 458V484M487.3 393V417M549.2 457V484M562.4 449V477M521.3 455V478M542.9 471V496M479.3 394V418M532.9 454V477M492.7 407V432M542.4 457V482M499.2 431V456M538 461V484M525.2 470V492M484 391V414M483.2 384V409M538.2 452V473M563.9 464V485M538.4 449V469M494.2 424V449M493.4 429V450M493.5 414V436M546.6 446V472M486.2 397V423M521.2 461V489M566.3 453V479M546.6 456V484M495.9 431V456M526 451V474M493 420V447M481.2 393V416M490.3 413V433M489.8 408V429M557 448V476M487 400V427M484.3 385V407M525 481V502M540.8 463V487M527.2 462V488M498.5 444V466M513.4 458V486M536.3 464V485M503.5 441V465M489.4 409V433M477 398V427M495.9 433V456M552.7 448V471M494.7 417V445M524.7 476V497M546.2 452V476M545.4 472V496M535 455V479M500.9 448V469M535.3 447V468M559.3 454V477M486.9 395V415M536.6 455V477M493.5 414V440M487.7 399V424M496.3 436V461M539.4 456V480M558.3 447V475M479 394V423M534.8 472V494M478.7 398V422M475.7 401V427M518.9 455V480M489.5 395V417M477 398V419M506.1 449V473M519.8 462V487M491.6 413V441M556.7 447V470M507.3 456V484M548.4 443V471M525.4 463V485M523 453V476M511.6 466V489M480 405V428M509.2 454V481M549.5 455V480M506.8 452V476M516.5 456V478M544.7 453V480M563.1 449V473M551.8 443V467M516.8 474V500M556.1 445V472M506.6 450V478M538.4 440V465M505.6 445V466M480.9 394V420M528.1 449V471M560.9 464V487M503.4 456V478M559.4 457V482M485 394V418M562.6 452V478M521.8 462V489M489.6 398V420M559.9 445V467M478.3 392V415M538.6 452V477M499.9 451V473M479.4 390V416M561.4 449V473M566.6 459V483M521.9 450V473M562.7 462V484M524.8 455V479M521.9 455V481M494.5 412V440M543.6 455V484M540.2 450V470M565.3 444V471M520.1 468V491M543.8 466V492M544.6 451V477M527.2 435V463M553.3 450V470M514.9 462V486M518.9 459V485M515.9 465V487M545.1 459V479M509.1 461V488M481.3 384V408M561.8 455V478M533.1 462V489M550.9 459V481M498.8 435V461M504.3 452V476M512.3 453V474M486.7 390V411M535.3 459V485M486.3 396V419M528.2 433V455M564 447V475M492.6 406V429M508.4 445V461M501.1 422V450M557 439V455M547 421V446M538.6 453V480M531.8 453V470M532.4 449V475M504.9 447V477M520.2 451V473M476.8 368V396M516.9 457V482M530 440V464M543.4 445V467M480.1 383V406M508.1 432V456M542.3 433V463M477.7 379V407M480.3 365V381M538.4 457V475M524.7 439V465M566.5 451V479M481 377V396M534.7 456V479M555.3 447V464M557.6 441V461M477.7 392V420M541.1 442V464M492 417V434M537.1 449V477M548 451V477M503.9 441V466M509.8 443V468M501.1 399V421M486.2 383V398M499.3 427V457M500.3 428V450M491.5 407V428M492.9 388V408M559.7 447V475M533.6 438V467M484.6 385V415M553.3 440V460M515.8 454V474M552.7 451V475M480.7 392V410M486.9 385V403M501.2 441V462M565.4 431V452M535.2 441V456M511.8 447V475M534.4 437V467M536.4 444V461M533.2 455V480M551.4 442V462M514.3 446V470M489.4 385V413M534.6 458V475M509.9 446V475M511.6 434V463M501.5 439V458M562.7 446V467M526.4 453V479M501.5 435V451M565.7 453V474M509.1 407V433M494.1 409V431M511.2 453V470M518.1 456V477M497.4 431V450M480.5 390V413M522.5 442V470M546.6 445V461M529.8 434V459M475.9 385V412M496.3 429V455M499 428V444M521 437V492M520.9 306V342M520 389V416M521 386V434M546.2 446V510M546.1 332V391M530.8 441V504M530.8 431V487M531.1 424V477M531.4 434V458M531.4 404V433M524 383V452M523.7 423V452M523.5 377V427M523.8 378V445M494.1 370V431M495 397V471M495 369V421M494.3 340V381M494 415V444M563.9 409V442M564.3 410V483M563.9 294V350M563.8 526V559M563.8 369V438M506.1 425V484M506.6 421V468M505.6 491V530M505.4 422V465M506.2 320V380M506 442V486M528.9 370V438M529.7 461V533M528.8 326V372M529.3 437V474M491.3 306V372M491.3 329V382M552.4 456V496M559.3 374V432M559.6 347V375M559.9 485V545M559.3 395V452M500.1 361V427M501 383V427M494.1 410V458M494.4 455V501M537.9 425V459M537.8 368V403M537.7 354V408M537.7 491V540M518.9 422V463M518.9 446V494M478.9 381V414M482.2 287V345M482.6 289V316M483.8 379V416M487.2 306V368M486.3 313V368M547.7 443V464M550.8 393V423M527.3 407V424M527 429V445M544.8 412V439M549.3 402V421M535.2 433V457M552.9 411V438M514.8 412V434M545.6 422V438M555.3 412V438M525 433V456M537.6 392V409M510.2 440V457M521.1 438V458M534.9 428V446M555.5 405V434M522.4 417V442M564.2 438V456M542 408V438M516.1 386V415M511 388V414M530.8 405V426M557.6 421V438M531.1 454V481M526.6 428V455M513.6 440V460M560.3 417V439M530.5 452V474M531 435V461M523.5 427V444M521.9 417V440M521 423V445M555.2 445V472M556.2 421V446M521.1 417V436M546.1 401V431M564.2 391V418M548.2 421V443M552.7 416V442M557.2 416V433M519.2 428V452M500.1 436V458M556.1 411V427M493.5 409V433" stroke="#ff0000" stroke-width="1.1" marker-start="url(#kr)" marker-mid="url(#kr)" marker-end="url(#kr)"/><path d="M249.5 465h0M215.2 485h0M210.3 472h0M240.6 480h0M286.9 466h0M266.8 475h0M226.2 482h0M258.5 482h0M239.8 482h0M255 467h0M234.8 475h0M210.3 466h0M294.6 470h0M247.4 472h0M215.5 492h0M211 476h0M227.2 470h0M281.4 469h0M224.1 479h0M221.5 479h0M212.6 478h0M269.4 483h0M206.1 471h0M261.7 487h0M264.2 479h0M285.5 463h0M212.6 466h0M223.7 475h0M248.8 472h0M287 482h0M234.3 471h0M273.2 476h0M258.3 469h0M213.9 470h0M246.4 474h0M238.1 467h0M277 489h0M268.9 486h0M239.8 481h0M295.6 489h0M254.5 480h0M252.3 491h0M234 462h0M227.7 464h0M227.7 477h0M228.4 475h0M254.6 476h0M226.5 469h0M204.5 478h0M271.8 482h0M250.2 474h0M246.1 475h0M247.8 472h0M253.7 471h0M235.2 480h0M277.8 474h0M241.2 486h0M293.1 479h0M230.7 469h0M213.2 471h0M211 480h0M285.5 493h0M262.5 493h0M263.6 475h0M269.1 486h0M225.7 470h0M243.6 474h0M276 470h0M249.3 471h0M262.2 486h0M210.9 483h0M204.1 468h0M291.6 483h0M245.1 481h0M216.9 485h0M225.6 473h0M236.6 469h0M289 485h0M244.6 484h0M212.1 480h0M227.8 483h0M257.8 474h0M294.2 468h0M254.6 483h0M255.5 474h0M264.8 469h0M287.7 477h0M254.4 468h0M287.5 486h0M243.4 486h0M270.1 484h0M217.3 467h0M266.7 479h0M250.2 470h0M247.1 478h0M212.8 488h0M203.7 465h0M248 477h0M235.6 480h0M213.8 478h0M267.3 480h0M249.6 493h0M275.5 483h0M275.7 495h0M215.5 490h0M211 469h0M217.9 474h0M258.6 459h0M262 480h0M246.9 486h0M211.7 480h0M205.9 466h0M285 474h0M259.9 477h0M295.5 478h0M290.4 471h0M217.3 470h0M257.4 475h0M285.8 486h0M276.2 482h0M238.8 487h0M242.2 474h0M259.3 481h0M243.1 487h0M238.7 481h0M274.4 473h0M270.6 483h0M274.1 461h0M208.8 492h0M223.9 474h0M268.3 485h0M257.7 475h0M210.2 467h0M246.1 475h0M213 470h0M261.7 469h0M291.9 477h0M258.2 474h0M244.1 475h0M284.1 481h0M220.4 491h0M268.7 481h0M215.3 473h0M288.9 477h0M287 474h0M208.6 461h0M239.2 475h0M205.8 481h0M242.1 480h0M293.8 471h0M271.1 476h0M261.5 467h0M281.4 467h0M232.8 480h0M235.5 477h0M249.7 474h0M269.9 482h0M259.8 477h0M222.5 482h0M232.9 486h0M254.1 477h0M236.1 487h0M221.9 487h0M215.7 476h0M288.8 469h0M273.9 481h0M279.3 474h0M213.8 482h0M228.9 483h0M226.7 467h0M278.6 472h0M272.8 472h0M294.4 462h0M254.6 470h0M204.6 478h0M218.7 473h0M289.5 478h0M212.1 478h0M226.5 476h0M212.9 467h0M229.2 477h0M272.6 475h0M234.1 474h0M244.8 480h0M277.9 478h0M242.5 474h0M234.4 481h0M269.9 468h0M221.4 479h0M259.5 479h0M247.7 473h0M235.7 479h0M248.8 477h0M268.2 468h0M230.8 479h0M287.1 472h0M257.2 488h0M251.2 479h0M238.4 472h0M239.2 487h0M270.1 481h0M276.1 483h0M291.8 481h0M245.2 480h0M221.8 461h0M277.9 479h0M276.5 479h0M248.5 463h0M259.7 480h0M285.1 476h0M255.4 468h0M203.5 489h0M246.6 477h0M209.3 477h0M291.7 478h0M213.6 475h0M251.1 475h0M260.4 479h0M282.3 473h0M228.7 474h0M291.4 478h0M272.2 483h0M231.3 480h0M207.4 481h0M266 462h0M289 478h0M277 483h0M217.5 479h0M203.6 480h0M251.9 478h0M233 475h0M221.6 490h0M286.9 483h0M272.5 480h0M203.7 477h0M277.1 477h0M225.5 466h0M266.9 469h0M259 471h0M284.7 481h0M239.8 478h0M209 490h0M206.8 483h0M269.4 482h0M284 478h0M260.1 479h0M277.2 474h0M293.8 481h0M284.8 469h0M204.3 478h0M232.5 488h0M278.6 477h0M215.1 471h0M225.9 483h0M205.9 463h0M277 477h0M231.7 469h0M258.5 486h0M236.9 485h0M266.8 473h0M263.1 478h0M235.4 485h0M243.6 485h0M248.9 476h0M218.9 475h0M227.8 477h0M254.5 485h0M260.4 489h0M279.1 489h0M274.6 480h0M243.4 480h0M292.6 464h0M277 464h0M287.3 478h0M230.7 478h0M273.7 477h0M284.6 472h0M211.9 469h0M249 472h0M243.2 466h0M242.1 480h0M235.5 479h0M210.2 478h0M270 481h0M256.2 483h0M258.9 481h0M227.4 460h0M276.1 467h0M276.1 476h0M220.7 487h0M209 482h0M270.9 489h0M283.7 460h0M217.2 470h0M233.9 482h0M286.5 462h0M291 475h0M290.5 485h0M243.5 468h0M264.2 470h0M253.2 484h0M245.2 481h0M248.4 471h0M231.7 486h0M219.4 475h0M266.8 484h0M267.9 488h0M264.1 487h0M227.5 478h0M221.2 479h0M268.8 480h0M287.6 473h0M238.6 485h0M238.1 465h0M281.6 489h0M221.2 471h0M212.6 477h0M275.1 487h0M286.5 473h0M241.6 478h0M284.7 471h0M229.6 479h0M206.7 479h0M239.1 475h0M261.6 476h0M206.9 472h0M246.4 480h0M285.3 462h0M226.7 469h0M207.4 486h0M280.1 471h0M294.4 483h0M210.7 480h0M278.1 485h0M284.9 475h0M204 480h0M205.5 476h0M266.7 481h0M290.5 474h0M250 479h0M219.8 477h0M233.2 481h0M207.8 477h0M258.3 477h0M208.3 469h0M225.8 467h0M204.9 480h0M232.8 483h0M206.7 471h0M264.4 482h0M263.5 481h0M223.7 475h0M253.7 478h0M292.5 476h0M293.5 475h0M277.1 475h0M285.4 484h0M246.3 475h0M250 480h0M266.6 478h0M220.1 481h0M219.6 484h0M242 466h0M289.1 471h0M203.4 487h0M242.7 490h0M259.9 476h0M212.7 467h0M214.8 482h0M289.1 468h0M243.2 472h0M274.1 483h0M223.8 463h0M217.1 462h0M238 485h0M245.6 480h0M233.3 493h0M274.3 472h0M286.4 481h0M267.1 474h0M271 477h0M249.8 463h0M260.9 473h0M292.1 473h0M228.9 493h0M219.3 483h0M290.1 481h0M230.9 478h0M215 471h0M294.1 485h0M286.3 479h0M216.7 471h0M286.7 501h0M245.2 470h0M245.4 468h0M241.8 476h0M279.3 460h0M293.4 484h0M228.9 483h0M226.2 479h0M216.5 469h0M211.3 486h0M265.3 487h0M229.3 471h0M211.6 477h0M237.2 471h0M275.8 485h0M289.6 471h0M247.5 483h0M258.2 477h0M290.1 464h0M239.9 470h0M267.5 475h0M291.5 474h0M235.3 473h0M260.3 488h0M295.9 481h0M262 472h0M236.7 486h0M274.7 491h0M275.1 484h0M214.5 478h0M259.5 470h0M255.1 475h0M234.8 474h0M264.4 475h0M259.6 471h0M222.1 484h0M203.9 487h0M272 472h0M209.5 480h0M230.7 477h0M295.5 469h0M246.8 482h0M292.3 489h0M282.8 482h0M260.9 481h0M264.3 462h0M245.8 488h0M252.3 483h0M221.9 481h0M244.2 476h0M225.3 462h0M229.1 468h0M239.7 490h0M278.5 477h0M250.3 468h0M254.9 460h0M230.4 486h0M250.4 476h0M277.9 480h0M233.9 478h0M241.7 465h0M204.7 492h0M268.5 476h0M260.6 464h0M256.9 482h0M280.2 477h0M206.7 477h0M208.8 481h0M253.9 467h0M261.5 478h0M260 473h0M212.9 471h0M217.6 474h0M222.1 471h0M285.9 475h0M291.2 477h0M235.7 471h0M233.2 486h0M276.2 489h0M277.8 473h0M223.4 476h0M211.5 469h0M236.8 474h0M276.3 473h0M273.6 472h0M217.4 477h0M284.3 489h0M244.8 474h0M264.8 457h0M260.1 477h0M231.7 481h0M258 470h0M232.3 481h0M288.4 465h0M211.5 468h0M255.9 480h0M250.7 474h0M295.6 490h0M213.3 475h0M230.5 479h0M239.7 476h0M237.2 475h0M239 462h0M237.3 490h0M279.6 467h0M244.5 484h0M261.9 477h0M261.4 494h0M216.6 479h0M223.7 485h0M279 469h0M271.1 477h0M288.1 477h0M259.2 468h0M273.9 476h0M261.6 474h0M281.2 477h0M211.7 476h0M229.4 477h0M274.5 476h0M203.6 470h0M212.3 468h0M209.5 492h0M233.1 471h0M234.5 473h0M244.7 473h0M224.8 480h0M236.4 466h0M211.7 467h0M246.4 492h0M288.9 477h0M256.7 477h0M292.5 486h0M277.3 480h0M206.3 472h0M233.4 470h0M294.4 475h0M246.5 489h0M271 471h0M220.2 474h0M256.7 471h0M233.7 483h0M211.5 485h0M256.2 473h0M216.9 479h0M227.7 478h0M216.6 470h0M277.1 477h0M215.3 485h0M271.8 473h0M269.6 490h0M289.1 481h0M231.9 474h0M252.9 483h0M278.8 474h0M210.7 467h0M286.7 479h0M221.9 479h0M290.2 469h0M211.9 472h0M256.5 470h0M226.9 473h0M257.2 487h0M249.6 475h0M291.5 475h0M216.7 480h0M234.9 466h0M244 474h0M220.4 468h0M266.7 484h0M265.9 485h0M244.2 476h0M263.5 475h0M209 481h0M262.5 470h0M253.7 471h0M220.1 467h0M267.4 477h0M238.1 472h0M228.8 475h0M226.2 484h0M232.3 481h0M230.4 464h0M258.4 483h0M207.1 478h0M217.3 474h0M259.8 480h0M215.2 474h0M288.7 479h0M249.8 473h0M221.7 472h0M251.3 466h0M220.2 480h0M263.4 480h0M274.9 479h0M206.1 472h0M224 476h0M290.2 476h0M278.8 471h0M271.4 470h0M218.3 465h0M217.1 467h0M227.6 465h0M228.2 472h0M218.8 478h0M260.8 474h0M244 481h0M244.5 482h0M274.2 486h0M292.2 473h0M236.3 476h0M210.4 472h0M235 475h0M248.2 482h0M260.5 475h0M277.3 471h0M288.8 479h0M205.7 486h0M284.3 479h0M205.6 489h0M205.5 478h0M230.1 473h0M282.5 473h0M283.1 472h0M248.3 478h0M267.3 483h0M258.2 484h0M222 482h0M247 481h0M214.8 476h0M229.4 480h0M271.3 467h0M237.2 475h0M285.1 482h0M251.6 487h0M216.3 463h0M225.3 479h0M293.2 483h0M254.9 473h0M254.7 473h0M221 470h0M245 461h0M243.4 471h0M269.7 471h0M211.9 459h0M230.3 482h0M287.5 474h0M233.4 477h0M261.6 474h0M273.4 468h0M260.9 478h0M271.5 482h0M215.4 476h0M291.7 476h0M208 498h0M220.3 484h0M253.8 483h0M260 471h0M207 492h0M284 480h0M265.4 470h0M237.5 484h0M263.6 478h0M213.1 473h0M225.4 493h0M243.6 469h0M268.7 475h0M282.7 479h0M249.9 481h0M240.2 474h0M259 476h0M256.3 469h0M207.5 479h0M222.5 474h0M257.8 480h0M216.3 485h0M287.8 479h0M240.1 484h0M250.3 468h0M203.8 471h0M263.2 479h0M262.8 477h0M233.1 466h0M289.9 466h0M266.6 483h0M290.5 472h0M204.1 477h0M294.9 487h0M224.8 468h0M210 467h0M247.8 483h0M215.2 471h0M281.8 482h0M294.6 469h0M242.1 485h0M226.6 483h0M224.6 465h0M242.3 482h0M258.2 467h0M218.8 484h0M236.1 471h0M263.1 464h0M250.9 482h0M210.9 469h0M204.5 475h0M204.1 470h0M219.5 483h0M241 482h0M212.6 471h0M216.9 471h0M215.4 439h0M214.6 480h0M215.3 450h0M215.2 432h0M214.5 455h0M215.3 467h0M213.8 459h0M212.4 473h0M215.2 442h0M214.7 445h0M212.1 476h0M215.6 463h0M213.2 457h0M214.9 470h0M217 454h0M217.1 473h0M214.2 471h0M215.7 462h0M217.4 471h0M213.9 459h0M216.2 458h0M215.3 471h0M216.7 472h0M214.6 460h0M215.4 454h0M216.8 482h0M212.8 468h0M218.8 474h0M215.2 461h0M214 470h0M216.8 458h0M214.9 476h0M214.6 435h0M218.9 477h0M217.7 466h0M213.9 471h0M214.6 441h0M217.4 476h0M213.2 464h0M214.6 458h0M230.7 450h0M231.5 476h0M231.8 479h0M229.2 400h0M231.4 471h0M229.9 451h0M228.6 470h0M229.3 428h0M228.2 471h0M229.5 458h0M229.2 404h0M229 420h0M229 440h0M228.7 458h0M230.8 433h0M228.4 473h0M229.2 451h0M230.4 424h0M230.3 453h0M229.5 402h0M228.6 441h0M227.9 473h0M230 420h0M229 463h0M229.4 405h0M233.3 466h0M229.1 444h0M230.9 421h0M231.5 442h0M230.4 454h0M229.4 435h0M231 447h0M230.2 462h0M229.4 471h0M229.6 481h0M228 473h0M230.2 482h0M231.2 477h0M231.3 473h0M229.6 447h0M232.5 470h0M230.4 473h0M228.4 471h0M228.9 446h0M229.7 471h0M231.5 483h0M231.1 475h0M230.1 429h0M229.5 474h0M229.5 396h0M229.1 429h0M229.7 396h0M229.7 429h0M229.1 411h0M228.2 460h0M229.4 410h0M243.8 448h0M243.9 469h0M244.4 405h0M244.5 435h0M245.3 487h0M243.3 479h0M243 451h0M244.7 479h0M243.6 469h0M244.6 453h0M244 381h0M244 389h0M244.7 442h0M242.8 450h0M243.1 475h0M244.2 447h0M244.3 414h0M243 464h0M244.1 455h0M244.2 410h0M242.8 464h0M241.9 474h0M243.9 410h0M242.8 463h0M242.4 462h0M243.6 402h0M244.1 380h0M243.4 431h0M243.2 443h0M243.7 411h0M244.7 440h0M243.5 404h0M242.2 471h0M243.6 461h0M242 434h0M242.3 454h0M242.6 438h0M244.4 471h0M244.3 453h0M243.6 450h0M245.2 421h0M245.1 440h0M244.5 420h0M243.7 413h0M243.9 448h0M245.4 469h0M245.7 461h0M243.1 450h0M243.2 467h0M245.2 439h0M246.6 472h0M244.4 473h0M246.1 475h0M243.7 475h0M246.3 476h0M243.5 410h0M251.6 460h0M252.6 465h0M253.3 436h0M253 409h0M254 422h0M253.8 435h0M252.9 416h0M253.8 466h0M254.9 471h0M255.4 462h0M254.5 451h0M252.8 399h0M251.4 462h0M254.1 468h0M252.4 440h0M252 451h0M250.7 471h0M252.6 430h0M254.6 456h0M253.3 411h0M254.1 433h0M255.4 471h0M252.3 478h0M252.4 461h0M251.8 459h0M252 410h0M252.5 454h0M252.5 436h0M251.6 476h0M253.6 418h0M253.4 416h0M253.1 440h0M252.6 438h0M253.8 475h0M254.5 458h0M255 455h0M251.9 422h0M255.5 483h0M252.1 477h0M254.2 463h0M252.4 477h0M252.5 463h0M254.4 472h0M254.9 454h0M253.7 419h0M252.1 452h0M253.4 414h0M254.9 472h0M251 458h0M252.7 428h0M251.4 461h0M253.7 469h0M252.3 442h0M254.1 457h0M252.7 472h0M254.3 453h0M253.2 464h0M252.3 467h0M254.5 440h0M250.9 475h0M252.1 458h0M252.2 401h0M252.1 442h0M265 415h0M268 471h0M266.8 470h0M263.8 471h0M267.2 454h0M267 465h0M265.2 439h0M265.8 481h0M261.7 467h0M266.3 441h0M266.9 467h0M266.1 441h0M265.1 467h0M264.6 467h0M266.2 443h0M266.8 467h0M263.6 474h0M265.8 468h0M266.2 443h0M262.9 468h0M265.8 455h0M265.1 427h0M265.7 480h0M265.8 479h0M264.8 416h0M264.3 461h0M266.5 474h0M263.7 472h0M266.6 431h0M264.8 451h0M266.2 429h0M264.3 463h0M264.9 478h0M265.8 472h0M264.9 475h0M265 468h0M264.6 443h0M266.2 411h0M267.7 477h0M265.6 410h0M264.7 415h0M266.8 466h0M265.6 449h0M265.9 416h0M267.4 454h0M264.9 428h0M268.9 477h0M267 467h0M266.7 437h0M265.2 406h0M264.2 462h0M267.8 465h0M266.9 472h0M266.2 468h0M264.9 421h0M262.6 472h0M271.6 467h0M274.4 471h0M272.6 454h0M275.3 429h0M273.1 472h0M275.7 435h0M273.1 456h0M275.4 440h0M274.5 480h0M273.8 454h0M274.7 464h0M278.7 466h0M273.7 466h0M275.1 476h0M271.9 477h0M271.1 474h0M273.2 466h0M273.3 459h0M275.4 464h0M276.6 462h0M275.2 461h0M274.1 449h0M276.3 472h0M273.3 453h0M279.3 480h0M276.3 465h0M272.8 460h0M272.3 465h0M277.4 465h0M275.6 473h0M271.7 459h0M276.9 474h0M275.4 474h0M273.4 461h0M274 460h0M276.9 479h0M273.2 471h0M277.7 480h0M275.8 439h0M274.5 475h0M274.2 458h0M276.3 471h0M283.5 456h0M282.1 447h0M282.3 475h0M285.8 484h0M286.4 477h0M283.1 442h0M285.2 468h0M284.6 458h0M286.4 475h0M284.1 435h0M285.3 469h0M283.6 436h0M284.8 472h0M284.2 463h0M284 424h0M284.6 485h0M284.2 449h0M285 458h0M282.4 469h0M283.7 465h0M285 457h0M284.1 426h0M283.2 463h0M283.7 462h0M283.9 429h0M283.4 464h0M284.4 427h0M283.1 434h0M284 415h0M283.3 472h0M282.1 472h0M284.7 455h0M284.5 476h0M282.1 461h0M284.4 420h0M283.3 471h0M284.9 446h0M283.4 466h0M284.6 471h0M284.3 417h0M284.9 456h0M283.6 461h0M283 436h0M282.6 444h0M284.8 471h0M283.4 436h0M281.1 481h0M284.5 416h0M283.7 463h0M229.7 483h0M230.3 502h0M231.4 482h0M229.2 485h0M231.6 474h0M230 517h0M229.5 484h0M229.5 512h0M228.8 491h0M230.1 486h0M231.1 503h0M229.9 485h0M229.1 479h0M229.8 503h0M228.7 477h0M230.8 498h0M228.9 488h0M231.1 493h0M231.3 487h0M229.9 509h0M230.2 517h0M230.8 487h0M229.3 498h0M228.6 491h0M230.1 489h0M229.4 473h0M228.1 485h0M229.5 520h0M231 499h0M230.3 518h0M229.8 483h0M230.7 498h0M230.3 483h0M230.3 502h0M229.8 536h0M229.9 490h0M228.7 502h0M230.8 496h0M229 474h0M230.7 494h0M229.2 497h0M231.4 475h0M249.9 514h0M250.4 506h0M249.2 510h0M250.3 485h0M250.1 516h0M248.6 497h0M253.5 479h0M250.8 502h0M250.5 493h0M251.1 484h0M251.1 475h0M249 490h0M249.6 518h0M250.5 493h0M251 500h0M249.7 472h0M249.6 510h0M251.1 502h0M250.9 473h0M250.2 534h0M252.7 477h0M249.1 511h0M251.1 481h0M249.3 518h0M250.4 504h0M251.1 478h0M249.2 515h0M249.8 490h0M249.3 497h0M248.8 486h0M249.7 489h0M249.8 492h0M249.8 505h0M248.7 477h0M249.7 482h0M250.3 523h0M249.9 484h0M250.1 524h0M250.6 506h0M250.6 515h0M248 478h0M250.7 508h0M249.7 481h0M251.3 483h0M250.6 495h0M251.4 478h0M249.8 527h0M248.4 476h0M250 536h0M264.7 529h0M264.8 500h0M263.5 490h0M264.1 483h0M266 488h0M264.9 505h0M264.1 481h0M265.1 477h0M263.9 486h0M264.9 481h0M265.6 509h0M265.2 520h0M264 477h0M264.7 482h0M264.4 510h0M264.4 502h0M265.6 485h0M267 482h0M264.7 506h0M264.9 513h0M266.5 482h0M265.5 492h0M265.1 481h0M263.8 477h0M265.3 485h0M264.6 516h0M263.5 486h0M263.8 497h0M266.4 489h0M265.9 483h0M265.1 527h0M266 498h0M264.9 515h0M265.2 482h0M265.2 475h0M264.2 480h0M265.4 486h0M264.8 517h0M265 506h0M265 479h0M265.9 495h0M264.6 477h0M279.4 490h0M280 492h0M279.8 510h0M279.6 496h0M280 497h0M280.2 480h0M281.7 487h0M280.3 514h0M279.7 498h0M279.8 485h0M280.9 502h0M280.2 503h0M279.2 498h0M279.5 481h0M280.5 499h0M280.1 509h0M280.5 497h0M280.5 488h0M280.1 520h0M280.3 505h0M279.3 480h0M280.1 521h0M280.7 481h0M279.2 474h0M279.8 488h0M280.7 499h0M280 487h0M279.1 476h0M280.5 484h0M280.8 498h0M279.6 495h0M279.1 501h0M281.9 479h0M281.7 476h0M279.6 505h0M279.1 490h0M280.7 486h0M280.7 480h0M279.1 513h0M280.1 502h0M279.8 479h0M280.6 503h0M294.5 494h0M294.1 475h0M294.1 502h0M294.7 479h0M293.8 506h0M293 494h0M292.4 473h0M293.2 487h0M292.1 486h0M293.3 499h0M294.2 504h0M294.2 498h0M293.3 486h0M295.1 471h0M294.3 477h0M293.1 494h0M294.4 493h0M294.3 496h0M293.8 497h0M294.3 485h0M295.8 471h0M293.2 486h0M292.1 495h0M293.1 473h0M295.1 480h0M293.8 489h0M293.8 509h0M292.7 478h0M269.1 426h0M228.7 427h0M286 441h0M287.1 448h0M273.4 458h0M257.7 473h0M203.7 471h0M205.7 472h0M228.5 470h0M243.2 470h0M236.1 463h0M258.4 472h0M272.7 468h0M221.2 472h0M283.1 466h0M292.2 469h0M251.8 455h0M269.1 463h0M257.7 434h0M289.7 472h0M211.1 446h0M252.7 472h0M272.7 437h0M205.8 443h0M217 434h0M252.6 438h0M204.3 461h0M293.3 462h0M266.5 467h0M256.8 463h0M267.8 466h0M228.7 451h0M261.4 439h0M286.1 471h0M262 446h0M233.3 470h0M279.1 469h0M244.2 452h0M248.2 472h0M272.4 460h0M272.7 464h0M230 416h0M265.6 456h0M286.6 475h0M277.7 473h0M259.6 459h0M246.6 459h0M214.8 456h0M237.2 465h0M206.7 475h0M281.9 467h0M270.1 466h0M228.9 455h0M293.8 446h0M262.6 463h0M205.6 448h0M230.5 441h0M219.1 470h0M295.7 472h0M264 456h0M235 457h0M280.8 463h0M218.4 446h0M241.4 428h0M269.3 462h0M211.1 460h0M272.2 472h0M254.3 452h0M224.5 436h0M281 428h0M261.7 457h0M281.6 474h0M273.5 455h0M282.5 461h0M233 463h0M207.5 461h0M275.2 456h0M211 429h0M275.1 460h0M258.7 447h0M218 461h0M232.4 459h0M244.5 455h0M249.8 470h0M257 428h0M241.2 460h0M293.6 455h0M292 465h0M205.6 442h0M294.3 453h0M216.9 473h0M210.1 462h0M270.6 457h0M274.5 451h0M267.2 450h0M289.8 440h0M223 468h0M254.5 457h0M290.9 467h0M228.7 465h0M239 420h0M287.3 441h0M250.7 417h0M264.3 453h0M247.8 451h0M214.4 449h0M231.5 440h0M258.2 437h0M209.2 434h0M269.4 460h0M218.7 472h0M245.3 464h0M206.9 461h0M222 471h0M209.8 475h0M205 472h0M275 433h0M226.7 445h0M239.6 443h0M234.3 461h0M221.8 476h0M287.7 450h0M255.6 468h0M272.7 467h0M295.2 465h0M208.4 465h0M234.4 448h0M290.6 456h0M237.8 447h0M271.8 436h0M283.4 458h0M206.2 462h0M255.1 420h0M280.4 460h0M268.5 431h0M239 453h0M234.8 472h0M230.5 448h0M243.9 473h0M254.8 467h0M253.4 423h0M219.2 436h0M257.5 474h0M269.4 448h0M204.3 459h0M206.4 468h0M217.5 474h0M266.3 448h0M265.1 446h0M237.8 463h0M273.5 440h0M206.8 476h0M227.1 419h0M210.3 475h0M231.2 446h0M258.4 454h0M279.3 449h0M281.6 447h0M257.7 410h0M276.9 467h0M244.3 449h0M209.9 471h0M222.1 424h0M248 453h0M268.4 467h0M222.3 434h0M294.4 468h0M205.9 474h0M254.1 452h0M206.7 475h0M257.8 438h0M284 437h0M253.4 464h0M210.2 448h0M264.2 469h0M236.9 443h0M228.8 475h0M231.6 462h0M207.7 443h0M232.6 468h0M257.1 458h0M263.7 461h0M223.8 473h0M242.6 473h0M267.1 452h0M218.5 453h0M208.8 432h0M294.3 457h0M245.1 437h0M268.1 454h0M281.7 467h0M270.7 440h0M253.3 445h0M225.6 465h0M266.9 464h0M235.5 439h0M223.4 462h0M218.9 461h0M205.2 472h0M268.1 437h0M215.1 431h0M234.6 434h0M294.9 476h0M264.3 467h0M249.4 460h0M234.2 455h0M212.9 447h0M294.3 446h0M244.3 467h0M283.2 447h0M286.8 472h0M232.9 460h0M286.7 457h0M292.6 466h0M276.4 456h0M248.9 453h0M255.4 435h0M273.4 451h0M252.5 460h0M252.4 473h0M258.3 428h0M257.4 467h0M259.4 405h0M231.2 483h0M231.6 418h0M231.1 480h0M231.5 560h0M230.8 483h0M208.7 534h0M208.6 360h0M208.9 492h0M209.5 533h0M247.4 420h0M246.7 457h0M246.5 453h0M236.9 459h0M236.6 454h0M237.2 426h0M236.8 480h0M273.8 502h0M273.2 419h0M273.6 443h0M272.8 353h0M272.9 452h0M272.7 401h0M260.9 477h0M260.9 423h0M261.5 311h0M261.2 493h0M261.3 446h0M279.6 476h0M280.9 444h0M225.9 449h0M226.2 527h0M225.9 417h0M226.4 377h0M227.1 472h0M244.9 502h0M244.5 526h0M245.3 465h0M293.9 430h0M281.5 417h0M212.4 458h0M294.6 442h0M271.6 328h0M281.3 380h0M237.3 324h0M239.3 369h0M288 375h0M267.9 316h0M230.6 426h0M241.7 364h0M266.7 374h0M232.3 338h0M241.3 335h0M239.3 421h0M224.9 355h0M207.6 380h0M245.1 380h0M279.8 402h0M257.8 398h0M265.5 367h0M209.4 358h0M223.7 420h0M256.9 374h0M282.5 413h0M290.5 332h0M250.8 442h0M219 385h0M285.1 392h0M231.4 396h0M267.6 466h0M226.8 350h0M287.9 351h0M272.2 473h0M265.1 379h0M291.7 418h0M241.9 426h0M226.4 339h0M291.4 378h0M255.7 376h0M222.5 469h0M226 393h0M235.5 416h0M255.9 368h0M199.6 459h0M349.9 481h0M393.2 477h0M411.4 493h0M386.2 477h0M372.8 478h0M346.9 475h0M331.8 494h0M391 475h0M403.7 485h0M393.2 473h0M367 486h0M417.4 463h0M407.1 475h0M374.7 465h0M406.8 482h0M389.4 474h0M414.9 485h0M342.1 486h0M390.5 483h0M351.7 473h0M350.1 474h0M389.5 485h0M427.3 468h0M393.3 486h0M336.3 471h0M407.2 472h0M337.6 456h0M370.7 472h0M338.5 465h0M348.7 478h0M378.9 479h0M424.3 473h0M363.9 482h0M345 475h0M345.4 474h0M335.3 486h0M376.1 470h0M400.6 485h0M366.3 485h0M352.2 471h0M351.3 483h0M418.4 484h0M425.5 463h0M369.3 466h0M335.8 475h0M383.4 477h0M412.2 474h0M342 485h0M355.6 481h0M366.6 480h0M357.8 480h0M356.5 464h0M386.1 483h0M345.4 485h0M393.5 479h0M353.8 481h0M418.9 480h0M405.4 476h0M384.9 490h0M415.5 484h0M359 465h0M376 486h0M393.9 481h0M383.1 487h0M426.1 485h0M363 476h0M371.3 473h0M394.3 466h0M346 475h0M399.6 477h0M355.7 476h0M384.7 485h0M367.3 478h0M357.9 483h0M387 475h0M365.6 481h0M386.8 485h0M410.3 475h0M375.7 477h0M409.5 487h0M429.1 480h0M358.3 484h0M417.2 472h0M395.5 482h0M368.7 473h0M399.3 483h0M344.2 472h0M345.5 487h0M426.7 479h0M360.5 477h0M363.5 479h0M349.7 465h0M399.7 469h0M405.2 488h0M331.9 470h0M385.1 467h0M429.5 454h0M414 476h0M364.9 475h0M368.8 480h0M382.4 479h0M369.3 468h0M416.9 478h0M375.8 467h0M392.6 472h0M406.8 480h0M342 485h0M428 465h0M416.3 463h0M340.2 485h0M352.6 474h0M397.5 485h0M365.5 476h0M394.9 478h0M384.3 467h0M337.1 483h0M383 458h0M413.8 480h0M395 479h0M344.8 466h0M418.3 476h0M414.6 481h0M345.5 464h0M346 476h0M342.8 458h0M388.3 477h0M399.7 471h0M341.7 480h0M388.8 486h0M389.8 484h0M377.3 473h0M374.6 480h0M416.8 468h0M345.7 483h0M408 482h0M332.7 479h0M362.6 481h0M332 479h0M379 461h0M405.6 477h0M389 477h0M368.2 476h0M389.9 475h0M386.2 478h0M363.6 475h0M350.2 485h0M418.5 473h0M344 478h0M378 478h0M428.1 472h0M395.7 463h0M404.2 479h0M374.5 466h0M347.7 473h0M390.1 482h0M364 459h0M344.7 486h0M363.5 492h0M385.9 485h0M419.3 482h0M367.6 493h0M386.8 474h0M383.5 473h0M336.6 464h0M372.9 479h0M336.9 473h0M392.4 482h0M420.8 491h0M332.7 471h0M412.9 487h0M401.3 465h0M405 479h0M373.7 480h0M414.1 488h0M426.5 480h0M407.9 477h0M389.1 482h0M394.8 489h0M372.3 476h0M353.9 467h0M332.3 468h0M411.6 479h0M352.9 471h0M385.5 483h0M393.6 466h0M345.6 472h0M387.5 456h0M374.5 468h0M412 489h0M351.5 474h0M428.8 465h0M393.1 479h0M381.3 480h0M415.6 481h0M333.1 496h0M371.8 482h0M389.2 471h0M423.9 472h0M394.8 467h0M393.8 478h0M404.8 467h0M409.6 480h0M400 474h0M336.9 478h0M338.8 465h0M391 464h0M371.9 468h0M428.6 478h0M394.6 482h0M410.2 473h0M359.1 502h0M375.3 468h0M388.1 475h0M402.8 487h0M376 470h0M353.2 481h0M352 489h0M364.7 476h0M332.2 481h0M413.1 484h0M349.4 476h0M399.7 479h0M353 487h0M379.6 479h0M371.7 478h0M342.6 471h0M376.4 487h0M411.8 497h0M422.7 486h0M347 481h0M340.2 471h0M409.4 470h0M360.1 482h0M423.7 460h0M387 475h0M351.3 482h0M406.1 473h0M382.5 478h0M335.5 482h0M424.7 486h0M387.4 470h0M423.9 474h0M375.3 464h0M370.6 466h0M410.5 470h0M369.5 460h0M397.8 487h0M429.9 478h0M362.4 487h0M359.4 475h0M384.9 483h0M405.6 471h0M393.9 484h0M386.1 469h0M402.7 480h0M392.2 467h0M373.4 481h0M351.6 465h0M425.9 498h0M345.7 471h0M378 466h0M377.7 470h0M340.1 475h0M362.1 461h0M344.9 458h0M345.5 469h0M412.1 470h0M395.2 476h0M376.8 470h0M374.4 478h0M368.9 469h0M354.9 470h0M408 471h0M430 477h0M347.6 469h0M411.5 475h0M412.4 482h0M418.8 474h0M373.5 484h0M421.2 470h0M347.2 478h0M336.9 485h0M425.8 473h0M384.9 467h0M349.4 474h0M392.1 456h0M378.6 465h0M409.1 474h0M412.3 471h0M412.8 487h0M390 477h0M388.3 476h0M429.8 482h0M358.4 454h0M346.4 481h0M351.6 482h0M347 477h0M369 475h0M397.2 479h0M367.3 474h0M409.3 492h0M371.3 472h0M406.4 482h0M386.8 477h0M338.4 473h0M336.9 480h0M335.7 480h0M395.5 473h0M349.9 471h0M349.9 477h0M389 468h0M410.2 482h0M373.4 481h0M405.8 474h0M410.8 485h0M374.7 473h0M427.3 463h0M343 453h0M384.7 484h0M409.7 470h0M375.6 477h0M354.7 473h0M400.3 483h0M358.1 474h0M361.5 479h0M407.8 485h0M352.8 487h0M376.4 480h0M403.5 467h0M394.9 488h0M410.2 472h0M337.2 491h0M347 473h0M399.9 473h0M349.1 470h0M332.6 490h0M383.5 481h0M418 465h0M422.4 471h0M340.2 480h0M340.7 480h0M359.2 492h0M411.9 477h0M417.1 470h0M409.5 472h0M394.7 477h0M376 477h0M361.1 471h0M354.3 472h0M415.9 482h0M385.6 471h0M410.7 468h0M414.2 477h0M406 475h0M353.6 479h0M392.3 474h0M414.5 476h0M415.4 475h0M370.6 474h0M384.8 477h0M393.8 471h0M364.1 447h0M353.8 493h0M394.7 490h0M359.8 474h0M385.1 469h0M413.1 480h0M379.7 477h0M362.8 480h0M352.8 463h0M333.2 472h0M336.5 475h0M359.7 483h0M352.6 471h0M343.2 478h0M428 482h0M386.8 457h0M421.2 484h0M416.8 485h0M347.9 480h0M384.9 476h0M344 478h0M362.7 478h0M391.8 486h0M409.9 490h0M386.7 474h0M398 480h0M405.4 478h0M334.8 485h0M380.4 491h0M378.2 465h0M358.6 470h0M355.5 505h0M344.9 471h0M413.9 476h0M395 475h0M334.7 486h0M362.4 498h0M348.8 482h0M336 478h0M382.9 476h0M398.3 474h0M397.4 475h0M392.9 478h0M425.5 475h0M377.2 481h0M389.5 487h0M344.9 485h0M376.7 485h0M333.8 475h0M355.8 478h0M360.8 490h0M345.4 471h0M362.3 474h0M399.6 489h0M427.1 483h0M359 494h0M345.5 487h0M384.4 472h0M340.1 487h0M412.4 485h0M351.4 485h0M364.1 477h0M371 485h0M350.6 480h0M355.2 473h0M363.1 468h0M332.2 480h0M387.9 483h0M374.8 467h0M391.2 473h0M359.5 482h0M357.3 477h0M390 483h0M392.1 488h0M333.8 481h0M335 486h0M384 486h0M397.5 474h0M368.3 476h0M365.4 477h0M364.1 469h0M425.6 475h0M333.6 472h0M357 471h0M350.5 478h0M400.2 485h0M367.9 476h0M359.2 478h0M348.6 483h0M356.2 480h0M352.2 470h0M414.3 485h0M345.3 482h0M418 477h0M374.6 485h0M340.3 490h0M386.8 477h0M339.8 470h0M355.5 475h0M369.2 474h0M363.4 471h0M363.3 467h0M382.6 479h0M406.4 473h0M404.2 489h0M419.9 483h0M352.6 478h0M416.5 466h0M345.5 478h0M386.7 480h0M416.8 479h0M332.1 476h0M352.1 464h0M365.9 467h0M389.8 478h0M378.6 465h0M336.3 474h0M381.1 482h0M379.4 483h0M349 490h0M426.8 479h0M381.2 480h0M362.1 469h0M403.7 472h0M404.1 466h0M404.7 483h0M419.7 492h0M384.9 488h0M351.6 482h0M348.3 482h0M360.1 474h0M428.1 486h0M410.3 482h0M340 473h0M417.7 482h0M387.9 492h0M338.6 475h0M411.2 484h0M348.5 487h0M417.1 465h0M390.3 473h0M389 479h0M393.2 469h0M404.3 471h0M384.5 476h0M341.8 484h0M406.7 479h0M351.8 467h0M418.9 471h0M333.5 472h0M414 468h0M378.6 479h0M348.3 471h0M380.3 482h0M332.6 474h0M388.9 487h0M389.1 485h0M421.7 479h0M331.9 483h0M375 475h0M390.2 473h0M345.5 477h0M369.2 484h0M427.3 469h0M358.5 469h0M350.3 476h0M339.7 471h0M410.9 487h0M344.7 476h0M368.2 473h0M407.8 481h0M386.3 467h0M394.4 482h0M383.4 470h0M333.7 475h0M348.3 481h0M335.5 491h0M360.5 479h0M386 471h0M345.6 476h0M384.7 494h0M354.9 468h0M358.7 478h0M359.1 474h0M343 476h0M425.3 479h0M423 472h0M429.4 474h0M414.9 472h0M359.1 460h0M371.1 490h0M341.8 483h0M394.8 482h0M372.7 487h0M408.3 481h0M399 494h0M412.3 471h0M332.1 475h0M395 478h0M406.3 478h0M425.3 477h0M386.5 477h0M366.4 480h0M334.9 467h0M395.2 461h0M390.1 486h0M378.1 473h0M423.4 487h0M373.5 472h0M396.7 486h0M424.8 483h0M332.3 481h0M342.3 481h0M400.7 477h0M420.2 486h0M420 474h0M399.9 472h0M362 473h0M381.2 477h0M356.5 470h0M354.9 458h0M385.5 472h0M359.2 485h0M396.1 492h0M350.5 469h0M333.3 473h0M427.8 488h0M335.2 494h0M386.8 464h0M335.6 475h0M396 468h0M426.6 469h0M345.1 467h0M388.6 486h0M369.7 474h0M350.3 484h0M353.3 477h0M428.3 464h0M395.4 488h0M347.3 497h0M369.2 480h0M368.5 483h0M342.1 474h0M422.1 482h0M335.6 474h0M354.7 480h0M389.5 465h0M333 470h0M392.9 472h0M386 491h0M337.1 489h0M336.7 476h0M395.2 480h0M344.2 474h0M380.6 483h0M422 489h0M423.2 469h0M392.5 474h0M359.3 486h0M350.1 476h0M386.6 479h0M416.2 474h0M407.5 473h0M359.6 468h0M355.5 479h0M424.2 472h0M358.8 471h0M406.6 484h0M386.3 462h0M333.4 487h0M395.5 469h0M427 482h0M399.1 477h0M334.9 487h0M371.4 479h0M377.1 469h0M358.8 483h0M388.4 466h0M419.6 465h0M352.5 478h0M354.3 489h0M382 485h0M386.7 475h0M399.3 489h0M394.4 456h0M379.7 468h0M362.1 476h0M386.8 471h0M335.9 463h0M364.6 473h0M387.4 473h0M422.8 464h0M361.4 473h0M413.9 472h0M429.4 480h0M355.3 477h0M337.9 484h0M401.7 483h0M420.7 487h0M377.1 495h0M369.3 481h0M392.9 485h0M408.4 484h0M410 475h0M424.9 472h0M343.1 481h0M408.8 464h0M398.6 472h0M370.2 478h0M338.4 478h0M388.6 480h0M386.6 474h0M408.9 481h0M403.5 468h0M369.7 477h0M380.8 474h0M409.8 486h0M393.5 479h0M429.4 487h0M384.6 478h0M402.3 465h0M414.2 480h0M357.9 470h0M372.3 469h0M398.3 476h0M338.7 469h0M394.8 482h0M368.1 476h0M423.5 481h0M376 479h0M370.3 474h0M398.5 464h0M349.5 478h0M347.1 480h0M419.7 474h0M387.7 474h0M398.2 491h0M368.5 471h0M391.9 464h0M398.3 471h0M391.9 485h0M411.2 472h0M394.8 476h0M369.9 488h0M344.6 465h0M347 492h0M381.9 484h0M377.4 477h0M371.7 488h0M394.5 465h0M357.5 472h0M373.5 465h0M376.2 468h0M359 451h0M405.1 465h0M384 486h0M344 464h0M336.7 459h0M399.6 477h0M338.1 492h0M370.1 479h0M426.6 486h0M423.1 460h0M334 479h0M423.3 478h0M334.6 479h0M406.6 479h0M390.4 488h0M404.2 476h0M406.4 473h0M350.8 491h0M356.7 483h0M337.5 489h0M372.5 470h0M422 481h0M374 483h0M403.1 494h0M411.4 467h0M381.8 479h0M375.5 470h0M383.2 494h0M332.5 481h0M339.9 460h0M402.5 464h0M421.7 475h0M419 479h0M383.4 477h0M411.7 474h0M365.4 476h0M417.6 486h0M353.7 472h0M384.5 472h0M386.2 473h0M406.5 485h0M387.1 482h0M379.5 488h0M337.9 466h0M405.9 477h0M340.8 483h0M413.6 481h0M386.7 479h0M348.6 468h0M394.7 484h0M342.4 478h0M374.6 471h0M372.6 475h0M384.5 475h0M344.8 474h0M365.4 465h0M401.5 470h0M427.1 463h0M334.1 491h0M333.7 483h0M384.8 487h0M375.2 471h0M359.4 470h0M376.4 479h0M416.8 471h0M347.1 483h0M371.3 465h0M396.1 476h0M405.3 480h0M413 488h0M353 469h0M387.5 456h0M357.3 476h0M358.4 477h0M344.8 473h0M398.3 466h0M378.8 489h0M373.6 477h0M425.5 492h0M339.8 477h0M334.9 487h0M373.4 465h0M351.3 481h0M368.5 486h0M367.6 477h0M405.7 477h0M422.7 458h0M374.4 452h0M378.2 412h0M354.4 465h0M408.7 462h0M404.6 468h0M402.1 460h0M409.2 448h0M382.1 468h0M361.7 455h0M359 441h0M415.9 467h0M371.3 458h0M370.2 448h0M400.7 458h0M355.8 467h0M400.5 397h0M381 434h0M423.3 452h0M397.6 416h0M409.9 451h0M362.7 466h0M403.2 457h0M414.9 460h0M419.8 457h0M366.8 471h0M373.8 455h0M409.8 439h0M378 448h0M370.8 458h0M354.7 457h0M421.9 425h0M360.2 432h0M352.4 473h0M395.1 467h0M422 464h0M397.9 443h0M388.9 459h0M360.1 456h0M389.7 465h0M414.3 469h0M403.7 469h0M369.1 464h0M382.4 448h0M367 428h0M386.6 460h0M384.5 449h0M422 473h0M354.6 472h0M401 456h0M369 446h0M403.8 463h0M388.3 443h0M353.3 448h0M377.4 434h0M354.4 471h0M408.4 418h0M352.6 450h0M386.7 459h0M400.1 451h0M416.3 419h0M363.3 457h0M382.7 463h0M375.5 432h0M425.5 451h0M415.2 448h0M380.5 421h0M364.7 449h0M357.5 475h0M352.3 449h0M365.5 432h0M393.9 427h0M385.5 446h0M372.6 456h0M364.9 470h0M405.2 467h0M356.1 462h0M384.6 436h0M397.9 463h0M389.5 460h0M360.6 447h0M399 452h0M388.7 419h0M367.9 441h0M372.1 467h0M356.5 440h0M391.9 448h0M410.4 424h0M410 463h0M373.5 467h0M420.9 465h0M377.2 460h0M376.9 447h0M367.5 457h0M415.4 460h0M383 454h0M363.6 462h0M389.8 451h0M397.8 460h0M388.6 465h0M390.6 440h0M406.9 438h0M399 432h0M394.4 440h0M374.3 451h0M394.6 466h0M402.5 468h0M392.5 422h0M417.6 454h0M408 452h0M421.1 461h0M365.8 470h0M356.6 456h0M358.9 469h0M369.9 433h0M360.3 462h0M407.2 451h0M414.9 461h0M362.8 467h0M397.1 431h0M399.3 452h0M358.2 468h0M413.8 424h0M386 467h0M390.3 445h0M382.4 442h0M388.3 453h0M418.2 460h0M421.9 470h0M358.6 465h0M366.3 440h0M400.7 429h0M376.9 456h0M391.9 445h0M426 468h0M361.8 452h0M387.9 432h0M380 439h0M369.2 453h0M420.4 472h0M399.4 428h0M415.5 430h0M392.6 467h0M384 452h0M414.9 458h0M366.7 467h0M354.1 460h0M415.6 471h0M365.3 453h0M403.2 448h0M386.8 398h0M365.4 443h0M425.9 435h0M360.5 460h0M392.8 441h0M358.1 469h0M387.9 466h0M377.1 447h0M368.6 470h0M385.2 469h0M405.8 438h0M418.8 461h0M404.1 462h0M422.5 443h0M373.8 429h0M409.9 457h0M393.8 456h0M416.5 407h0M390.6 464h0M401.3 464h0M387.7 435h0M424.2 461h0M370.5 446h0M423.6 469h0M380.6 465h0M372.1 462h0M422.3 474h0M390.8 447h0M376.8 437h0M375.1 458h0M356.9 444h0M391.1 460h0M426.3 469h0M412.9 468h0M385.2 444h0M386 381h0M414.5 459h0M391.7 447h0M404.1 440h0M374.1 453h0M406.9 470h0M389.8 435h0M362.4 450h0M387.8 442h0M421 436h0M383.7 445h0M418.3 470h0M383.6 444h0M392.8 451h0M397.8 450h0M406.9 468h0M419.5 469h0M360.5 442h0M405.8 472h0M379.1 467h0M368.3 433h0M378.1 431h0M360.4 440h0M373.2 419h0M360.4 444h0M389.8 469h0M416.2 467h0M413.9 466h0M365.8 470h0M387.3 452h0M377.5 433h0M401.3 463h0M364.1 459h0M377.8 463h0M370.3 403h0M380.8 400h0M353.6 475h0M407.6 435h0M407.4 449h0M374.1 448h0M366.3 456h0M408.4 456h0M371.1 444h0M414.3 458h0M372.9 448h0M377.9 440h0M411.3 438h0M420.3 462h0M414 471h0M389.9 426h0M359.3 471h0M414.8 439h0M420.8 466h0M418.1 427h0M377.3 434h0M355 450h0M399.1 438h0M384.4 421h0M412.6 450h0M419.8 462h0M364.5 442h0M395 438h0M363 445h0M352.2 464h0M387.6 461h0M382.8 434h0M377.1 463h0M400.8 458h0M368.1 468h0M417.1 448h0M357.4 467h0M371.9 447h0M422.1 466h0M397.5 454h0M392.4 450h0M351.8 452h0M349.2 471h0M351.4 480h0M353.1 459h0M351.9 456h0M354.4 466h0M353.4 458h0M357.1 473h0M353.8 476h0M353.6 448h0M349.7 474h0M353.2 461h0M354.3 462h0M353.8 474h0M354 457h0M354.1 438h0M352.1 474h0M348.3 477h0M349.7 464h0M354.9 471h0M353.5 476h0M353.2 475h0M353.3 462h0M355.4 480h0M350.8 472h0M353.4 472h0M354.1 476h0M356.1 472h0M352.4 471h0M352.8 478h0M352.4 448h0M354.1 466h0M353.9 461h0M354.9 471h0M354.7 463h0M352.5 446h0M352.1 472h0M352.9 452h0M354.8 476h0M353.1 465h0M356.7 478h0M354.5 465h0M353.3 462h0M355.7 472h0M355 458h0M351.3 457h0M356 479h0M352.5 449h0M350.6 476h0M367 440h0M367.3 447h0M365.3 456h0M367.7 446h0M366.9 435h0M367.9 435h0M367.3 448h0M366.1 446h0M366.3 462h0M368.1 463h0M369.1 450h0M368.8 435h0M365.8 470h0M368.3 468h0M368.3 449h0M364.5 459h0M365.1 471h0M368.2 472h0M367 430h0M365.6 460h0M367.3 433h0M366.7 477h0M367.9 447h0M366.1 481h0M368.3 453h0M366.1 453h0M367.6 458h0M366.7 432h0M369 467h0M366.9 460h0M366.1 443h0M367.3 445h0M365.1 456h0M368.1 471h0M364.7 477h0M369.8 476h0M365.8 454h0M368.2 469h0M367.5 475h0M369.6 461h0M368.1 476h0M368.8 445h0M369.5 459h0M365.3 464h0M368 480h0M365.6 469h0M370.2 471h0M367.1 450h0M366.7 434h0M367.5 428h0M366 470h0M366.7 424h0M367.2 447h0M365.7 434h0M363.3 475h0M364.7 453h0M368.7 477h0M368.9 480h0M368.3 463h0M366.6 475h0M366.5 473h0M369.1 450h0M366.4 473h0M384.4 466h0M387.1 471h0M385.1 431h0M385.8 476h0M386.7 474h0M384.7 409h0M384.8 461h0M385.1 465h0M385.7 437h0M385.1 466h0M385.1 462h0M385.5 453h0M384.8 434h0M385.1 411h0M383.7 463h0M385.7 399h0M385.6 450h0M384.8 456h0M385.3 466h0M385.2 454h0M386.3 462h0M384.7 471h0M385.3 478h0M385.7 430h0M385.5 474h0M385.3 413h0M384.4 476h0M384.8 482h0M387.6 465h0M385.4 466h0M385.3 456h0M386 471h0M385 466h0M385 420h0M385.4 437h0M386.6 432h0M387.2 432h0M384.9 429h0M386.1 465h0M387.6 468h0M387.4 461h0M385.1 447h0M383.8 453h0M385.9 457h0M386.2 468h0M385.7 455h0M386.4 447h0M386.2 469h0M385.8 477h0M384.8 466h0M383.8 460h0M387.7 465h0M387.6 477h0M386.2 409h0M385.1 434h0M384.7 444h0M385.8 454h0M386.7 467h0M386.6 474h0M384.7 421h0M385.6 409h0M387.8 462h0M384.7 463h0M384.9 443h0M386.8 467h0M384.1 448h0M384.9 482h0M385.7 475h0M384.7 432h0M384.8 465h0M393.5 472h0M396.7 477h0M396.5 461h0M394.3 428h0M397.6 486h0M394.1 432h0M395.5 412h0M393 450h0M395.3 477h0M396 440h0M396.6 473h0M397.9 470h0M396.6 472h0M395.6 462h0M394.9 462h0M394.3 450h0M395.3 469h0M395.9 463h0M392.4 468h0M394 472h0M393.7 451h0M393.8 426h0M395.7 456h0M396.1 455h0M395.4 412h0M396.4 441h0M396.5 455h0M393.1 480h0M395.4 431h0M391.7 468h0M397.3 462h0M394.4 444h0M395.6 466h0M395.7 483h0M395.6 468h0M392.8 466h0M396.7 469h0M396.1 476h0M396.1 450h0M394.5 424h0M394.3 454h0M397.7 480h0M394.8 463h0M393 476h0M393.8 472h0M395.1 402h0M392.9 475h0M394.4 473h0M393.9 451h0M394.3 463h0M396.2 469h0M395.2 466h0M393.4 472h0M393.6 449h0M395 422h0M396.3 450h0M392.3 471h0M394.4 467h0M396.6 449h0M396.2 465h0M395.4 437h0M395.8 467h0M394.1 462h0M407 418h0M405.7 460h0M407 477h0M407.9 452h0M407.8 464h0M406.2 429h0M406 471h0M403.7 475h0M404.2 453h0M405.9 466h0M405.9 446h0M405.5 445h0M407.2 462h0M405.2 471h0M404.7 459h0M404.5 464h0M408.5 455h0M408.7 459h0M406.1 447h0M404.5 462h0M407.6 456h0M405.5 443h0M404.8 449h0M406.4 408h0M407.6 447h0M407.8 430h0M406.2 458h0M409.1 469h0M406 460h0M407.1 455h0M405.9 454h0M404 467h0M406.7 432h0M407 433h0M405.9 451h0M408.7 467h0M405.3 468h0M404.9 451h0M405.7 444h0M406.3 474h0M407.8 470h0M407.7 436h0M409.2 465h0M407.2 471h0M404.8 463h0M408 478h0M405.4 441h0M406.6 432h0M405.4 457h0M407.9 466h0M407.7 473h0M405.3 443h0M405.6 430h0M407.5 462h0M405.4 475h0M408.7 476h0M421.5 443h0M422.5 431h0M422.2 428h0M421.7 459h0M420.4 482h0M421.8 466h0M425.4 473h0M422.9 450h0M423.3 467h0M424.4 468h0M424.1 464h0M420.7 457h0M424 444h0M424.4 450h0M423.3 481h0M420.5 471h0M423.7 486h0M421.6 475h0M424.5 464h0M423.3 440h0M422.9 436h0M421.6 440h0M421.8 469h0M419.4 463h0M422.2 468h0M420.9 455h0M422.3 476h0M422.4 456h0M422.9 451h0M424.3 455h0M421.1 461h0M422.1 456h0M422.9 466h0M420.4 466h0M422.6 448h0M422.7 436h0M424.2 472h0M422.3 422h0M422.5 437h0M421.1 481h0M423.2 442h0M422.6 406h0M422.7 441h0M421.1 458h0M424 470h0M423.2 442h0M423.1 472h0M420.5 477h0M425.5 476h0M353 501h0M352.7 524h0M353.2 494h0M352.6 525h0M354.2 488h0M353 515h0M350.7 478h0M352.8 508h0M351.9 473h0M352.7 474h0M351.3 473h0M353.1 488h0M352.1 481h0M352.1 495h0M352.5 489h0M352.7 496h0M353.2 519h0M352.9 486h0M353.3 501h0M353.4 475h0M353.3 505h0M352.9 491h0M352.6 508h0M353.1 488h0M353.9 489h0M353.8 497h0M353.7 491h0M352.1 487h0M351.6 481h0M351.4 474h0M352.1 483h0M355 476h0M353.2 493h0M352 487h0M353.1 483h0M374.4 528h0M373.7 503h0M373.7 522h0M374.1 476h0M373.8 479h0M373.5 476h0M374.7 481h0M373.8 477h0M373.2 480h0M373.2 518h0M373.5 486h0M373.3 508h0M373.8 490h0M375.3 499h0M374.7 477h0M374.9 512h0M374.8 484h0M375.2 488h0M373.4 517h0M373.1 485h0M374.6 509h0M373.3 472h0M374.5 522h0M374 476h0M373.7 506h0M375 480h0M374.8 517h0M375.3 485h0M374.6 502h0M373.2 507h0M373.4 489h0M375.9 474h0M374.8 499h0M373.4 478h0M373.9 477h0M373.1 511h0M373.9 504h0M372.9 482h0M374.7 513h0M375.5 494h0M373.4 480h0M373.9 495h0M385.4 481h0M383.5 494h0M382.5 481h0M384 476h0M383.5 502h0M383.9 501h0M385.2 499h0M383.4 500h0M383.4 511h0M384.7 493h0M383.4 479h0M383.9 498h0M383.7 503h0M384.2 519h0M383 493h0M383.1 471h0M384.6 505h0M382.2 476h0M385.4 501h0M384.5 491h0M384.5 530h0M385.2 481h0M383.7 515h0M384.1 507h0M384.7 484h0M384 537h0M383.1 484h0M383.5 482h0M383.3 500h0M384.6 474h0M385.2 498h0M384.2 508h0M383.4 498h0M383.7 474h0M383.7 485h0M383.5 497h0M384.3 522h0M383.2 480h0M382.7 472h0M384 534h0M383 482h0M383.4 526h0M414 497h0M415.9 479h0M415.3 496h0M415.2 512h0M414 504h0M415.4 518h0M414.1 516h0M413.5 474h0M414.2 524h0M414.4 537h0M414.8 484h0M415 528h0M412.7 477h0M413.4 493h0M414.5 488h0M414.6 486h0M414.3 522h0M414.2 504h0M414.4 506h0M417.1 489h0M414.2 501h0M414.3 500h0M415.4 493h0M414.2 513h0M413.7 481h0M415.3 484h0M414.1 510h0M414.9 525h0M414.8 473h0M415.3 497h0M414.1 532h0M414 521h0M414.4 535h0M414.7 502h0M415.1 490h0M429.2 509h0M429 501h0M428.8 507h0M428.5 546h0M429 464h0M396.4 427h0M396 515h0M396.3 491h0M396.3 403h0M342 499h0M341.7 470h0M396.9 512h0M398.4 365h0M398 485h0M397.5 462h0M364.5 444h0M363.7 504h0M364.2 365h0M364.3 438h0M363.7 457h0M363.5 428h0M366.4 515h0M365.4 538h0M365.6 429h0M365.2 507h0M366 520h0M365.9 411h0M419.1 511h0M419.4 556h0M426.7 404h0M426.1 472h0M425.9 482h0M335 327h0M401.8 391h0M428.8 315h0M394.7 377h0M382.5 370h0M339.4 376h0M415.3 388h0M370.9 382h0M344.2 322h0M378.2 376h0M423.3 347h0M429.2 390h0M338.1 399h0M332 333h0M411.6 408h0M427.7 426h0M409.9 417h0M343 379h0M350.6 418h0M415.2 463h0M468.3 447h0M469.6 433h0M470.2 436h0M470.4 440h0M470.9 440h0M470.9 437h0M471.2 440h0M471.8 429h0M471.8 430h0M472.5 440h0M473.6 423h0M477.8 404h0M480.2 401h0M484.7 401h0M544.6 461h0M505.4 450h0M509.2 475h0M513.2 471h0M558.5 454h0M491.6 431h0M558.7 478h0M478.9 400h0M503.4 467h0M555.3 471h0M539.4 475h0M509.6 457h0M523 473h0M562.2 471h0M480.6 407h0M539.3 470h0M522.6 470h0M555.3 465h0M517.4 482h0M513 468h0M483.1 403h0M523 468h0M491.7 425h0M561.9 476h0M545.5 464h0M481.3 396h0M538.5 471h0M531.5 462h0M495 438h0M548.6 468h0M506.3 464h0M506.8 447h0M497.1 442h0M542.3 478h0M542.9 465h0M554.1 466h0M521.8 459h0M524.7 472h0M490.3 415h0M529.2 474h0M565.5 472h0M550.3 473h0M557.7 479h0M500 457h0M553.2 473h0M505 472h0M564.7 470h0M533.9 471h0M494.2 438h0M507.5 479h0M541.5 465h0M524.7 476h0M496.8 451h0M526.1 468h0M558 459h0M556.4 464h0M507 468h0M484.2 401h0M497.1 445h0M536.6 457h0M495.8 433h0M477.7 402h0M497 455h0M501.4 456h0M564.6 466h0M481.3 399h0M533.7 466h0M485.4 408h0M512.7 472h0M542.8 473h0M524.6 462h0M565.7 459h0M493.9 444h0M484.7 404h0M553.8 454h0M484.6 405h0M526.4 469h0M523.7 460h0M520.7 466h0M480.7 405h0M499.2 459h0M479.6 416h0M476.5 410h0M562.8 462h0M532.3 477h0M482.8 410h0M503.3 463h0M532.5 449h0M488.7 406h0M477.4 410h0M520.7 462h0M522.9 479h0M564 462h0M532.8 464h0M561.7 465h0M517.3 475h0M566.1 464h0M523.1 473h0M477.8 400h0M477.2 412h0M528.9 467h0M543.6 465h0M558.3 463h0M538.8 472h0M485.1 396h0M566.8 466h0M501.5 467h0M497.8 448h0M566.2 456h0M513 459h0M486.8 395h0M545.7 453h0M555.6 464h0M518.2 487h0M481.1 403h0M519 480h0M525.2 479h0M502.2 461h0M537.4 467h0M503.2 467h0M559.5 465h0M492 430h0M509.7 474h0M560.4 457h0M560 470h0M557.7 473h0M488.1 417h0M531.1 468h0M560.6 471h0M539.6 462h0M504.5 469h0M481.7 397h0M495 429h0M520.2 476h0M482 395h0M535.2 488h0M559.4 460h0M552 464h0M542.5 470h0M510.8 459h0M531.3 461h0M549.6 448h0M533.3 471h0M537.9 467h0M479.1 403h0M552.5 474h0M545.2 465h0M487.3 403h0M566.3 456h0M563.4 454h0M539.6 476h0M529.9 470h0M539.6 467h0M512.8 458h0M480.2 403h0M478.1 409h0M507.1 466h0M525.1 468h0M535.1 471h0M527 465h0M505.3 479h0M534.9 465h0M523.7 469h0M559.4 461h0M547.2 450h0M512.5 472h0M549.4 462h0M534.9 462h0M482.8 396h0M486.3 410h0M502.9 465h0M481.4 407h0M489 417h0M496.4 438h0M547.2 466h0M533.1 467h0M491.9 427h0M476.7 412h0M563.7 466h0M481.3 406h0M562.1 468h0M482.5 398h0M548.5 468h0M490.9 430h0M529 469h0M480 410h0M513.8 461h0M550.9 468h0M528.8 452h0M489.5 415h0M542.9 475h0M479.4 410h0M517.6 453h0M553.9 455h0M519 461h0M476.2 406h0M556.3 464h0M482.7 409h0M510 467h0M484.6 404h0M481.3 400h0M554.5 479h0M508.7 467h0M560.9 476h0M491.6 432h0M513.4 465h0M541.6 452h0M560.8 480h0M509.2 471h0M520.5 466h0M539.3 472h0M506.8 474h0M542.1 462h0M481.3 397h0M524.3 449h0M511.4 462h0M557.4 463h0M566.8 455h0M562 475h0M487.9 404h0M496 437h0M549.7 455h0M516.4 466h0M487.7 406h0M531.3 465h0M559.1 455h0M525.9 463h0M514.8 483h0M513.2 462h0M517.2 474h0M509.2 478h0M505.2 456h0M529.7 481h0M512.7 482h0M478.8 402h0M546 460h0M556.9 472h0M531 473h0M543.4 465h0M500.5 461h0M496.1 433h0M504.5 468h0M504.4 462h0M504.8 461h0M552.9 465h0M488.1 408h0M509.9 470h0M550 458h0M498.5 451h0M492.1 432h0M526 464h0M519.1 474h0M514.7 473h0M545.9 457h0M537.1 477h0M539.5 482h0M536.5 478h0M559.3 477h0M524.4 477h0M487.4 401h0M533.9 470h0M500.3 462h0M563.4 474h0M544.9 469h0M550 464h0M560.1 455h0M545.9 459h0M559.2 462h0M491.1 418h0M522.7 467h0M543.8 480h0M485.7 402h0M489 413h0M521.5 472h0M529.4 491h0M557.4 469h0M524.8 478h0M519.1 483h0M561.7 469h0M505.4 462h0M552.5 467h0M533.5 463h0M478.6 407h0M505.8 475h0M533.3 469h0M507 455h0M529.2 471h0M479.4 408h0M558.3 477h0M546 471h0M480.1 408h0M476.8 420h0M540.9 453h0M537.5 473h0M489 419h0M522.7 467h0M477.1 404h0M504.5 465h0M491.1 415h0M539.3 458h0M530.5 466h0M476 422h0M551.9 459h0M528.7 473h0M500.4 459h0M495.6 434h0M548.4 464h0M515.3 473h0M531.1 450h0M520.3 479h0M547.7 469h0M537.2 461h0M562 456h0M521.1 464h0M558.7 479h0M494.9 445h0M552.5 471h0M547.6 465h0M550.2 466h0M533.2 459h0M483.2 405h0M520.1 479h0M494.2 441h0M546.1 467h0M534.5 466h0M553.9 453h0M522.9 466h0M509.2 467h0M513.6 464h0M484.6 393h0M534.3 466h0M502.2 465h0M532.6 461h0M506.2 467h0M519.1 474h0M498.3 453h0M483.9 398h0M562.4 465h0M492.9 428h0M518.7 463h0M542.2 460h0M539.6 466h0M530.5 482h0M493.6 443h0M490.9 418h0M542.1 469h0M513.3 472h0M516.4 478h0M538.7 470h0M536.4 480h0M546.1 467h0M488.8 421h0M517.8 480h0M491.7 439h0M501.4 458h0M520.9 471h0M523.3 471h0M553.2 460h0M483.9 403h0M487.8 420h0M499.9 441h0M564.9 455h0M515.9 452h0M549 463h0M545.6 455h0M530.4 476h0M482.3 393h0M491.1 434h0M549.1 464h0M514.7 461h0M516.6 463h0M518.5 475h0M561 468h0M509.4 469h0M520.8 470h0M501.2 468h0M566.7 463h0M546.1 453h0M478.7 406h0M558.1 464h0M483.1 408h0M510.9 468h0M544.4 477h0M527.5 472h0M517.9 461h0M535 476h0M494.1 435h0M507.2 469h0M478.3 411h0M558.9 456h0M508.2 450h0M494.8 430h0M547.5 469h0M479.9 402h0M556.4 460h0M498.2 454h0M564.1 468h0M531.9 479h0M531.8 460h0M518.6 479h0M509.3 467h0M539.6 460h0M530 476h0M501.6 455h0M510.7 466h0M480.7 405h0M554.6 469h0M479.5 409h0M511.2 462h0M498.9 450h0M539.6 453h0M484.6 410h0M520.6 473h0M531.3 468h0M510.1 459h0M514.6 482h0M520.5 459h0M485.8 407h0M515.8 488h0M479.1 412h0M488.1 412h0M528.9 477h0M552.4 447h0M505.5 458h0M479.5 404h0M517.8 467h0M524.8 472h0M497.2 454h0M555.3 461h0M526.7 474h0M480.5 406h0M511.5 478h0M485.8 402h0M539.2 460h0M539.4 470h0M561.8 464h0M516.2 474h0M538 476h0M536.9 488h0M545.5 460h0M546.3 472h0M502.6 477h0M490.1 425h0M481 401h0M553.7 460h0M552.5 458h0M481 397h0M498.4 458h0M485.2 400h0M504.7 453h0M496.9 440h0M488.5 411h0M518.9 457h0M544.6 461h0M510 458h0M487.8 412h0M558.5 460h0M546.9 472h0M546.7 460h0M552.4 471h0M554.2 456h0M519.9 467h0M543.1 468h0M539.7 465h0M511.5 465h0M566.6 477h0M477.9 410h0M534.5 478h0M543.8 457h0M501.9 453h0M511.4 476h0M483.2 410h0M505.9 465h0M551.6 461h0M560 453h0M524.3 461h0M517.8 474h0M519 473h0M517.9 466h0M537.2 463h0M541.6 468h0M485.5 396h0M547 480h0M566.9 451h0M533.8 466h0M555.9 470h0M496.6 449h0M513.1 477h0M517 480h0M520.7 479h0M563.7 460h0M562.4 469h0M553.3 457h0M538.7 460h0M488.8 416h0M557.4 465h0M560.7 457h0M492.8 434h0M524.9 464h0M492.8 433h0M535 485h0M523.6 475h0M541.3 469h0M527.3 475h0M508.6 468h0M501.1 447h0M498.2 447h0M529 467h0M477.3 401h0M549.6 467h0M481.4 403h0M520.5 458h0M517.8 466h0M486.8 409h0M493.4 437h0M500.1 461h0M477.4 406h0M485.1 396h0M530.7 470h0M519 473h0M548.2 474h0M525.9 469h0M536.5 460h0M502.7 460h0M565.6 466h0M488.3 416h0M487.4 410h0M490 418h0M493.1 425h0M479.1 394h0M542.2 466h0M523.1 470h0M503.3 451h0M502.1 464h0M557.5 464h0M533.2 475h0M547.7 471h0M555.1 466h0M496 449h0M533.5 468h0M539.2 450h0M480.3 400h0M506.4 462h0M556.2 459h0M544 461h0M494.5 437h0M566.1 461h0M515.3 468h0M564.7 456h0M508.2 473h0M526.2 480h0M511.9 471h0M531.5 476h0M485 404h0M482.4 405h0M556.6 470h0M561.8 457h0M515.7 457h0M548 473h0M483.7 401h0M489.3 417h0M494.6 445h0M507.1 467h0M518 472h0M551.8 469h0M543.8 476h0M515.8 463h0M515.8 472h0M503.9 473h0M502 456h0M561.5 466h0M494 429h0M509.3 479h0M532 478h0M496.8 443h0M487.5 402h0M535 464h0M520.1 474h0M515.7 454h0M521.7 473h0M553.7 473h0M545.3 468h0M495.1 439h0M508.7 462h0M526.7 476h0M550.4 464h0M507.2 459h0M543.3 466h0M484.4 399h0M525.3 454h0M483.4 405h0M515.6 462h0M505.9 447h0M552.4 461h0M509.5 462h0M477.6 403h0M556.8 462h0M537.6 464h0M508 454h0M539 466h0M512.9 453h0M502.1 469h0M477.2 401h0M519.1 469h0M528.2 462h0M509.3 461h0M556.2 464h0M492.8 432h0M543.5 465h0M549.8 458h0M532.7 479h0M497.8 449h0M515.1 456h0M508.9 464h0M551.7 453h0M492.7 433h0M478.1 411h0M558.1 457h0M548.9 473h0M492.7 430h0M506.6 478h0M503.8 453h0M532.5 463h0M553.1 468h0M496.7 442h0M549.2 462h0M478.2 401h0M539 473h0M484.9 399h0M532.4 467h0M559.6 463h0M551.4 457h0M551.2 470h0M503.7 474h0M504.9 480h0M522.2 478h0M519.3 476h0M505.5 469h0M563.8 454h0M548.3 463h0M561.9 459h0M565.6 460h0M557.1 480h0M541.5 466h0M564.8 458h0M524.6 471h0M507.9 461h0M477.4 403h0M541.9 471h0M514.3 455h0M492.6 430h0M477.3 409h0M546.7 458h0M501.6 442h0M518.5 472h0M525 487h0M486.3 402h0M515.6 480h0M531.4 460h0M561.8 464h0M526.8 478h0M510.2 464h0M521.1 479h0M533 467h0M554 456h0M504.4 468h0M487 413h0M558.1 479h0M526.6 464h0M556.6 469h0M475.7 417h0M507.5 465h0M489 414h0M491.7 419h0M489 421h0M509.9 459h0M537.4 475h0M517 468h0M533 476h0M530.1 468h0M518.2 480h0M478.9 410h0M546.2 468h0M556.1 461h0M518.2 473h0M549.6 470h0M499.9 455h0M506 463h0M539.2 479h0M561.4 467h0M491.7 426h0M536.2 477h0M488.7 411h0M491.7 426h0M558.4 478h0M539.9 478h0M550.1 467h0M541.7 460h0M521 475h0M509.4 473h0M484 401h0M525.9 467h0M475.8 406h0M516.5 471h0M527.7 454h0M497.8 453h0M511.8 457h0M479.1 399h0M546.6 463h0M522.5 476h0M546.4 463h0M544.4 481h0M544.3 459h0M511.1 477h0M555.4 474h0M483.2 401h0M524.7 474h0M563.5 467h0M478.9 403h0M504.6 451h0M507.7 461h0M492.2 437h0M554.2 467h0M554.4 463h0M555.8 461h0M522.3 478h0M480.5 399h0M519.9 476h0M497.3 460h0M502.1 460h0M490.1 425h0M481.3 411h0M495.2 441h0M478.6 404h0M560.8 468h0M558.1 459h0M508.1 465h0M542.3 472h0M493.5 444h0M507.3 463h0M488.5 414h0M544 457h0M502.6 463h0M509.4 461h0M495.4 451h0M558.2 467h0M566 458h0M513.3 479h0M522.6 471h0M529.7 476h0M524.4 466h0M559.2 463h0M495.8 442h0M509.2 472h0M547.2 462h0M518.2 485h0M499.9 461h0M543.6 453h0M511.5 471h0M565.5 473h0M488 416h0M497.4 442h0M564.6 479h0M537.8 475h0M523.3 472h0M565.4 481h0M510.1 482h0M502.5 465h0M525.5 472h0M543.3 469h0M502.1 455h0M481.8 397h0M549.4 464h0M536.2 460h0M553.9 470h0M493.3 433h0M478.4 402h0M520.7 467h0M488.6 415h0M543 470h0M480.1 399h0M519.8 461h0M544.5 463h0M529.5 471h0M540.6 472h0M530.1 475h0M502.4 475h0M524.8 469h0M531.8 474h0M561.6 458h0M533.9 474h0M500.2 446h0M502.7 469h0M529.7 460h0M524.9 473h0M562.4 462h0M498.9 453h0M527.2 455h0M557.7 466h0M515.1 465h0M507.9 469h0M539.8 461h0M533.9 467h0M477.7 408h0M491.5 421h0M528.3 484h0M492.6 437h0M512.5 485h0M505.7 482h0M511.1 466h0M558 462h0M525.6 473h0M490.6 432h0M515 480h0M504.1 461h0M563.7 468h0M502.2 470h0M548.2 471h0M534.3 464h0M552.1 467h0M509 465h0M562.3 476h0M545.5 477h0M506.1 474h0M510.2 473h0M538.8 460h0M560.2 463h0M560.4 462h0M487.4 423h0M489.8 408h0M563.8 477h0M491.5 421h0M544.2 465h0M541.8 472h0M548.1 465h0M485 407h0M483.6 400h0M520.3 467h0M539.5 475h0M543.9 471h0M549.2 463h0M520.5 461h0M485.8 396h0M557.5 459h0M503.4 474h0M560.5 466h0M537.5 476h0M517.7 472h0M538.9 470h0M552.5 469h0M551 460h0M506 460h0M501.6 464h0M537.3 460h0M507.7 472h0M547.2 463h0M550.9 476h0M517 468h0M563.5 459h0M527.6 470h0M476.2 406h0M499 456h0M504.3 469h0M478.4 399h0M562.3 462h0M540.8 477h0M538.8 472h0M548.6 464h0M523.1 481h0M542.4 472h0M534.9 480h0M480.3 396h0M528.4 481h0M499.3 457h0M478.1 400h0M528.9 464h0M530.5 470h0M507.1 451h0M485.9 407h0M552.9 473h0M476.1 406h0M559.1 454h0M564.3 466h0M517.4 465h0M485.8 405h0M552 457h0M498.5 458h0M531.6 473h0M510.4 468h0M555.4 468h0M480.8 400h0M479.6 404h0M537.3 477h0M505.8 461h0M541.5 472h0M501.1 445h0M524.2 474h0M498.3 446h0M510.3 458h0M493.5 436h0M528.9 465h0M552.1 465h0M493.7 430h0M566.6 458h0M552.5 480h0M545.6 463h0M564.4 465h0M492.5 430h0M543.5 467h0M546.1 467h0M476.9 401h0M534.2 464h0M520 472h0M520.5 472h0M508.4 480h0M529.6 484h0M498.1 456h0M512.7 474h0M488 414h0M524.1 465h0M509.9 469h0M514.9 468h0M566.3 457h0M529.9 469h0M555.4 461h0M508.8 456h0M559.2 464h0M508.5 475h0M509.4 463h0M478.4 401h0M526.2 480h0M518.8 474h0M487.5 409h0M509.3 464h0M539.2 488h0M553.6 471h0M550.2 476h0M551.4 476h0M531.1 472h0M563.1 464h0M566 458h0M522.9 462h0M551.9 462h0M507.3 460h0M513.9 480h0M505.3 467h0M513.6 464h0M551.8 462h0M527.5 459h0M538.9 474h0M555 468h0M480.8 388h0M498.7 447h0M536.4 469h0M484.3 405h0M515.3 480h0M527.9 471h0M506.6 463h0M514.5 481h0M556.9 459h0M518.1 456h0M479.7 394h0M550.7 477h0M534.3 468h0M503.8 460h0M479.6 403h0M520 475h0M561.1 471h0M505.9 478h0M548.4 456h0M563.3 467h0M511.1 466h0M485.3 399h0M489 415h0M501.4 462h0M511.1 475h0M550.9 477h0M560.5 464h0M522.1 468h0M540.5 478h0M524.1 474h0M558.7 452h0M476.2 412h0M506.5 465h0M506.5 466h0M565.9 462h0M504.1 473h0M541.3 472h0M529.3 464h0M489.9 427h0M499 464h0M541.3 464h0M495.9 439h0M490.8 413h0M565.8 457h0M562 472h0M505.2 466h0M494.7 435h0M526.9 465h0M506.2 466h0M561 471h0M515 464h0M484.6 405h0M550.6 467h0M540.6 474h0M512.1 468h0M509.4 485h0M534.3 460h0M480 408h0M547.3 457h0M562.5 468h0M565.9 472h0M532.3 475h0M490.1 421h0M485.3 419h0M533.5 468h0M531.8 468h0M529 471h0M502.6 460h0M558.1 473h0M494.2 449h0M531.6 482h0M488.4 411h0M539.7 473h0M522.8 470h0M541.2 465h0M522.9 469h0M544.9 484h0M547.7 466h0M516.6 471h0M555 461h0M489.9 422h0M567 477h0M543.9 460h0M553.9 476h0M546.2 465h0M511.6 465h0M550.6 451h0M499.3 463h0M539.3 472h0M499.4 460h0M487.5 398h0M539.5 469h0M561.8 450h0M478.5 398h0M522 479h0M548.2 474h0M520.5 457h0M533.9 477h0M566.3 464h0M544.3 475h0M527.2 476h0M523.5 464h0M478.8 414h0M535.2 471h0M478.6 402h0M544.1 472h0M532.9 481h0M500.1 463h0M533.7 472h0M504.8 475h0M490 417h0M559.2 457h0M547.3 460h0M526.5 461h0M556.4 465h0M480.1 404h0M506.5 475h0M537.3 468h0M533.2 476h0M558.8 474h0M561.1 478h0M486.3 404h0M486.6 404h0M484.5 400h0M541.6 459h0M489.8 414h0M492 421h0M488.7 405h0M507 473h0M565 454h0M542.7 458h0M492.1 428h0M550.7 474h0M486.6 413h0M565 461h0M541.4 469h0M549.8 466h0M493.5 434h0M527.7 464h0M490.1 426h0M491.2 419h0M556 477h0M499 447h0M507.3 459h0M557 460h0M548.4 469h0M510.2 461h0M548.9 484h0M535.3 461h0M567 473h0M562.5 463h0M541.6 473h0M476.3 411h0M480.1 407h0M494.4 429h0M540.7 470h0M490.4 422h0M499.9 450h0M553.4 464h0M525.4 473h0M520.6 481h0M560.8 474h0M552.1 457h0M494.1 434h0M512.9 481h0M551.2 462h0M558.7 471h0M504.7 468h0M493.3 450h0M501.3 483h0M541.4 475h0M501.7 463h0M499.1 464h0M555.8 460h0M486.4 407h0M553.6 486h0M500.3 458h0M483.5 404h0M500.3 463h0M500.4 453h0M533.4 457h0M546.5 458h0M517.9 469h0M530.4 467h0M518.8 476h0M558.4 456h0M536.3 468h0M561.5 473h0M487 411h0M529.8 468h0M530.7 475h0M523.2 470h0M510.5 466h0M477.1 405h0M484.7 410h0M544.3 473h0M548.7 461h0M556.1 471h0M560.1 471h0M487.3 405h0M549.2 470h0M562.4 463h0M521.3 466h0M542.9 484h0M479.3 406h0M532.9 465h0M492.7 419h0M542.4 469h0M499.2 443h0M538 472h0M525.2 481h0M484 403h0M483.2 397h0M538.2 463h0M563.9 474h0M538.4 459h0M494.2 436h0M493.4 439h0M493.5 425h0M546.6 459h0M486.2 410h0M521.2 475h0M566.3 466h0M546.6 470h0M495.9 444h0M526 462h0M493 433h0M481.2 405h0M490.3 423h0M489.8 418h0M557 462h0M487 414h0M484.3 396h0M525 491h0M540.8 475h0M527.2 475h0M498.5 455h0M513.4 472h0M536.3 474h0M503.5 453h0M489.4 421h0M477 412h0M495.9 444h0M552.7 459h0M494.7 431h0M524.7 486h0M546.2 464h0M545.4 484h0M535 467h0M500.9 458h0M535.3 457h0M559.3 465h0M486.9 405h0M536.6 466h0M493.5 427h0M487.7 411h0M496.3 448h0M539.4 468h0M558.3 461h0M479 409h0M534.8 483h0M478.7 410h0M475.7 414h0M518.9 467h0M489.5 406h0M477 409h0M506.1 461h0M519.8 475h0M491.6 427h0M556.7 459h0M507.3 470h0M548.4 457h0M525.4 474h0M523 465h0M511.6 478h0M480 416h0M509.2 468h0M549.5 468h0M506.8 464h0M516.5 467h0M544.7 467h0M563.1 461h0M551.8 455h0M516.8 487h0M556.1 458h0M506.6 464h0M538.4 453h0M505.6 455h0M480.9 407h0M528.1 460h0M560.9 475h0M503.4 467h0M559.4 470h0M485 406h0M562.6 465h0M521.8 475h0M489.6 409h0M559.9 456h0M478.3 404h0M538.6 465h0M499.9 462h0M479.4 403h0M561.4 461h0M566.6 471h0M521.9 462h0M562.7 473h0M524.8 467h0M521.9 468h0M494.5 426h0M543.6 469h0M540.2 460h0M565.3 457h0M520.1 480h0M543.8 479h0M544.6 464h0M527.2 449h0M553.3 460h0M514.9 474h0M518.9 472h0M515.9 476h0M545.1 469h0M509.1 475h0M481.3 396h0M561.8 467h0M533.1 476h0M550.9 470h0M498.8 448h0M504.3 464h0M512.3 464h0M486.7 401h0M535.3 472h0M486.3 407h0M528.2 444h0M564 461h0M492.6 417h0M508.4 453h0M501.1 436h0M557 447h0M547 434h0M538.6 467h0M531.8 462h0M532.4 462h0M504.9 462h0M520.2 462h0M476.8 382h0M516.9 470h0M530 452h0M543.4 456h0M480.1 394h0M508.1 444h0M542.3 448h0M477.7 393h0M480.3 373h0M538.4 466h0M524.7 452h0M566.5 465h0M481 386h0M534.7 468h0M555.3 455h0M557.6 451h0M477.7 406h0M541.1 453h0M492 426h0M537.1 463h0M548 464h0M503.9 453h0M509.8 456h0M501.1 410h0M486.2 390h0M499.3 442h0M500.3 439h0M491.5 417h0M492.9 398h0M559.7 461h0M533.6 453h0M484.6 400h0M553.3 450h0M515.8 464h0M552.7 463h0M480.7 401h0M486.9 394h0M501.2 452h0M565.4 441h0M535.2 448h0M511.8 461h0M534.4 452h0M536.4 453h0M533.2 467h0M551.4 452h0M514.3 458h0M489.4 399h0M534.6 467h0M509.9 461h0M511.6 449h0M501.5 449h0M562.7 456h0M526.4 466h0M501.5 443h0M565.7 463h0M509.1 420h0M494.1 420h0M511.2 461h0M518.1 466h0M497.4 440h0M480.5 402h0M522.5 456h0M546.6 453h0M529.8 446h0M475.9 399h0M496.3 442h0M499 436h0M521 464h0M520.9 324h0M520 402h0M521 410h0M546.2 478h0M546.1 361h0M530.8 472h0M530.8 459h0M531.1 451h0M531.4 446h0M531.4 419h0M524 418h0M523.7 437h0M523.5 402h0M523.8 412h0M494.1 400h0M495 434h0M495 395h0M494.3 360h0M494 430h0M563.9 426h0M564.3 446h0M563.9 322h0M563.8 542h0M563.8 403h0M506.1 454h0M506.6 444h0M505.6 510h0M505.4 443h0M506.2 350h0M506 464h0M528.9 404h0M529.7 497h0M528.8 349h0M529.3 455h0M491.3 339h0M491.3 355h0M552.4 476h0M559.3 403h0M559.6 361h0M559.9 515h0M559.3 423h0M500.1 394h0M501 405h0M494.1 434h0M494.4 478h0M537.9 442h0M537.8 385h0M537.7 381h0M537.7 516h0M518.9 442h0M518.9 470h0M478.9 397h0M482.2 316h0M483.8 398h0M487.2 337h0M486.3 341h0M547.7 454h0M550.8 408h0M527.3 416h0M527 437h0M544.8 426h0M549.3 411h0M535.2 445h0M552.9 425h0M514.8 423h0M545.6 430h0M555.3 425h0M525 445h0M537.6 400h0M510.2 448h0M521.1 448h0M534.9 437h0M555.5 419h0M522.4 429h0M564.2 447h0M542 423h0M516.1 401h0M511 401h0M530.8 416h0M557.6 429h0M531.1 468h0M526.6 442h0M513.6 450h0M560.3 428h0M530.5 463h0M531 448h0M523.5 436h0M521.9 428h0M521 434h0M555.2 458h0M556.2 433h0M521.1 427h0M546.1 416h0M564.2 405h0M548.2 432h0M552.7 429h0M557.2 424h0M519.2 440h0M500.1 447h0M556.1 419h0M493.5 421h0" stroke="#ff0000" stroke-width="4.2" stroke-linecap="round"/><path d="M231.5 375V400M270.3 310V337M207.7 369V387M203.8 312V336M235.7 426V443M264.3 419V450M215.8 378V404M254.6 386V419M263.4 398V423M423.6 356V381M339.5 423V444M411.9 378V393M372.8 365V381M358.9 427V461M407.9 342V373M506.7 432V455M543.6 345V369M554.6 396V416M532.2 389V417M486.5 367V395M503.4 410V439" stroke="#00ff00" stroke-width="1.1" marker-start="url(#kg)" marker-mid="url(#kg)" marker-end="url(#kg)"/><path d="M231.5 388h0M270.3 323h0M207.7 378h0M203.8 324h0M235.7 435h0M264.3 435h0M215.8 391h0M254.6 403h0M263.4 410h0M423.6 368h0M339.5 434h0M411.9 386h0M372.8 373h0M358.9 444h0M407.9 357h0M506.7 443h0M543.6 357h0M554.6 406h0M532.2 403h0M486.5 381h0M503.4 424h0" stroke="#00ff00" stroke-width="4.2" stroke-linecap="round"/><path d="M273.4 381V412M271.6 344V370M237.7 437V466M207.6 363V384M275.8 394V428M205.1 422V453M206.1 367V422M381.4 445V477M404.9 377V402M358.4 335V365M408.9 392V418M384.1 418V442M343.6 318V344M421.8 367V394M341.1 391V512M400.3 457V472M365.9 295V320M426.6 411V428M407.8 413V435M374.6 489V518M423.4 433V459M349.4 344V397M481.5 358V391M479.8 371V397M490.8 356V397M477.9 354V382M486.9 370V391M490.3 318V359M554.1 418V435M525.2 423V444M497.9 410V443M508.5 450V486M554.1 389V425M502.1 417V434M538.4 424V459M542.5 452V475M500.4 400V437M505.6 306V325M502.1 411V445M535.4 560V589" stroke="#0000ff" stroke-width="1.1" marker-start="url(#kb)" marker-mid="url(#kb)" marker-end="url(#kb)"/><path d="M273.4 397h0M271.6 357h0M237.7 452h0M207.6 374h0M275.8 411h0M205.1 437h0M206.1 395h0M381.4 461h0M404.9 390h0M358.4 350h0M408.9 405h0M384.1 430h0M343.6 331h0M421.8 380h0M341.1 451h0M400.3 465h0M365.9 307h0M426.6 420h0M407.8 424h0M374.6 504h0M423.4 446h0M349.4 371h0M481.5 375h0M479.8 384h0M490.8 376h0M477.9 368h0M486.9 381h0M490.3 338h0M554.1 427h0M525.2 433h0M497.9 426h0M508.5 468h0M554.1 407h0M502.1 426h0M538.4 441h0M542.5 463h0M500.4 419h0M505.6 315h0M502.1 428h0" stroke="#0000ff" stroke-width="4.2" stroke-linecap="round"/></g>
<path d="M56.5 14.5H586.5M56.5 270.5H586.5M56.5 14.5V270.5M586.5 14.5V270.5M62.2 270.5v-4.5M62.2 14.5v4.5M106.5 270.5v-4.5M106.5 14.5v4.5M150.8 270.5v-4.5M150.8 14.5v4.5M195 270.5v-9M195 14.5v9M239.2 270.5v-4.5M239.2 14.5v4.5M283.5 270.5v-4.5M283.5 14.5v4.5M327.8 270.5v-4.5M327.8 14.5v4.5M372 270.5v-9M372 14.5v9M416.2 270.5v-4.5M416.2 14.5v4.5M460.5 270.5v-4.5M460.5 14.5v4.5M504.8 270.5v-4.5M504.8 14.5v4.5M549 270.5v-9M549 14.5v9M56.5 260.1h4.5M586.5 260.1h-4.5M56.5 244.9h9M586.5 244.9h-9M56.5 229.7h4.5M586.5 229.7h-4.5M56.5 214.5h4.5M586.5 214.5h-4.5M56.5 199.4h4.5M586.5 199.4h-4.5M56.5 184.2h9M586.5 184.2h-9M56.5 169h4.5M586.5 169h-4.5M56.5 153.8h4.5M586.5 153.8h-4.5M56.5 138.7h4.5M586.5 138.7h-4.5M56.5 123.5h9M586.5 123.5h-9M56.5 108.3h4.5M586.5 108.3h-4.5M56.5 93.1h4.5M586.5 93.1h-4.5M56.5 78h4.5M586.5 78h-4.5M56.5 62.8h9M586.5 62.8h-9M56.5 47.6h4.5M586.5 47.6h-4.5M56.5 32.4h4.5M586.5 32.4h-4.5M56.5 17.3h4.5M586.5 17.3h-4.5" stroke="#000" stroke-width="1.2" fill="none"/>
<path d="M56.5 307H187.8M56.5 563H187.8M56.5 307V563M67 563v-4.5M67 307v4.5M85.3 563v-9M85.3 307v9M103.6 563v-4.5M103.6 307v4.5M121.8 563v-4.5M121.8 307v4.5M140.1 563v-4.5M140.1 307v4.5M158.4 563v-9M158.4 307v9M176.7 563v-4.5M176.7 307v4.5M56.5 553.9h4.5M56.5 538.6h9M56.5 523.3h4.5M56.5 508.1h4.5M56.5 492.8h4.5M56.5 477.5h9M56.5 462.2h4.5M56.5 446.9h4.5M56.5 431.7h4.5M56.5 416.4h9M56.5 401.1h4.5M56.5 385.9h4.5M56.5 370.6h4.5M56.5 355.3h9M56.5 340h4.5M56.5 324.8h4.5M56.5 309.5h4.5" stroke="#000" stroke-width="1.2" fill="none"/>
<path d="M191.6 307H586.5M191.6 563H586.5M586.5 307V563M204.1 563v-9M204.1 307v9M222.8 563v-4.5M222.8 307v4.5M241.4 563v-4.5M241.4 307v4.5M260.1 563v-4.5M260.1 307v4.5M278.8 563v-9M278.8 307v9M297.4 563v-4.5M297.4 307v4.5M316.1 563v-4.5M316.1 307v4.5M334.8 563v-4.5M334.8 307v4.5M353.5 563v-9M353.5 307v9M372.1 563v-4.5M372.1 307v4.5M390.8 563v-4.5M390.8 307v4.5M409.5 563v-4.5M409.5 307v4.5M428.1 563v-9M428.1 307v9M446.8 563v-4.5M446.8 307v4.5M465.5 563v-4.5M465.5 307v4.5M484.1 563v-4.5M484.1 307v4.5M502.8 563v-9M502.8 307v9M521.5 563v-4.5M521.5 307v4.5M540.2 563v-4.5M540.2 307v4.5M558.8 563v-4.5M558.8 307v4.5M577.5 563v-9M577.5 307v9M586.5 553.9h-4.5M586.5 538.6h-9M586.5 523.3h-4.5M586.5 508.1h-4.5M586.5 492.8h-4.5M586.5 477.5h-9M586.5 462.2h-4.5M586.5 446.9h-4.5M586.5 431.7h-4.5M586.5 416.4h-9M586.5 401.1h-4.5M586.5 385.9h-4.5M586.5 370.6h-4.5M586.5 355.3h-9M586.5 340h-4.5M586.5 324.8h-4.5M586.5 309.5h-4.5" stroke="#000" stroke-width="1.2" fill="none"/>
<g font-family="&quot;Liberation Sans&quot;, sans-serif" font-size="13.8" fill="#000" stroke="#000" stroke-width="0.25">
<text x="0" y="0" transform="translate(47.7 69.1) scale(1.14 1)" text-anchor="end">4000</text>
<text x="0" y="0" transform="translate(47.7 129.8) scale(1.14 1)" text-anchor="end">2000</text>
<text x="0" y="0" transform="translate(47.7 190.5) scale(1.14 1)" text-anchor="end">0</text>
<text x="0" y="0" transform="translate(47.7 251.2) scale(1.14 1)" text-anchor="end">−2000</text>
<text x="0" y="0" transform="translate(47.7 361.6) scale(1.14 1)" text-anchor="end">4000</text>
<text x="0" y="0" transform="translate(47.7 422.7) scale(1.14 1)" text-anchor="end">2000</text>
<text x="0" y="0" transform="translate(47.7 483.8) scale(1.14 1)" text-anchor="end">0</text>
<text x="0" y="0" transform="translate(47.7 544.9) scale(1.14 1)" text-anchor="end">−2000</text>
<text x="0" y="0" transform="translate(195 287.5) scale(1.14 1)" text-anchor="middle">60600</text>
<text x="0" y="0" transform="translate(372 287.5) scale(1.14 1)" text-anchor="middle">60800</text>
<text x="0" y="0" transform="translate(549 287.5) scale(1.14 1)" text-anchor="middle">61000</text>
<text x="0" y="0" transform="translate(85.3 581) scale(1.14 1)" text-anchor="middle">58200</text>
<text x="0" y="0" transform="translate(158.4 581) scale(1.14 1)" text-anchor="middle">58400</text>
<text x="0" y="0" transform="translate(204.1 581) scale(1.14 1)" text-anchor="middle">60000</text>
<text x="0" y="0" transform="translate(278.8 581) scale(1.14 1)" text-anchor="middle">60200</text>
<text x="0" y="0" transform="translate(353.5 581) scale(1.14 1)" text-anchor="middle">60400</text>
<text x="0" y="0" transform="translate(428.1 581) scale(1.14 1)" text-anchor="middle">60600</text>
<text x="0" y="0" transform="translate(502.8 581) scale(1.14 1)" text-anchor="middle">60800</text>
<text x="0" y="0" transform="translate(577.5 581) scale(1.14 1)" text-anchor="middle">61000</text>
</g>
</svg></body></html>
